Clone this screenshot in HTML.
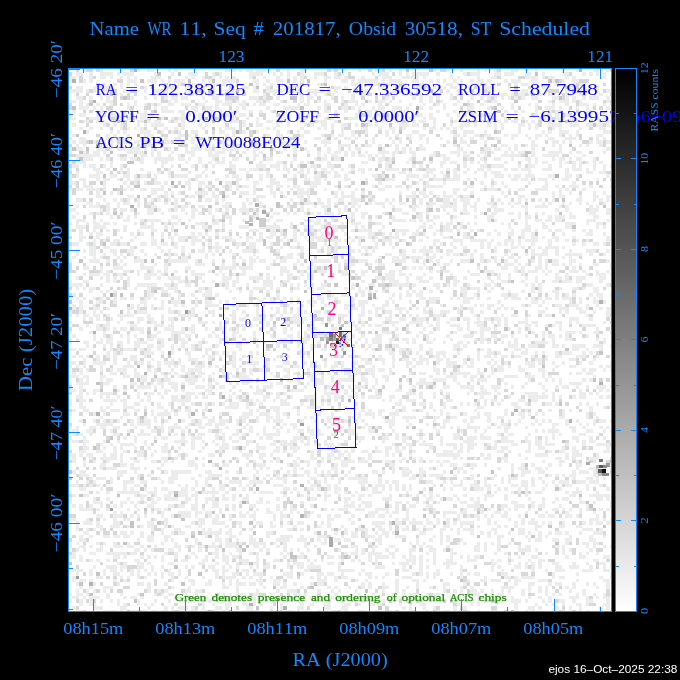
<!DOCTYPE html><html><head><meta charset="utf-8"><title>WR 11 ACIS field</title><style>html,body{margin:0;padding:0;background:#000;overflow:hidden}svg{display:block}text{font-kerning:none;font-variant-ligatures:none}</style></head><body>
<svg width="680" height="680" viewBox="0 0 680 680">
<rect width="680" height="680" fill="#000"/>
<rect x="69" y="69" width="542" height="542" fill="#fff"/>
<g shape-rendering="crispEdges"><path fill="#ececec" d="M83 69h3v3h-3zM100 69h3v3h-3zM120 69h3v3h-3zM137 69h3v3h-3zM147 69h7v3h-7zM168 69h3v3h-3zM174 69h4v3h-4zM225 69h11v3h-11zM239 69h3v3h-3zM246 69h7v3h-7zM256 69h10v3h-10zM287 69h3v3h-3zM300 69h7v3h-7zM331 69h3v3h-3zM358 69h3v3h-3zM375 69h7v3h-7zM389 69h3v3h-3zM399 69h3v3h-3zM433 69h3v3h-3zM446 69h4v3h-4zM460 69h3v3h-3zM477 69h3v3h-3zM484 69h3v3h-3zM494 69h3v3h-3zM511 69h7v3h-7zM525 69h3v3h-3zM535 69h3v3h-3zM562 69h3v3h-3zM576 69h3v3h-3zM593 69h6v3h-6zM606 69h4v3h-4zM76 72h7v4h-7zM89 72h4v4h-4zM100 72h13v4h-13zM117 72h3v4h-3zM123 72h11v4h-11zM154 72h3v4h-3zM171 72h3v4h-3zM188 72h10v4h-10zM212 72h3v4h-3zM219 72h3v4h-3zM249 72h14v4h-14zM273 72h3v4h-3zM280 72h3v4h-3zM287 72h3v4h-3zM300 72h4v4h-4zM314 72h10v4h-10zM334 72h4v4h-4zM341 72h3v4h-3zM372 72h3v4h-3zM378 72h11v4h-11zM399 72h3v4h-3zM406 72h3v4h-3zM412 72h17v4h-17zM436 72h4v4h-4zM450 72h3v4h-3zM463 72h4v4h-4zM470 72h10v4h-10zM494 72h7v4h-7zM504 72h10v4h-10zM525 72h6v4h-6zM542 72h3v4h-3zM562 72h7v4h-7zM582 72h4v4h-4zM589 72h4v4h-4zM596 72h3v4h-3zM603 72h3v4h-3zM69 76h7v3h-7zM89 76h4v3h-4zM100 76h6v3h-6zM110 76h3v3h-3zM120 76h3v3h-3zM127 76h3v3h-3zM134 76h3v3h-3zM151 76h10v3h-10zM185 76h3v3h-3zM191 76h4v3h-4zM202 76h3v3h-3zM212 76h3v3h-3zM219 76h3v3h-3zM225 76h4v3h-4zM232 76h4v3h-4zM249 76h4v3h-4zM263 76h3v3h-3zM276 76h4v3h-4zM287 76h3v3h-3zM293 76h4v3h-4zM300 76h4v3h-4zM314 76h3v3h-3zM324 76h7v3h-7zM334 76h7v3h-7zM344 76h4v3h-4zM361 76h4v3h-4zM382 76h10v3h-10zM402 76h17v3h-17zM423 76h3v3h-3zM450 76h3v3h-3zM457 76h3v3h-3zM477 76h3v3h-3zM491 76h6v3h-6zM525 76h13v3h-13zM542 76h3v3h-3zM548 76h7v3h-7zM565 76h4v3h-4zM572 76h4v3h-4zM603 76h3v3h-3zM69 79h3v4h-3zM83 79h3v4h-3zM89 79h4v4h-4zM127 79h10v4h-10zM147 79h10v4h-10zM161 79h3v4h-3zM168 79h3v4h-3zM174 79h11v4h-11zM202 79h3v4h-3zM208 79h4v4h-4zM222 79h14v4h-14zM253 79h6v4h-6zM266 79h4v4h-4zM276 79h7v4h-7zM293 79h4v4h-4zM300 79h4v4h-4zM324 79h3v4h-3zM341 79h7v4h-7zM351 79h4v4h-4zM358 79h20v4h-20zM382 79h3v4h-3zM389 79h13v4h-13zM412 79h7v4h-7zM429 79h4v4h-4zM436 79h4v4h-4zM443 79h3v4h-3zM453 79h4v4h-4zM460 79h3v4h-3zM470 79h4v4h-4zM477 79h7v4h-7zM487 79h4v4h-4zM504 79h4v4h-4zM511 79h10v4h-10zM531 79h7v4h-7zM552 79h3v4h-3zM562 79h3v4h-3zM572 79h7v4h-7zM610 79h1v4h-1zM103 83h3v3h-3zM113 83h4v3h-4zM120 83h3v3h-3zM127 83h3v3h-3zM134 83h3v3h-3zM161 83h3v3h-3zM178 83h3v3h-3zM191 83h4v3h-4zM205 83h14v3h-14zM222 83h3v3h-3zM229 83h3v3h-3zM236 83h3v3h-3zM256 83h3v3h-3zM263 83h3v3h-3zM270 83h3v3h-3zM307 83h3v3h-3zM317 83h4v3h-4zM351 83h10v3h-10zM368 83h4v3h-4zM375 83h3v3h-3zM385 83h7v3h-7zM402 83h4v3h-4zM419 83h7v3h-7zM446 83h7v3h-7zM457 83h6v3h-6zM474 83h3v3h-3zM484 83h3v3h-3zM491 83h3v3h-3zM514 83h4v3h-4zM521 83h7v3h-7zM555 83h4v3h-4zM572 83h4v3h-4zM579 83h7v3h-7zM610 83h1v3h-1zM76 86h7v3h-7zM93 86h17v3h-17zM120 86h3v3h-3zM144 86h3v3h-3zM164 86h10v3h-10zM185 86h6v3h-6zM202 86h3v3h-3zM212 86h3v3h-3zM242 86h7v3h-7zM253 86h3v3h-3zM266 86h4v3h-4zM287 86h3v3h-3zM293 86h7v3h-7zM327 86h4v3h-4zM334 86h7v3h-7zM344 86h4v3h-4zM355 86h3v3h-3zM378 86h7v3h-7zM402 86h4v3h-4zM416 86h7v3h-7zM426 86h3v3h-3zM433 86h3v3h-3zM443 86h3v3h-3zM450 86h7v3h-7zM477 86h3v3h-3zM484 86h10v3h-10zM508 86h3v3h-3zM535 86h3v3h-3zM542 86h6v3h-6zM569 86h7v3h-7zM596 86h3v3h-3zM69 89h14v4h-14zM86 89h3v4h-3zM93 89h3v4h-3zM103 89h7v4h-7zM123 89h4v4h-4zM144 89h3v4h-3zM154 89h7v4h-7zM164 89h4v4h-4zM171 89h3v4h-3zM185 89h6v4h-6zM202 89h3v4h-3zM212 89h3v4h-3zM219 89h3v4h-3zM225 89h11v4h-11zM253 89h6v4h-6zM266 89h17v4h-17zM287 89h3v4h-3zM293 89h7v4h-7zM307 89h17v4h-17zM327 89h4v4h-4zM334 89h4v4h-4zM361 89h7v4h-7zM392 89h10v4h-10zM406 89h6v4h-6zM416 89h3v4h-3zM446 89h4v4h-4zM457 89h6v4h-6zM487 89h4v4h-4zM521 89h7v4h-7zM545 89h3v4h-3zM565 89h4v4h-4zM576 89h6v4h-6zM586 89h3v4h-3zM596 89h3v4h-3zM606 89h5v4h-5zM103 93h3v3h-3zM113 93h4v3h-4zM120 93h3v3h-3zM157 93h4v3h-4zM171 93h7v3h-7zM191 93h7v3h-7zM212 93h3v3h-3zM219 93h6v3h-6zM236 93h3v3h-3zM263 93h3v3h-3zM273 93h3v3h-3zM300 93h4v3h-4zM307 93h3v3h-3zM314 93h3v3h-3zM324 93h3v3h-3zM331 93h3v3h-3zM351 93h4v3h-4zM361 93h7v3h-7zM375 93h3v3h-3zM389 93h3v3h-3zM402 93h4v3h-4zM409 93h7v3h-7zM419 93h4v3h-4zM426 93h3v3h-3zM436 93h4v3h-4zM450 93h3v3h-3zM457 93h6v3h-6zM470 93h4v3h-4zM477 93h3v3h-3zM501 93h7v3h-7zM511 93h3v3h-3zM518 93h7v3h-7zM528 93h3v3h-3zM538 93h7v3h-7zM548 93h4v3h-4zM565 93h7v3h-7zM579 93h3v3h-3zM599 93h4v3h-4zM76 96h7v4h-7zM89 96h4v4h-4zM100 96h3v4h-3zM106 96h4v4h-4zM130 96h4v4h-4zM144 96h3v4h-3zM154 96h3v4h-3zM164 96h4v4h-4zM171 96h7v4h-7zM181 96h7v4h-7zM202 96h3v4h-3zM212 96h7v4h-7zM249 96h10v4h-10zM263 96h3v4h-3zM276 96h4v4h-4zM300 96h4v4h-4zM307 96h7v4h-7zM331 96h3v4h-3zM341 96h3v4h-3zM351 96h4v4h-4zM385 96h4v4h-4zM412 96h4v4h-4zM419 96h4v4h-4zM429 96h4v4h-4zM436 96h4v4h-4zM450 96h3v4h-3zM470 96h4v4h-4zM480 96h4v4h-4zM487 96h4v4h-4zM494 96h3v4h-3zM501 96h3v4h-3zM508 96h3v4h-3zM514 96h4v4h-4zM521 96h4v4h-4zM531 96h7v4h-7zM552 96h7v4h-7zM565 96h4v4h-4zM572 96h4v4h-4zM582 96h4v4h-4zM589 96h10v4h-10zM606 96h4v4h-4zM69 100h7v3h-7zM79 100h4v3h-4zM106 100h7v3h-7zM134 100h3v3h-3zM168 100h3v3h-3zM174 100h4v3h-4zM205 100h3v3h-3zM215 100h7v3h-7zM225 100h7v3h-7zM236 100h3v3h-3zM242 100h4v3h-4zM256 100h7v3h-7zM266 100h4v3h-4zM280 100h3v3h-3zM300 100h4v3h-4zM307 100h3v3h-3zM317 100h4v3h-4zM324 100h3v3h-3zM341 100h3v3h-3zM348 100h10v3h-10zM368 100h4v3h-4zM378 100h7v3h-7zM389 100h3v3h-3zM399 100h3v3h-3zM419 100h4v3h-4zM429 100h4v3h-4zM440 100h3v3h-3zM457 100h3v3h-3zM467 100h3v3h-3zM484 100h3v3h-3zM491 100h6v3h-6zM548 100h4v3h-4zM559 100h10v3h-10zM572 100h4v3h-4zM579 100h3v3h-3zM606 100h4v3h-4zM79 103h4v3h-4zM86 103h3v3h-3zM96 103h4v3h-4zM110 103h3v3h-3zM127 103h3v3h-3zM134 103h3v3h-3zM144 103h3v3h-3zM151 103h3v3h-3zM157 103h4v3h-4zM168 103h6v3h-6zM181 103h10v3h-10zM198 103h7v3h-7zM215 103h4v3h-4zM222 103h10v3h-10zM239 103h7v3h-7zM253 103h3v3h-3zM259 103h7v3h-7zM273 103h7v3h-7zM297 103h3v3h-3zM304 103h6v3h-6zM324 103h7v3h-7zM344 103h4v3h-4zM355 103h3v3h-3zM361 103h4v3h-4zM378 103h4v3h-4zM409 103h3v3h-3zM423 103h3v3h-3zM436 103h4v3h-4zM443 103h3v3h-3zM453 103h4v3h-4zM470 103h4v3h-4zM480 103h4v3h-4zM511 103h3v3h-3zM528 103h3v3h-3zM535 103h3v3h-3zM552 103h3v3h-3zM565 103h4v3h-4zM579 103h10v3h-10zM593 103h3v3h-3zM603 103h3v3h-3zM610 103h1v3h-1zM79 106h10v4h-10zM93 106h3v4h-3zM100 106h3v4h-3zM127 106h3v4h-3zM154 106h3v4h-3zM161 106h7v4h-7zM191 106h7v4h-7zM205 106h7v4h-7zM215 106h4v4h-4zM236 106h3v4h-3zM242 106h4v4h-4zM266 106h4v4h-4zM283 106h17v4h-17zM317 106h4v4h-4zM324 106h3v4h-3zM341 106h7v4h-7zM351 106h4v4h-4zM358 106h3v4h-3zM372 106h3v4h-3zM378 106h7v4h-7zM392 106h10v4h-10zM406 106h3v4h-3zM419 106h4v4h-4zM429 106h4v4h-4zM443 106h3v4h-3zM467 106h7v4h-7zM487 106h4v4h-4zM501 106h3v4h-3zM511 106h3v4h-3zM535 106h3v4h-3zM545 106h10v4h-10zM559 106h3v4h-3zM576 106h3v4h-3zM586 106h3v4h-3zM606 106h4v4h-4zM72 110h4v3h-4zM96 110h7v3h-7zM106 110h7v3h-7zM120 110h7v3h-7zM130 110h4v3h-4zM137 110h3v3h-3zM144 110h3v3h-3zM161 110h13v3h-13zM178 110h7v3h-7zM188 110h3v3h-3zM195 110h3v3h-3zM202 110h3v3h-3zM208 110h7v3h-7zM219 110h3v3h-3zM229 110h10v3h-10zM249 110h4v3h-4zM259 110h4v3h-4zM270 110h3v3h-3zM283 110h4v3h-4zM290 110h7v3h-7zM300 110h4v3h-4zM310 110h7v3h-7zM324 110h7v3h-7zM334 110h4v3h-4zM344 110h4v3h-4zM365 110h7v3h-7zM382 110h3v3h-3zM392 110h3v3h-3zM402 110h7v3h-7zM436 110h4v3h-4zM453 110h4v3h-4zM470 110h4v3h-4zM494 110h3v3h-3zM504 110h4v3h-4zM514 110h4v3h-4zM521 110h4v3h-4zM535 110h3v3h-3zM542 110h3v3h-3zM548 110h4v3h-4zM555 110h7v3h-7zM586 110h7v3h-7zM69 113h3v4h-3zM79 113h7v4h-7zM96 113h4v4h-4zM103 113h3v4h-3zM110 113h10v4h-10zM123 113h4v4h-4zM140 113h14v4h-14zM181 113h4v4h-4zM188 113h3v4h-3zM198 113h4v4h-4zM219 113h3v4h-3zM225 113h11v4h-11zM239 113h7v4h-7zM297 113h3v4h-3zM307 113h3v4h-3zM317 113h4v4h-4zM355 113h6v4h-6zM365 113h7v4h-7zM375 113h7v4h-7zM392 113h7v4h-7zM412 113h11v4h-11zM429 113h4v4h-4zM446 113h4v4h-4zM457 113h3v4h-3zM463 113h4v4h-4zM470 113h4v4h-4zM477 113h17v4h-17zM535 113h3v4h-3zM545 113h7v4h-7zM555 113h4v4h-4zM565 113h4v4h-4zM586 113h3v4h-3zM603 113h3v4h-3zM610 113h1v4h-1zM69 117h7v3h-7zM89 117h14v3h-14zM120 117h3v3h-3zM127 117h3v3h-3zM134 117h3v3h-3zM140 117h7v3h-7zM161 117h3v3h-3zM171 117h3v3h-3zM178 117h7v3h-7zM198 117h4v3h-4zM219 117h3v3h-3zM232 117h4v3h-4zM246 117h3v3h-3zM256 117h3v3h-3zM283 117h7v3h-7zM297 117h3v3h-3zM304 117h3v3h-3zM324 117h3v3h-3zM331 117h3v3h-3zM348 117h10v3h-10zM382 117h7v3h-7zM392 117h3v3h-3zM409 117h3v3h-3zM423 117h3v3h-3zM429 117h7v3h-7zM450 117h3v3h-3zM504 117h4v3h-4zM521 117h4v3h-4zM538 117h14v3h-14zM555 117h10v3h-10zM569 117h7v3h-7zM582 117h4v3h-4zM589 117h4v3h-4zM596 117h3v3h-3zM603 117h3v3h-3zM83 120h6v3h-6zM96 120h10v3h-10zM113 120h4v3h-4zM120 120h3v3h-3zM137 120h7v3h-7zM147 120h4v3h-4zM154 120h7v3h-7zM168 120h3v3h-3zM174 120h4v3h-4zM181 120h4v3h-4zM188 120h7v3h-7zM202 120h3v3h-3zM229 120h10v3h-10zM242 120h4v3h-4zM256 120h3v3h-3zM266 120h7v3h-7zM276 120h4v3h-4zM287 120h3v3h-3zM300 120h4v3h-4zM317 120h10v3h-10zM334 120h4v3h-4zM361 120h4v3h-4zM368 120h4v3h-4zM382 120h3v3h-3zM395 120h4v3h-4zM406 120h3v3h-3zM412 120h4v3h-4zM419 120h7v3h-7zM433 120h3v3h-3zM453 120h4v3h-4zM463 120h4v3h-4zM470 120h4v3h-4zM480 120h7v3h-7zM494 120h7v3h-7zM504 120h4v3h-4zM511 120h7v3h-7zM525 120h3v3h-3zM531 120h4v3h-4zM548 120h7v3h-7zM569 120h10v3h-10zM599 120h4v3h-4zM606 120h4v3h-4zM72 123h4v4h-4zM103 123h3v4h-3zM113 123h4v4h-4zM120 123h3v4h-3zM137 123h3v4h-3zM144 123h3v4h-3zM151 123h13v4h-13zM181 123h4v4h-4zM198 123h4v4h-4zM205 123h3v4h-3zM242 123h4v4h-4zM256 123h7v4h-7zM276 123h4v4h-4zM287 123h3v4h-3zM304 123h3v4h-3zM310 123h4v4h-4zM321 123h6v4h-6zM331 123h3v4h-3zM341 123h7v4h-7zM355 123h3v4h-3zM368 123h4v4h-4zM375 123h3v4h-3zM399 123h10v4h-10zM412 123h7v4h-7zM433 123h3v4h-3zM450 123h3v4h-3zM460 123h10v4h-10zM474 123h3v4h-3zM487 123h4v4h-4zM494 123h3v4h-3zM501 123h3v4h-3zM518 123h7v4h-7zM528 123h3v4h-3zM535 123h3v4h-3zM548 123h14v4h-14zM569 123h10v4h-10zM586 123h7v4h-7zM596 123h7v4h-7zM606 123h4v4h-4zM79 127h4v3h-4zM89 127h4v3h-4zM100 127h3v3h-3zM120 127h3v3h-3zM127 127h3v3h-3zM134 127h3v3h-3zM140 127h4v3h-4zM164 127h4v3h-4zM174 127h4v3h-4zM181 127h4v3h-4zM202 127h3v3h-3zM219 127h3v3h-3zM225 127h11v3h-11zM266 127h4v3h-4zM273 127h3v3h-3zM300 127h4v3h-4zM317 127h4v3h-4zM324 127h3v3h-3zM331 127h3v3h-3zM341 127h3v3h-3zM361 127h7v3h-7zM378 127h4v3h-4zM389 127h6v3h-6zM402 127h4v3h-4zM423 127h3v3h-3zM429 127h7v3h-7zM440 127h3v3h-3zM446 127h4v3h-4zM453 127h4v3h-4zM460 127h3v3h-3zM494 127h3v3h-3zM501 127h3v3h-3zM518 127h3v3h-3zM528 127h3v3h-3zM535 127h3v3h-3zM552 127h3v3h-3zM559 127h3v3h-3zM579 127h3v3h-3zM599 127h7v3h-7zM69 130h3v4h-3zM86 130h3v4h-3zM110 130h3v4h-3zM117 130h3v4h-3zM123 130h4v4h-4zM140 130h11v4h-11zM161 130h3v4h-3zM171 130h3v4h-3zM178 130h3v4h-3zM191 130h7v4h-7zM219 130h6v4h-6zM232 130h4v4h-4zM242 130h4v4h-4zM256 130h3v4h-3zM276 130h4v4h-4zM287 130h3v4h-3zM297 130h3v4h-3zM304 130h6v4h-6zM341 130h3v4h-3zM351 130h4v4h-4zM365 130h3v4h-3zM385 130h4v4h-4zM392 130h3v4h-3zM412 130h7v4h-7zM450 130h3v4h-3zM463 130h11v4h-11zM484 130h3v4h-3zM518 130h3v4h-3zM542 130h3v4h-3zM548 130h4v4h-4zM559 130h10v4h-10zM576 130h3v4h-3zM603 130h8v4h-8zM72 134h4v3h-4zM106 134h4v3h-4zM113 134h4v3h-4zM127 134h3v3h-3zM144 134h10v3h-10zM178 134h7v3h-7zM188 134h3v3h-3zM212 134h3v3h-3zM225 134h4v3h-4zM232 134h4v3h-4zM266 134h4v3h-4zM276 134h7v3h-7zM300 134h4v3h-4zM321 134h3v3h-3zM331 134h3v3h-3zM338 134h6v3h-6zM351 134h4v3h-4zM385 134h4v3h-4zM395 134h4v3h-4zM406 134h6v3h-6zM419 134h7v3h-7zM453 134h7v3h-7zM463 134h4v3h-4zM474 134h6v3h-6zM484 134h7v3h-7zM504 134h4v3h-4zM511 134h7v3h-7zM525 134h3v3h-3zM535 134h7v3h-7zM545 134h3v3h-3zM559 134h3v3h-3zM569 134h3v3h-3zM576 134h3v3h-3zM596 134h7v3h-7zM69 137h3v3h-3zM79 137h7v3h-7zM100 137h3v3h-3zM106 137h7v3h-7zM123 137h4v3h-4zM140 137h7v3h-7zM151 137h3v3h-3zM164 137h4v3h-4zM174 137h7v3h-7zM191 137h4v3h-4zM212 137h7v3h-7zM236 137h3v3h-3zM253 137h3v3h-3zM270 137h3v3h-3zM276 137h4v3h-4zM314 137h7v3h-7zM324 137h3v3h-3zM334 137h4v3h-4zM344 137h7v3h-7zM355 137h3v3h-3zM372 137h3v3h-3zM389 137h3v3h-3zM399 137h3v3h-3zM409 137h3v3h-3zM419 137h4v3h-4zM426 137h3v3h-3zM440 137h3v3h-3zM460 137h3v3h-3zM470 137h4v3h-4zM480 137h4v3h-4zM494 137h7v3h-7zM511 137h3v3h-3zM528 137h3v3h-3zM535 137h3v3h-3zM548 137h7v3h-7zM565 137h11v3h-11zM596 137h3v3h-3zM603 137h3v3h-3zM72 140h4v4h-4zM79 140h7v4h-7zM93 140h3v4h-3zM100 140h6v4h-6zM110 140h3v4h-3zM123 140h7v4h-7zM134 140h6v4h-6zM144 140h7v4h-7zM157 140h4v4h-4zM164 140h7v4h-7zM174 140h7v4h-7zM191 140h4v4h-4zM222 140h3v4h-3zM253 140h6v4h-6zM263 140h3v4h-3zM270 140h3v4h-3zM280 140h7v4h-7zM293 140h4v4h-4zM304 140h3v4h-3zM321 140h10v4h-10zM372 140h3v4h-3zM392 140h3v4h-3zM399 140h3v4h-3zM426 140h3v4h-3zM446 140h4v4h-4zM460 140h7v4h-7zM484 140h3v4h-3zM531 140h4v4h-4zM552 140h7v4h-7zM562 140h3v4h-3zM569 140h3v4h-3zM589 140h4v4h-4zM596 140h7v4h-7zM606 140h5v4h-5zM76 144h3v3h-3zM83 144h3v3h-3zM100 144h6v3h-6zM110 144h3v3h-3zM117 144h6v3h-6zM147 144h4v3h-4zM161 144h3v3h-3zM195 144h3v3h-3zM202 144h3v3h-3zM212 144h3v3h-3zM222 144h7v3h-7zM236 144h3v3h-3zM249 144h10v3h-10zM263 144h3v3h-3zM283 144h4v3h-4zM290 144h3v3h-3zM324 144h3v3h-3zM338 144h13v3h-13zM365 144h7v3h-7zM378 144h4v3h-4zM389 144h3v3h-3zM395 144h4v3h-4zM419 144h4v3h-4zM440 144h3v3h-3zM453 144h4v3h-4zM467 144h3v3h-3zM501 144h7v3h-7zM514 144h4v3h-4zM525 144h3v3h-3zM531 144h7v3h-7zM552 144h3v3h-3zM559 144h3v3h-3zM579 144h3v3h-3zM586 144h3v3h-3zM599 144h4v3h-4zM69 147h3v4h-3zM76 147h7v4h-7zM96 147h10v4h-10zM110 147h3v4h-3zM117 147h10v4h-10zM130 147h10v4h-10zM144 147h3v4h-3zM151 147h3v4h-3zM168 147h3v4h-3zM185 147h3v4h-3zM191 147h11v4h-11zM205 147h7v4h-7zM222 147h17v4h-17zM246 147h3v4h-3zM253 147h6v4h-6zM273 147h3v4h-3zM283 147h4v4h-4zM293 147h4v4h-4zM304 147h3v4h-3zM327 147h4v4h-4zM338 147h3v4h-3zM348 147h3v4h-3zM355 147h6v4h-6zM382 147h3v4h-3zM395 147h4v4h-4zM402 147h4v4h-4zM409 147h3v4h-3zM419 147h7v4h-7zM457 147h6v4h-6zM484 147h7v4h-7zM494 147h7v4h-7zM508 147h3v4h-3zM514 147h4v4h-4zM531 147h4v4h-4zM559 147h3v4h-3zM606 147h5v4h-5zM69 151h3v3h-3zM83 151h3v3h-3zM93 151h7v3h-7zM103 151h3v3h-3zM127 151h17v3h-17zM151 151h3v3h-3zM157 151h4v3h-4zM171 151h3v3h-3zM185 151h10v3h-10zM208 151h4v3h-4zM215 151h10v3h-10zM229 151h3v3h-3zM242 151h4v3h-4zM253 151h3v3h-3zM259 151h4v3h-4zM280 151h3v3h-3zM293 151h4v3h-4zM307 151h3v3h-3zM317 151h4v3h-4zM327 151h4v3h-4zM334 151h7v3h-7zM344 151h4v3h-4zM351 151h4v3h-4zM365 151h3v3h-3zM378 151h11v3h-11zM392 151h7v3h-7zM402 151h4v3h-4zM409 151h7v3h-7zM433 151h3v3h-3zM450 151h10v3h-10zM463 151h4v3h-4zM480 151h7v3h-7zM491 151h3v3h-3zM504 151h4v3h-4zM511 151h3v3h-3zM518 151h7v3h-7zM531 151h4v3h-4zM548 151h14v3h-14zM569 151h3v3h-3zM576 151h6v3h-6zM603 151h3v3h-3zM76 154h24v3h-24zM117 154h3v3h-3zM140 154h7v3h-7zM151 154h3v3h-3zM157 154h4v3h-4zM168 154h3v3h-3zM178 154h3v3h-3zM191 154h4v3h-4zM208 154h11v3h-11zM253 154h6v3h-6zM317 154h4v3h-4zM324 154h3v3h-3zM331 154h7v3h-7zM344 154h4v3h-4zM351 154h4v3h-4zM358 154h7v3h-7zM368 154h4v3h-4zM375 154h3v3h-3zM382 154h3v3h-3zM392 154h3v3h-3zM412 154h4v3h-4zM429 154h7v3h-7zM440 154h6v3h-6zM457 154h3v3h-3zM463 154h7v3h-7zM477 154h3v3h-3zM484 154h3v3h-3zM501 154h20v3h-20zM531 154h4v3h-4zM542 154h17v3h-17zM582 154h4v3h-4zM76 157h3v4h-3zM83 157h10v4h-10zM100 157h3v4h-3zM106 157h4v4h-4zM120 157h7v4h-7zM130 157h7v4h-7zM140 157h4v4h-4zM154 157h20v4h-20zM178 157h7v4h-7zM188 157h3v4h-3zM198 157h4v4h-4zM212 157h3v4h-3zM222 157h3v4h-3zM232 157h7v4h-7zM253 157h3v4h-3zM266 157h7v4h-7zM293 157h4v4h-4zM314 157h3v4h-3zM321 157h6v4h-6zM334 157h7v4h-7zM368 157h4v4h-4zM378 157h7v4h-7zM389 157h3v4h-3zM409 157h3v4h-3zM443 157h7v4h-7zM467 157h3v4h-3zM480 157h4v4h-4zM494 157h7v4h-7zM511 157h3v4h-3zM525 157h6v4h-6zM535 157h3v4h-3zM552 157h3v4h-3zM559 157h6v4h-6zM569 157h3v4h-3zM576 157h6v4h-6zM593 157h3v4h-3zM69 161h3v3h-3zM79 161h7v3h-7zM110 161h3v3h-3zM140 161h4v3h-4zM154 161h3v3h-3zM161 161h7v3h-7zM185 161h3v3h-3zM198 161h4v3h-4zM208 161h4v3h-4zM215 161h10v3h-10zM229 161h3v3h-3zM259 161h4v3h-4zM276 161h7v3h-7zM290 161h3v3h-3zM300 161h4v3h-4zM307 161h3v3h-3zM327 161h4v3h-4zM361 161h7v3h-7zM378 161h4v3h-4zM385 161h7v3h-7zM406 161h3v3h-3zM429 161h4v3h-4zM440 161h6v3h-6zM450 161h7v3h-7zM463 161h4v3h-4zM470 161h4v3h-4zM477 161h3v3h-3zM484 161h3v3h-3zM504 161h4v3h-4zM528 161h3v3h-3zM535 161h3v3h-3zM542 161h6v3h-6zM559 161h3v3h-3zM565 161h4v3h-4zM572 161h4v3h-4zM579 161h3v3h-3zM586 161h3v3h-3zM593 161h3v3h-3zM599 161h4v3h-4zM72 164h7v4h-7zM83 164h3v4h-3zM89 164h7v4h-7zM103 164h3v4h-3zM110 164h3v4h-3zM120 164h3v4h-3zM161 164h3v4h-3zM171 164h3v4h-3zM191 164h4v4h-4zM202 164h3v4h-3zM212 164h3v4h-3zM229 164h7v4h-7zM256 164h10v4h-10zM270 164h10v4h-10zM283 164h4v4h-4zM297 164h3v4h-3zM310 164h7v4h-7zM327 164h7v4h-7zM348 164h3v4h-3zM385 164h4v4h-4zM412 164h4v4h-4zM419 164h4v4h-4zM440 164h3v4h-3zM463 164h4v4h-4zM480 164h7v4h-7zM491 164h13v4h-13zM518 164h3v4h-3zM528 164h7v4h-7zM548 164h4v4h-4zM559 164h3v4h-3zM572 164h4v4h-4zM579 164h3v4h-3zM593 164h3v4h-3zM603 164h3v4h-3zM610 164h1v4h-1zM69 168h3v3h-3zM93 168h7v3h-7zM106 168h4v3h-4zM120 168h3v3h-3zM127 168h3v3h-3zM140 168h4v3h-4zM168 168h3v3h-3zM205 168h3v3h-3zM232 168h4v3h-4zM239 168h7v3h-7zM249 168h10v3h-10zM263 168h3v3h-3zM276 168h4v3h-4zM283 168h7v3h-7zM300 168h4v3h-4zM307 168h3v3h-3zM314 168h3v3h-3zM321 168h6v3h-6zM331 168h3v3h-3zM341 168h3v3h-3zM351 168h4v3h-4zM358 168h7v3h-7zM368 168h4v3h-4zM385 168h14v3h-14zM406 168h3v3h-3zM416 168h3v3h-3zM426 168h10v3h-10zM446 168h4v3h-4zM453 168h4v3h-4zM467 168h3v3h-3zM477 168h7v3h-7zM487 168h4v3h-4zM504 168h4v3h-4zM511 168h7v3h-7zM521 168h10v3h-10zM542 168h10v3h-10zM565 168h4v3h-4zM572 168h10v3h-10zM586 168h3v3h-3zM593 168h3v3h-3zM603 168h3v3h-3zM76 171h3v3h-3zM96 171h7v3h-7zM120 171h3v3h-3zM127 171h3v3h-3zM147 171h4v3h-4zM157 171h4v3h-4zM168 171h3v3h-3zM188 171h3v3h-3zM202 171h3v3h-3zM246 171h3v3h-3zM266 171h4v3h-4zM287 171h3v3h-3zM297 171h7v3h-7zM307 171h3v3h-3zM317 171h4v3h-4zM324 171h7v3h-7zM334 171h4v3h-4zM348 171h3v3h-3zM361 171h4v3h-4zM399 171h7v3h-7zM409 171h3v3h-3zM426 171h7v3h-7zM440 171h3v3h-3zM453 171h4v3h-4zM463 171h4v3h-4zM474 171h3v3h-3zM484 171h3v3h-3zM491 171h10v3h-10zM528 171h3v3h-3zM565 171h4v3h-4zM586 171h7v3h-7zM599 171h7v3h-7zM69 174h3v4h-3zM76 174h3v4h-3zM89 174h11v4h-11zM110 174h7v4h-7zM123 174h7v4h-7zM134 174h3v4h-3zM140 174h7v4h-7zM154 174h3v4h-3zM168 174h3v4h-3zM174 174h14v4h-14zM195 174h7v4h-7zM205 174h3v4h-3zM225 174h4v4h-4zM232 174h7v4h-7zM259 174h4v4h-4zM266 174h4v4h-4zM293 174h4v4h-4zM304 174h3v4h-3zM314 174h7v4h-7zM334 174h7v4h-7zM344 174h4v4h-4zM372 174h6v4h-6zM382 174h3v4h-3zM406 174h13v4h-13zM423 174h6v4h-6zM433 174h3v4h-3zM443 174h3v4h-3zM453 174h7v4h-7zM484 174h3v4h-3zM494 174h10v4h-10zM508 174h3v4h-3zM514 174h7v4h-7zM525 174h10v4h-10zM548 174h7v4h-7zM565 174h7v4h-7zM576 174h3v4h-3zM606 174h4v4h-4zM69 178h3v3h-3zM79 178h7v3h-7zM96 178h4v3h-4zM103 178h7v3h-7zM117 178h3v3h-3zM127 178h3v3h-3zM134 178h6v3h-6zM154 178h3v3h-3zM188 178h3v3h-3zM195 178h3v3h-3zM215 178h4v3h-4zM236 178h6v3h-6zM246 178h3v3h-3zM259 178h4v3h-4zM270 178h6v3h-6zM287 178h6v3h-6zM304 178h6v3h-6zM314 178h7v3h-7zM324 178h3v3h-3zM344 178h7v3h-7zM365 178h3v3h-3zM385 178h10v3h-10zM406 178h3v3h-3zM419 178h4v3h-4zM433 178h10v3h-10zM446 178h14v3h-14zM467 178h3v3h-3zM474 178h3v3h-3zM491 178h3v3h-3zM511 178h7v3h-7zM521 178h7v3h-7zM538 178h10v3h-10zM552 178h3v3h-3zM562 178h7v3h-7zM596 178h3v3h-3zM69 181h7v4h-7zM83 181h3v4h-3zM103 181h3v4h-3zM123 181h4v4h-4zM134 181h3v4h-3zM144 181h3v4h-3zM154 181h7v4h-7zM164 181h4v4h-4zM185 181h6v4h-6zM198 181h7v4h-7zM225 181h7v4h-7zM236 181h3v4h-3zM253 181h6v4h-6zM270 181h10v4h-10zM310 181h11v4h-11zM378 181h4v4h-4zM416 181h3v4h-3zM426 181h3v4h-3zM443 181h3v4h-3zM480 181h4v4h-4zM494 181h3v4h-3zM501 181h3v4h-3zM528 181h3v4h-3zM545 181h3v4h-3zM572 181h4v4h-4zM83 185h10v3h-10zM103 185h3v3h-3zM127 185h3v3h-3zM161 185h3v3h-3zM171 185h3v3h-3zM188 185h3v3h-3zM198 185h4v3h-4zM205 185h7v3h-7zM222 185h3v3h-3zM229 185h3v3h-3zM236 185h3v3h-3zM242 185h7v3h-7zM253 185h3v3h-3zM266 185h7v3h-7zM276 185h7v3h-7zM287 185h3v3h-3zM293 185h7v3h-7zM310 185h7v3h-7zM334 185h4v3h-4zM344 185h4v3h-4zM372 185h3v3h-3zM385 185h7v3h-7zM395 185h7v3h-7zM409 185h3v3h-3zM423 185h20v3h-20zM467 185h7v3h-7zM484 185h3v3h-3zM491 185h3v3h-3zM504 185h4v3h-4zM542 185h6v3h-6zM555 185h4v3h-4zM569 185h10v3h-10zM589 185h4v3h-4zM610 185h1v3h-1zM69 188h3v3h-3zM76 188h7v3h-7zM86 188h14v3h-14zM103 188h3v3h-3zM123 188h4v3h-4zM130 188h4v3h-4zM140 188h7v3h-7zM151 188h13v3h-13zM188 188h3v3h-3zM202 188h3v3h-3zM229 188h3v3h-3zM236 188h3v3h-3zM253 188h3v3h-3zM270 188h3v3h-3zM290 188h3v3h-3zM297 188h7v3h-7zM307 188h3v3h-3zM324 188h3v3h-3zM338 188h3v3h-3zM355 188h3v3h-3zM378 188h7v3h-7zM406 188h3v3h-3zM453 188h7v3h-7zM463 188h4v3h-4zM480 188h4v3h-4zM487 188h10v3h-10zM508 188h3v3h-3zM518 188h7v3h-7zM535 188h13v3h-13zM559 188h3v3h-3zM565 188h4v3h-4zM582 188h4v3h-4zM96 191h4v4h-4zM110 191h3v4h-3zM117 191h3v4h-3zM151 191h6v4h-6zM164 191h4v4h-4zM171 191h3v4h-3zM178 191h3v4h-3zM195 191h13v4h-13zM212 191h3v4h-3zM239 191h10v4h-10zM253 191h3v4h-3zM270 191h6v4h-6zM280 191h3v4h-3zM297 191h13v4h-13zM334 191h4v4h-4zM341 191h3v4h-3zM351 191h4v4h-4zM361 191h4v4h-4zM399 191h3v4h-3zM412 191h4v4h-4zM419 191h7v4h-7zM429 191h4v4h-4zM443 191h3v4h-3zM453 191h4v4h-4zM470 191h4v4h-4zM501 191h3v4h-3zM552 191h3v4h-3zM559 191h3v4h-3zM569 191h3v4h-3zM593 191h3v4h-3zM603 191h3v4h-3zM96 195h7v3h-7zM127 195h7v3h-7zM157 195h4v3h-4zM164 195h4v3h-4zM188 195h7v3h-7zM202 195h3v3h-3zM212 195h7v3h-7zM225 195h4v3h-4zM256 195h10v3h-10zM273 195h3v3h-3zM283 195h4v3h-4zM297 195h7v3h-7zM307 195h3v3h-3zM334 195h4v3h-4zM341 195h14v3h-14zM368 195h4v3h-4zM406 195h10v3h-10zM423 195h6v3h-6zM436 195h4v3h-4zM443 195h10v3h-10zM457 195h3v3h-3zM463 195h7v3h-7zM491 195h3v3h-3zM504 195h4v3h-4zM518 195h7v3h-7zM552 195h3v3h-3zM559 195h6v3h-6zM579 195h3v3h-3zM593 195h6v3h-6zM606 195h5v3h-5zM76 198h7v4h-7zM103 198h3v4h-3zM113 198h4v4h-4zM120 198h3v4h-3zM127 198h3v4h-3zM137 198h3v4h-3zM151 198h3v4h-3zM157 198h4v4h-4zM168 198h3v4h-3zM174 198h4v4h-4zM205 198h7v4h-7zM215 198h4v4h-4zM222 198h3v4h-3zM246 198h3v4h-3zM256 198h3v4h-3zM290 198h3v4h-3zM300 198h4v4h-4zM307 198h3v4h-3zM317 198h4v4h-4zM327 198h4v4h-4zM338 198h6v4h-6zM351 198h10v4h-10zM372 198h3v4h-3zM385 198h4v4h-4zM392 198h3v4h-3zM419 198h4v4h-4zM443 198h7v4h-7zM453 198h4v4h-4zM460 198h10v4h-10zM477 198h3v4h-3zM497 198h4v4h-4zM518 198h3v4h-3zM525 198h3v4h-3zM538 198h4v4h-4zM552 198h3v4h-3zM576 198h6v4h-6zM593 198h3v4h-3zM599 198h4v4h-4zM606 198h4v4h-4zM86 202h7v3h-7zM96 202h4v3h-4zM106 202h4v3h-4zM117 202h3v3h-3zM123 202h7v3h-7zM137 202h3v3h-3zM147 202h4v3h-4zM164 202h4v3h-4zM174 202h4v3h-4zM188 202h3v3h-3zM225 202h7v3h-7zM242 202h4v3h-4zM249 202h4v3h-4zM259 202h4v3h-4zM297 202h3v3h-3zM304 202h10v3h-10zM317 202h7v3h-7zM327 202h4v3h-4zM334 202h4v3h-4zM351 202h7v3h-7zM368 202h4v3h-4zM375 202h10v3h-10zM389 202h3v3h-3zM399 202h7v3h-7zM419 202h4v3h-4zM429 202h7v3h-7zM443 202h7v3h-7zM453 202h4v3h-4zM463 202h7v3h-7zM474 202h3v3h-3zM487 202h7v3h-7zM501 202h3v3h-3zM508 202h3v3h-3zM514 202h7v3h-7zM542 202h3v3h-3zM548 202h4v3h-4zM562 202h3v3h-3zM569 202h3v3h-3zM579 202h3v3h-3zM586 202h3v3h-3zM603 202h3v3h-3zM76 205h3v3h-3zM89 205h11v3h-11zM106 205h4v3h-4zM117 205h3v3h-3zM137 205h3v3h-3zM151 205h6v3h-6zM174 205h4v3h-4zM181 205h7v3h-7zM198 205h7v3h-7zM222 205h7v3h-7zM242 205h4v3h-4zM259 205h4v3h-4zM287 205h3v3h-3zM300 205h4v3h-4zM314 205h3v3h-3zM321 205h10v3h-10zM344 205h4v3h-4zM351 205h4v3h-4zM358 205h3v3h-3zM382 205h3v3h-3zM392 205h3v3h-3zM412 205h7v3h-7zM426 205h7v3h-7zM440 205h17v3h-17zM463 205h4v3h-4zM470 205h7v3h-7zM491 205h6v3h-6zM511 205h3v3h-3zM521 205h7v3h-7zM535 205h13v3h-13zM559 205h3v3h-3zM565 205h4v3h-4zM589 205h4v3h-4zM596 205h3v3h-3zM69 208h7v4h-7zM100 208h3v4h-3zM106 208h4v4h-4zM120 208h7v4h-7zM130 208h4v4h-4zM147 208h7v4h-7zM157 208h4v4h-4zM168 208h3v4h-3zM174 208h4v4h-4zM181 208h4v4h-4zM191 208h7v4h-7zM208 208h4v4h-4zM215 208h4v4h-4zM225 208h4v4h-4zM239 208h10v4h-10zM253 208h3v4h-3zM263 208h3v4h-3zM300 208h4v4h-4zM307 208h3v4h-3zM324 208h3v4h-3zM338 208h3v4h-3zM344 208h4v4h-4zM355 208h3v4h-3zM395 208h7v4h-7zM412 208h4v4h-4zM443 208h3v4h-3zM453 208h4v4h-4zM463 208h4v4h-4zM474 208h3v4h-3zM494 208h10v4h-10zM525 208h3v4h-3zM555 208h4v4h-4zM565 208h4v4h-4zM589 208h10v4h-10zM606 208h5v4h-5zM76 212h3v3h-3zM89 212h4v3h-4zM96 212h4v3h-4zM106 212h4v3h-4zM137 212h3v3h-3zM147 212h7v3h-7zM161 212h3v3h-3zM185 212h3v3h-3zM191 212h4v3h-4zM198 212h4v3h-4zM208 212h4v3h-4zM222 212h3v3h-3zM246 212h3v3h-3zM256 212h3v3h-3zM273 212h7v3h-7zM287 212h3v3h-3zM293 212h4v3h-4zM304 212h3v3h-3zM310 212h4v3h-4zM317 212h4v3h-4zM324 212h10v3h-10zM338 212h3v3h-3zM351 212h4v3h-4zM361 212h7v3h-7zM382 212h3v3h-3zM402 212h7v3h-7zM419 212h4v3h-4zM426 212h3v3h-3zM446 212h4v3h-4zM463 212h7v3h-7zM480 212h4v3h-4zM491 212h6v3h-6zM508 212h6v3h-6zM518 212h3v3h-3zM535 212h3v3h-3zM542 212h3v3h-3zM569 212h3v3h-3zM589 212h7v3h-7zM606 212h5v3h-5zM72 215h4v4h-4zM110 215h3v4h-3zM120 215h3v4h-3zM127 215h3v4h-3zM134 215h3v4h-3zM171 215h7v4h-7zM191 215h4v4h-4zM212 215h3v4h-3zM225 215h7v4h-7zM253 215h6v4h-6zM270 215h3v4h-3zM314 215h3v4h-3zM331 215h3v4h-3zM351 215h4v4h-4zM361 215h4v4h-4zM375 215h3v4h-3zM392 215h3v4h-3zM416 215h7v4h-7zM433 215h7v4h-7zM453 215h4v4h-4zM474 215h3v4h-3zM487 215h7v4h-7zM518 215h3v4h-3zM525 215h6v4h-6zM548 215h4v4h-4zM555 215h10v4h-10zM569 215h7v4h-7zM593 215h6v4h-6zM610 215h1v4h-1zM76 219h10v3h-10zM93 219h3v3h-3zM100 219h3v3h-3zM123 219h7v3h-7zM140 219h4v3h-4zM147 219h14v3h-14zM168 219h3v3h-3zM178 219h3v3h-3zM188 219h3v3h-3zM215 219h4v3h-4zM229 219h3v3h-3zM242 219h4v3h-4zM263 219h7v3h-7zM276 219h7v3h-7zM304 219h10v3h-10zM317 219h4v3h-4zM331 219h3v3h-3zM368 219h4v3h-4zM392 219h14v3h-14zM409 219h7v3h-7zM419 219h4v3h-4zM426 219h7v3h-7zM450 219h3v3h-3zM487 219h4v3h-4zM494 219h3v3h-3zM525 219h3v3h-3zM535 219h7v3h-7zM545 219h7v3h-7zM555 219h7v3h-7zM586 219h10v3h-10zM606 219h4v3h-4zM69 222h3v3h-3zM76 222h3v3h-3zM86 222h3v3h-3zM93 222h7v3h-7zM103 222h7v3h-7zM113 222h4v3h-4zM134 222h3v3h-3zM144 222h3v3h-3zM151 222h3v3h-3zM164 222h4v3h-4zM171 222h7v3h-7zM195 222h10v3h-10zM212 222h7v3h-7zM222 222h3v3h-3zM229 222h3v3h-3zM259 222h4v3h-4zM273 222h3v3h-3zM290 222h3v3h-3zM314 222h7v3h-7zM324 222h3v3h-3zM341 222h3v3h-3zM351 222h10v3h-10zM375 222h7v3h-7zM423 222h3v3h-3zM433 222h3v3h-3zM440 222h3v3h-3zM446 222h7v3h-7zM460 222h3v3h-3zM467 222h3v3h-3zM474 222h3v3h-3zM501 222h3v3h-3zM508 222h3v3h-3zM525 222h3v3h-3zM542 222h3v3h-3zM565 222h11v3h-11zM586 222h3v3h-3zM596 222h7v3h-7zM76 225h10v4h-10zM93 225h13v4h-13zM123 225h4v4h-4zM140 225h14v4h-14zM164 225h4v4h-4zM171 225h3v4h-3zM202 225h6v4h-6zM222 225h3v4h-3zM239 225h10v4h-10zM259 225h21v4h-21zM290 225h3v4h-3zM304 225h10v4h-10zM321 225h3v4h-3zM327 225h11v4h-11zM355 225h3v4h-3zM361 225h4v4h-4zM382 225h3v4h-3zM419 225h7v4h-7zM429 225h4v4h-4zM443 225h7v4h-7zM460 225h3v4h-3zM508 225h3v4h-3zM525 225h6v4h-6zM542 225h6v4h-6zM565 225h7v4h-7zM596 225h3v4h-3zM603 225h3v4h-3zM69 229h3v3h-3zM79 229h4v3h-4zM93 229h3v3h-3zM106 229h4v3h-4zM117 229h3v3h-3zM123 229h4v3h-4zM137 229h3v3h-3zM151 229h6v3h-6zM171 229h3v3h-3zM208 229h4v3h-4zM219 229h3v3h-3zM229 229h3v3h-3zM249 229h10v3h-10zM270 229h6v3h-6zM280 229h3v3h-3zM293 229h4v3h-4zM310 229h4v3h-4zM317 229h4v3h-4zM331 229h7v3h-7zM341 229h3v3h-3zM351 229h4v3h-4zM358 229h14v3h-14zM378 229h4v3h-4zM395 229h14v3h-14zM416 229h3v3h-3zM436 229h4v3h-4zM443 229h10v3h-10zM457 229h3v3h-3zM470 229h4v3h-4zM477 229h3v3h-3zM494 229h3v3h-3zM511 229h3v3h-3zM521 229h10v3h-10zM535 229h3v3h-3zM548 229h4v3h-4zM555 229h7v3h-7zM572 229h4v3h-4zM582 229h4v3h-4zM589 229h4v3h-4zM79 232h4v4h-4zM89 232h4v4h-4zM96 232h7v4h-7zM130 232h4v4h-4zM140 232h4v4h-4zM161 232h3v4h-3zM174 232h4v4h-4zM191 232h4v4h-4zM198 232h4v4h-4zM205 232h3v4h-3zM215 232h4v4h-4zM259 232h4v4h-4zM270 232h6v4h-6zM280 232h3v4h-3zM293 232h4v4h-4zM300 232h4v4h-4zM314 232h3v4h-3zM321 232h3v4h-3zM331 232h3v4h-3zM344 232h4v4h-4zM368 232h7v4h-7zM382 232h3v4h-3zM389 232h3v4h-3zM395 232h4v4h-4zM402 232h4v4h-4zM412 232h7v4h-7zM423 232h3v4h-3zM433 232h3v4h-3zM440 232h3v4h-3zM463 232h4v4h-4zM487 232h4v4h-4zM497 232h4v4h-4zM508 232h6v4h-6zM521 232h4v4h-4zM531 232h4v4h-4zM562 232h3v4h-3zM586 232h7v4h-7zM603 232h3v4h-3zM79 236h7v3h-7zM96 236h4v3h-4zM106 236h4v3h-4zM120 236h3v3h-3zM134 236h3v3h-3zM151 236h3v3h-3zM161 236h3v3h-3zM168 236h6v3h-6zM178 236h10v3h-10zM191 236h7v3h-7zM208 236h4v3h-4zM222 236h10v3h-10zM239 236h3v3h-3zM246 236h7v3h-7zM259 236h4v3h-4zM266 236h7v3h-7zM283 236h4v3h-4zM293 236h4v3h-4zM304 236h3v3h-3zM310 236h17v3h-17zM331 236h3v3h-3zM348 236h3v3h-3zM358 236h7v3h-7zM368 236h4v3h-4zM375 236h3v3h-3zM382 236h3v3h-3zM389 236h10v3h-10zM426 236h3v3h-3zM443 236h7v3h-7zM463 236h7v3h-7zM521 236h4v3h-4zM531 236h7v3h-7zM542 236h3v3h-3zM552 236h7v3h-7zM572 236h4v3h-4zM606 236h4v3h-4zM79 239h4v3h-4zM93 239h3v3h-3zM103 239h3v3h-3zM113 239h7v3h-7zM130 239h4v3h-4zM151 239h6v3h-6zM171 239h3v3h-3zM178 239h7v3h-7zM191 239h11v3h-11zM205 239h3v3h-3zM229 239h7v3h-7zM246 239h3v3h-3zM256 239h7v3h-7zM280 239h3v3h-3zM287 239h3v3h-3zM293 239h4v3h-4zM307 239h7v3h-7zM317 239h7v3h-7zM327 239h14v3h-14zM344 239h4v3h-4zM351 239h4v3h-4zM358 239h3v3h-3zM372 239h3v3h-3zM382 239h10v3h-10zM402 239h4v3h-4zM419 239h4v3h-4zM433 239h7v3h-7zM453 239h10v3h-10zM470 239h17v3h-17zM491 239h3v3h-3zM504 239h10v3h-10zM518 239h3v3h-3zM525 239h13v3h-13zM548 239h4v3h-4zM555 239h4v3h-4zM565 239h4v3h-4zM576 239h3v3h-3zM586 239h3v3h-3zM606 239h5v3h-5zM72 242h7v4h-7zM86 242h3v4h-3zM93 242h3v4h-3zM110 242h7v4h-7zM120 242h7v4h-7zM140 242h7v4h-7zM151 242h6v4h-6zM161 242h7v4h-7zM174 242h4v4h-4zM191 242h4v4h-4zM208 242h4v4h-4zM215 242h4v4h-4zM236 242h6v4h-6zM249 242h7v4h-7zM270 242h3v4h-3zM297 242h3v4h-3zM324 242h3v4h-3zM334 242h4v4h-4zM348 242h3v4h-3zM358 242h3v4h-3zM375 242h3v4h-3zM389 242h3v4h-3zM433 242h3v4h-3zM440 242h3v4h-3zM450 242h3v4h-3zM460 242h3v4h-3zM480 242h4v4h-4zM487 242h4v4h-4zM497 242h4v4h-4zM504 242h4v4h-4zM511 242h3v4h-3zM518 242h3v4h-3zM531 242h4v4h-4zM548 242h4v4h-4zM572 242h4v4h-4zM582 242h4v4h-4zM593 242h6v4h-6zM603 242h3v4h-3zM69 246h3v3h-3zM89 246h7v3h-7zM103 246h7v3h-7zM130 246h4v3h-4zM157 246h4v3h-4zM174 246h4v3h-4zM181 246h4v3h-4zM202 246h3v3h-3zM212 246h10v3h-10zM236 246h3v3h-3zM249 246h7v3h-7zM266 246h4v3h-4zM280 246h3v3h-3zM290 246h7v3h-7zM300 246h4v3h-4zM321 246h3v3h-3zM327 246h4v3h-4zM334 246h4v3h-4zM341 246h10v3h-10zM361 246h7v3h-7zM372 246h6v3h-6zM392 246h3v3h-3zM423 246h3v3h-3zM453 246h4v3h-4zM463 246h4v3h-4zM480 246h4v3h-4zM487 246h4v3h-4zM494 246h3v3h-3zM511 246h7v3h-7zM521 246h4v3h-4zM538 246h4v3h-4zM545 246h14v3h-14zM562 246h3v3h-3zM76 249h3v4h-3zM83 249h3v4h-3zM89 249h7v4h-7zM110 249h7v4h-7zM127 249h7v4h-7zM140 249h4v4h-4zM161 249h3v4h-3zM168 249h3v4h-3zM181 249h4v4h-4zM198 249h7v4h-7zM208 249h4v4h-4zM215 249h4v4h-4zM229 249h3v4h-3zM242 249h11v4h-11zM256 249h3v4h-3zM276 249h4v4h-4zM300 249h4v4h-4zM317 249h4v4h-4zM327 249h4v4h-4zM334 249h4v4h-4zM348 249h7v4h-7zM358 249h3v4h-3zM365 249h3v4h-3zM372 249h3v4h-3zM402 249h4v4h-4zM412 249h4v4h-4zM419 249h14v4h-14zM436 249h4v4h-4zM446 249h7v4h-7zM474 249h3v4h-3zM494 249h3v4h-3zM508 249h3v4h-3zM531 249h4v4h-4zM542 249h6v4h-6zM555 249h4v4h-4zM569 249h3v4h-3zM586 249h10v4h-10zM606 249h4v4h-4zM76 253h3v3h-3zM89 253h7v3h-7zM103 253h3v3h-3zM113 253h4v3h-4zM120 253h3v3h-3zM130 253h4v3h-4zM144 253h3v3h-3zM154 253h3v3h-3zM168 253h3v3h-3zM174 253h4v3h-4zM188 253h3v3h-3zM205 253h3v3h-3zM212 253h3v3h-3zM232 253h4v3h-4zM253 253h3v3h-3zM287 253h6v3h-6zM297 253h3v3h-3zM334 253h4v3h-4zM341 253h3v3h-3zM361 253h4v3h-4zM368 253h4v3h-4zM385 253h7v3h-7zM399 253h7v3h-7zM423 253h3v3h-3zM433 253h3v3h-3zM446 253h4v3h-4zM453 253h7v3h-7zM463 253h4v3h-4zM470 253h4v3h-4zM480 253h4v3h-4zM504 253h4v3h-4zM511 253h3v3h-3zM525 253h3v3h-3zM531 253h17v3h-17zM555 253h4v3h-4zM565 253h17v3h-17zM589 253h4v3h-4zM603 253h3v3h-3zM72 256h4v3h-4zM83 256h3v3h-3zM93 256h3v3h-3zM100 256h3v3h-3zM117 256h3v3h-3zM123 256h4v3h-4zM137 256h3v3h-3zM168 256h3v3h-3zM181 256h7v3h-7zM205 256h3v3h-3zM239 256h3v3h-3zM249 256h4v3h-4zM256 256h3v3h-3zM276 256h4v3h-4zM283 256h10v3h-10zM331 256h3v3h-3zM348 256h7v3h-7zM378 256h4v3h-4zM392 256h7v3h-7zM402 256h4v3h-4zM409 256h14v3h-14zM426 256h10v3h-10zM440 256h3v3h-3zM470 256h4v3h-4zM480 256h4v3h-4zM494 256h3v3h-3zM501 256h3v3h-3zM508 256h6v3h-6zM518 256h3v3h-3zM538 256h4v3h-4zM562 256h3v3h-3zM569 256h3v3h-3zM69 259h3v4h-3zM89 259h11v4h-11zM106 259h4v4h-4zM120 259h3v4h-3zM134 259h10v4h-10zM168 259h20v4h-20zM195 259h3v4h-3zM212 259h3v4h-3zM232 259h4v4h-4zM242 259h4v4h-4zM249 259h7v4h-7zM259 259h7v4h-7zM273 259h3v4h-3zM280 259h7v4h-7zM297 259h3v4h-3zM310 259h21v4h-21zM344 259h7v4h-7zM358 259h10v4h-10zM375 259h3v4h-3zM392 259h14v4h-14zM412 259h4v4h-4zM423 259h3v4h-3zM429 259h4v4h-4zM436 259h4v4h-4zM450 259h3v4h-3zM460 259h10v4h-10zM480 259h4v4h-4zM487 259h4v4h-4zM494 259h3v4h-3zM504 259h4v4h-4zM514 259h4v4h-4zM531 259h4v4h-4zM538 259h4v4h-4zM545 259h3v4h-3zM552 259h7v4h-7zM569 259h7v4h-7zM606 259h4v4h-4zM117 263h3v3h-3zM123 263h4v3h-4zM140 263h4v3h-4zM154 263h3v3h-3zM164 263h4v3h-4zM195 263h10v3h-10zM222 263h3v3h-3zM232 263h4v3h-4zM249 263h4v3h-4zM270 263h3v3h-3zM293 263h4v3h-4zM300 263h4v3h-4zM310 263h4v3h-4zM338 263h3v3h-3zM351 263h4v3h-4zM368 263h4v3h-4zM378 263h7v3h-7zM423 263h3v3h-3zM436 263h4v3h-4zM443 263h7v3h-7zM504 263h10v3h-10zM518 263h3v3h-3zM525 263h3v3h-3zM538 263h4v3h-4zM545 263h3v3h-3zM552 263h7v3h-7zM562 263h3v3h-3zM569 263h3v3h-3zM579 263h3v3h-3zM593 263h6v3h-6zM610 263h1v3h-1zM83 266h6v4h-6zM100 266h3v4h-3zM113 266h10v4h-10zM140 266h14v4h-14zM164 266h4v4h-4zM185 266h6v4h-6zM219 266h17v4h-17zM239 266h14v4h-14zM266 266h4v4h-4zM280 266h7v4h-7zM307 266h3v4h-3zM314 266h3v4h-3zM321 266h3v4h-3zM327 266h4v4h-4zM338 266h3v4h-3zM406 266h3v4h-3zM412 266h4v4h-4zM419 266h4v4h-4zM426 266h3v4h-3zM440 266h3v4h-3zM477 266h3v4h-3zM501 266h7v4h-7zM514 266h4v4h-4zM521 266h4v4h-4zM535 266h7v4h-7zM545 266h3v4h-3zM572 266h4v4h-4zM610 266h1v4h-1zM100 270h3v3h-3zM106 270h4v3h-4zM123 270h7v3h-7zM137 270h3v3h-3zM151 270h3v3h-3zM157 270h4v3h-4zM164 270h4v3h-4zM174 270h4v3h-4zM191 270h4v3h-4zM208 270h4v3h-4zM219 270h3v3h-3zM242 270h4v3h-4zM280 270h10v3h-10zM300 270h4v3h-4zM310 270h4v3h-4zM317 270h10v3h-10zM341 270h7v3h-7zM361 270h7v3h-7zM375 270h3v3h-3zM389 270h6v3h-6zM399 270h3v3h-3zM429 270h4v3h-4zM436 270h4v3h-4zM443 270h7v3h-7zM467 270h3v3h-3zM484 270h10v3h-10zM514 270h4v3h-4zM521 270h4v3h-4zM528 270h10v3h-10zM542 270h3v3h-3zM548 270h4v3h-4zM569 270h10v3h-10zM582 270h4v3h-4zM596 270h3v3h-3zM606 270h4v3h-4zM83 273h3v3h-3zM89 273h11v3h-11zM103 273h7v3h-7zM117 273h6v3h-6zM137 273h3v3h-3zM144 273h13v3h-13zM161 273h3v3h-3zM191 273h14v3h-14zM215 273h4v3h-4zM222 273h3v3h-3zM232 273h4v3h-4zM239 273h7v3h-7zM266 273h4v3h-4zM280 273h3v3h-3zM287 273h6v3h-6zM300 273h4v3h-4zM307 273h7v3h-7zM341 273h7v3h-7zM355 273h3v3h-3zM361 273h4v3h-4zM385 273h10v3h-10zM399 273h7v3h-7zM409 273h3v3h-3zM423 273h3v3h-3zM450 273h3v3h-3zM470 273h10v3h-10zM491 273h3v3h-3zM497 273h4v3h-4zM508 273h3v3h-3zM521 273h4v3h-4zM545 273h3v3h-3zM555 273h4v3h-4zM565 273h4v3h-4zM586 273h3v3h-3zM596 273h10v3h-10zM610 273h1v3h-1zM76 276h3v4h-3zM100 276h3v4h-3zM106 276h4v4h-4zM113 276h4v4h-4zM120 276h3v4h-3zM127 276h3v4h-3zM144 276h7v4h-7zM157 276h4v4h-4zM168 276h13v4h-13zM198 276h4v4h-4zM222 276h10v4h-10zM236 276h3v4h-3zM249 276h14v4h-14zM266 276h4v4h-4zM273 276h3v4h-3zM287 276h6v4h-6zM297 276h3v4h-3zM307 276h7v4h-7zM348 276h3v4h-3zM375 276h7v4h-7zM385 276h10v4h-10zM406 276h3v4h-3zM416 276h7v4h-7zM429 276h4v4h-4zM453 276h4v4h-4zM463 276h4v4h-4zM487 276h4v4h-4zM497 276h4v4h-4zM508 276h3v4h-3zM525 276h3v4h-3zM535 276h3v4h-3zM555 276h7v4h-7zM565 276h4v4h-4zM576 276h10v4h-10zM599 276h7v4h-7zM69 280h3v3h-3zM83 280h6v3h-6zM106 280h4v3h-4zM113 280h4v3h-4zM127 280h3v3h-3zM171 280h3v3h-3zM178 280h7v3h-7zM188 280h3v3h-3zM202 280h3v3h-3zM212 280h3v3h-3zM222 280h7v3h-7zM232 280h7v3h-7zM256 280h3v3h-3zM263 280h10v3h-10zM283 280h7v3h-7zM348 280h3v3h-3zM361 280h4v3h-4zM375 280h3v3h-3zM382 280h3v3h-3zM389 280h10v3h-10zM406 280h3v3h-3zM419 280h10v3h-10zM453 280h7v3h-7zM491 280h3v3h-3zM501 280h7v3h-7zM521 280h4v3h-4zM535 280h3v3h-3zM552 280h7v3h-7zM562 280h10v3h-10zM576 280h6v3h-6zM599 280h4v3h-4zM69 283h14v4h-14zM100 283h3v4h-3zM127 283h3v4h-3zM137 283h20v4h-20zM164 283h7v4h-7zM174 283h4v4h-4zM185 283h6v4h-6zM219 283h3v4h-3zM225 283h4v4h-4zM232 283h4v4h-4zM246 283h3v4h-3zM263 283h10v4h-10zM280 283h3v4h-3zM290 283h3v4h-3zM297 283h3v4h-3zM304 283h3v4h-3zM310 283h4v4h-4zM321 283h6v4h-6zM351 283h7v4h-7zM368 283h7v4h-7zM392 283h17v4h-17zM412 283h4v4h-4zM433 283h7v4h-7zM446 283h4v4h-4zM453 283h4v4h-4zM467 283h3v4h-3zM484 283h7v4h-7zM494 283h3v4h-3zM525 283h3v4h-3zM531 283h4v4h-4zM538 283h4v4h-4zM586 283h7v4h-7zM606 283h4v4h-4zM76 287h3v3h-3zM83 287h3v3h-3zM89 287h7v3h-7zM120 287h3v3h-3zM134 287h3v3h-3zM147 287h4v3h-4zM161 287h3v3h-3zM168 287h10v3h-10zM198 287h7v3h-7zM208 287h4v3h-4zM225 287h4v3h-4zM236 287h3v3h-3zM253 287h13v3h-13zM270 287h3v3h-3zM276 287h4v3h-4zM293 287h7v3h-7zM307 287h7v3h-7zM317 287h7v3h-7zM344 287h4v3h-4zM351 287h4v3h-4zM358 287h3v3h-3zM365 287h3v3h-3zM385 287h4v3h-4zM436 287h4v3h-4zM460 287h7v3h-7zM470 287h10v3h-10zM491 287h3v3h-3zM531 287h4v3h-4zM538 287h4v3h-4zM559 287h3v3h-3zM572 287h7v3h-7zM582 287h4v3h-4zM593 287h6v3h-6zM89 290h4v3h-4zM100 290h3v3h-3zM106 290h4v3h-4zM113 290h4v3h-4zM147 290h4v3h-4zM161 290h7v3h-7zM174 290h4v3h-4zM198 290h4v3h-4zM205 290h7v3h-7zM229 290h3v3h-3zM239 290h3v3h-3zM249 290h4v3h-4zM266 290h4v3h-4zM290 290h3v3h-3zM310 290h4v3h-4zM327 290h4v3h-4zM358 290h7v3h-7zM368 290h4v3h-4zM375 290h3v3h-3zM382 290h3v3h-3zM406 290h3v3h-3zM412 290h4v3h-4zM419 290h4v3h-4zM429 290h4v3h-4zM460 290h7v3h-7zM477 290h3v3h-3zM487 290h4v3h-4zM508 290h3v3h-3zM521 290h4v3h-4zM531 290h4v3h-4zM538 290h4v3h-4zM552 290h7v3h-7zM593 290h6v3h-6zM72 293h4v4h-4zM147 293h7v4h-7zM168 293h3v4h-3zM178 293h3v4h-3zM191 293h4v4h-4zM202 293h10v4h-10zM215 293h4v4h-4zM249 293h4v4h-4zM276 293h4v4h-4zM317 293h4v4h-4zM331 293h3v4h-3zM341 293h10v4h-10zM361 293h4v4h-4zM392 293h3v4h-3zM399 293h3v4h-3zM406 293h6v4h-6zM416 293h7v4h-7zM463 293h4v4h-4zM474 293h3v4h-3zM501 293h7v4h-7zM511 293h7v4h-7zM555 293h4v4h-4zM565 293h4v4h-4zM572 293h4v4h-4zM589 293h4v4h-4zM596 293h7v4h-7zM610 293h1v4h-1zM76 297h3v3h-3zM83 297h3v3h-3zM93 297h3v3h-3zM100 297h3v3h-3zM113 297h4v3h-4zM120 297h7v3h-7zM130 297h4v3h-4zM144 297h7v3h-7zM154 297h3v3h-3zM178 297h3v3h-3zM195 297h3v3h-3zM232 297h4v3h-4zM256 297h3v3h-3zM263 297h3v3h-3zM270 297h3v3h-3zM276 297h4v3h-4zM283 297h4v3h-4zM290 297h3v3h-3zM297 297h3v3h-3zM310 297h4v3h-4zM317 297h7v3h-7zM327 297h4v3h-4zM334 297h4v3h-4zM351 297h4v3h-4zM375 297h3v3h-3zM389 297h3v3h-3zM399 297h3v3h-3zM419 297h7v3h-7zM429 297h11v3h-11zM450 297h3v3h-3zM457 297h3v3h-3zM463 297h11v3h-11zM477 297h3v3h-3zM487 297h4v3h-4zM504 297h4v3h-4zM511 297h10v3h-10zM525 297h3v3h-3zM531 297h4v3h-4zM538 297h4v3h-4zM545 297h7v3h-7zM555 297h4v3h-4zM562 297h10v3h-10zM579 297h3v3h-3zM593 297h3v3h-3zM599 297h4v3h-4zM79 300h4v4h-4zM96 300h7v4h-7zM113 300h4v4h-4zM140 300h7v4h-7zM161 300h3v4h-3zM171 300h10v4h-10zM195 300h3v4h-3zM205 300h7v4h-7zM219 300h3v4h-3zM225 300h4v4h-4zM249 300h4v4h-4zM259 300h4v4h-4zM270 300h6v4h-6zM290 300h3v4h-3zM307 300h10v4h-10zM321 300h3v4h-3zM338 300h3v4h-3zM351 300h4v4h-4zM358 300h10v4h-10zM385 300h4v4h-4zM392 300h3v4h-3zM409 300h3v4h-3zM429 300h7v4h-7zM463 300h7v4h-7zM497 300h4v4h-4zM531 300h7v4h-7zM542 300h3v4h-3zM569 300h3v4h-3zM579 300h3v4h-3zM593 300h6v4h-6zM603 300h3v4h-3zM72 304h4v3h-4zM79 304h4v3h-4zM93 304h3v3h-3zM130 304h4v3h-4zM137 304h3v3h-3zM144 304h3v3h-3zM151 304h3v3h-3zM161 304h3v3h-3zM174 304h4v3h-4zM181 304h4v3h-4zM195 304h3v3h-3zM205 304h14v3h-14zM232 304h7v3h-7zM246 304h3v3h-3zM253 304h3v3h-3zM263 304h3v3h-3zM280 304h3v3h-3zM287 304h3v3h-3zM300 304h4v3h-4zM310 304h4v3h-4zM324 304h3v3h-3zM344 304h7v3h-7zM358 304h7v3h-7zM372 304h3v3h-3zM382 304h7v3h-7zM440 304h3v3h-3zM460 304h3v3h-3zM474 304h3v3h-3zM480 304h4v3h-4zM487 304h7v3h-7zM501 304h3v3h-3zM521 304h4v3h-4zM528 304h3v3h-3zM538 304h4v3h-4zM555 304h7v3h-7zM569 304h10v3h-10zM586 304h3v3h-3zM596 304h3v3h-3zM610 304h1v3h-1zM72 307h4v3h-4zM79 307h4v3h-4zM93 307h7v3h-7zM106 307h4v3h-4zM127 307h7v3h-7zM137 307h3v3h-3zM151 307h3v3h-3zM157 307h7v3h-7zM168 307h3v3h-3zM191 307h4v3h-4zM222 307h3v3h-3zM236 307h3v3h-3zM256 307h3v3h-3zM270 307h3v3h-3zM276 307h4v3h-4zM283 307h4v3h-4zM297 307h3v3h-3zM331 307h3v3h-3zM344 307h4v3h-4zM351 307h7v3h-7zM361 307h4v3h-4zM375 307h10v3h-10zM395 307h11v3h-11zM416 307h3v3h-3zM423 307h3v3h-3zM429 307h4v3h-4zM457 307h6v3h-6zM467 307h7v3h-7zM487 307h4v3h-4zM497 307h4v3h-4zM504 307h4v3h-4zM511 307h3v3h-3zM545 307h3v3h-3zM559 307h10v3h-10zM576 307h6v3h-6zM586 307h3v3h-3zM599 307h4v3h-4zM606 307h5v3h-5zM69 310h3v4h-3zM79 310h4v4h-4zM93 310h3v4h-3zM100 310h3v4h-3zM127 310h3v4h-3zM137 310h10v4h-10zM168 310h6v4h-6zM178 310h3v4h-3zM191 310h4v4h-4zM208 310h7v4h-7zM232 310h4v4h-4zM242 310h4v4h-4zM256 310h3v4h-3zM276 310h4v4h-4zM283 310h4v4h-4zM290 310h3v4h-3zM297 310h3v4h-3zM304 310h3v4h-3zM314 310h7v4h-7zM324 310h3v4h-3zM348 310h3v4h-3zM361 310h4v4h-4zM368 310h4v4h-4zM375 310h3v4h-3zM385 310h7v4h-7zM399 310h3v4h-3zM406 310h3v4h-3zM423 310h6v4h-6zM440 310h10v4h-10zM457 310h3v4h-3zM470 310h4v4h-4zM480 310h4v4h-4zM538 310h7v4h-7zM559 310h3v4h-3zM565 310h4v4h-4zM579 310h7v4h-7zM593 310h3v4h-3zM606 310h5v4h-5zM69 314h3v3h-3zM76 314h3v3h-3zM83 314h6v3h-6zM93 314h7v3h-7zM106 314h4v3h-4zM117 314h17v3h-17zM147 314h4v3h-4zM161 314h3v3h-3zM178 314h17v3h-17zM212 314h3v3h-3zM222 314h3v3h-3zM229 314h7v3h-7zM256 314h3v3h-3zM263 314h3v3h-3zM273 314h3v3h-3zM280 314h3v3h-3zM293 314h7v3h-7zM310 314h4v3h-4zM327 314h4v3h-4zM338 314h10v3h-10zM358 314h7v3h-7zM375 314h3v3h-3zM389 314h3v3h-3zM409 314h3v3h-3zM416 314h3v3h-3zM433 314h10v3h-10zM474 314h3v3h-3zM501 314h3v3h-3zM511 314h7v3h-7zM528 314h3v3h-3zM545 314h7v3h-7zM586 314h3v3h-3zM606 314h4v3h-4zM83 317h3v4h-3zM89 317h4v4h-4zM96 317h4v4h-4zM103 317h3v4h-3zM110 317h3v4h-3zM120 317h3v4h-3zM137 317h7v4h-7zM147 317h7v4h-7zM161 317h3v4h-3zM168 317h6v4h-6zM188 317h3v4h-3zM225 317h4v4h-4zM232 317h4v4h-4zM239 317h7v4h-7zM253 317h13v4h-13zM270 317h3v4h-3zM290 317h17v4h-17zM331 317h3v4h-3zM341 317h3v4h-3zM358 317h3v4h-3zM385 317h7v4h-7zM399 317h7v4h-7zM416 317h10v4h-10zM436 317h4v4h-4zM450 317h7v4h-7zM463 317h7v4h-7zM477 317h3v4h-3zM484 317h7v4h-7zM494 317h7v4h-7zM504 317h4v4h-4zM525 317h3v4h-3zM569 317h10v4h-10zM589 317h4v4h-4zM69 321h3v3h-3zM106 321h4v3h-4zM117 321h3v3h-3zM127 321h3v3h-3zM137 321h3v3h-3zM151 321h6v3h-6zM171 321h3v3h-3zM198 321h10v3h-10zM212 321h3v3h-3zM219 321h3v3h-3zM266 321h4v3h-4zM283 321h7v3h-7zM293 321h11v3h-11zM310 321h4v3h-4zM321 321h3v3h-3zM327 321h4v3h-4zM348 321h7v3h-7zM361 321h4v3h-4zM382 321h3v3h-3zM389 321h10v3h-10zM409 321h14v3h-14zM426 321h3v3h-3zM436 321h4v3h-4zM446 321h4v3h-4zM467 321h3v3h-3zM474 321h10v3h-10zM491 321h3v3h-3zM497 321h4v3h-4zM504 321h4v3h-4zM518 321h10v3h-10zM531 321h7v3h-7zM555 321h7v3h-7zM569 321h3v3h-3zM576 321h3v3h-3zM603 321h3v3h-3zM86 324h3v3h-3zM96 324h4v3h-4zM103 324h7v3h-7zM130 324h7v3h-7zM154 324h10v3h-10zM168 324h6v3h-6zM191 324h4v3h-4zM219 324h3v3h-3zM239 324h7v3h-7zM249 324h4v3h-4zM256 324h3v3h-3zM266 324h4v3h-4zM280 324h3v3h-3zM310 324h4v3h-4zM338 324h3v3h-3zM351 324h7v3h-7zM361 324h4v3h-4zM368 324h4v3h-4zM375 324h7v3h-7zM392 324h3v3h-3zM419 324h4v3h-4zM429 324h4v3h-4zM436 324h4v3h-4zM450 324h10v3h-10zM467 324h3v3h-3zM477 324h7v3h-7zM497 324h4v3h-4zM504 324h4v3h-4zM525 324h6v3h-6zM535 324h3v3h-3zM545 324h3v3h-3zM552 324h3v3h-3zM559 324h3v3h-3zM582 324h14v3h-14zM79 327h4v4h-4zM96 327h7v4h-7zM106 327h4v4h-4zM113 327h4v4h-4zM120 327h7v4h-7zM134 327h10v4h-10zM164 327h10v4h-10zM181 327h4v4h-4zM188 327h7v4h-7zM205 327h3v4h-3zM219 327h6v4h-6zM229 327h3v4h-3zM236 327h3v4h-3zM242 327h4v4h-4zM273 327h3v4h-3zM283 327h4v4h-4zM290 327h3v4h-3zM307 327h10v4h-10zM331 327h7v4h-7zM355 327h6v4h-6zM395 327h4v4h-4zM406 327h3v4h-3zM423 327h3v4h-3zM436 327h4v4h-4zM457 327h6v4h-6zM467 327h3v4h-3zM480 327h11v4h-11zM494 327h3v4h-3zM508 327h3v4h-3zM518 327h3v4h-3zM528 327h3v4h-3zM559 327h3v4h-3zM596 327h3v4h-3zM69 331h3v3h-3zM89 331h4v3h-4zM103 331h3v3h-3zM140 331h4v3h-4zM157 331h4v3h-4zM171 331h14v3h-14zM191 331h4v3h-4zM212 331h3v3h-3zM232 331h7v3h-7zM253 331h3v3h-3zM266 331h4v3h-4zM283 331h4v3h-4zM297 331h3v3h-3zM304 331h3v3h-3zM310 331h4v3h-4zM317 331h7v3h-7zM327 331h4v3h-4zM344 331h7v3h-7zM358 331h3v3h-3zM382 331h10v3h-10zM409 331h3v3h-3zM419 331h4v3h-4zM429 331h4v3h-4zM453 331h4v3h-4zM474 331h3v3h-3zM480 331h4v3h-4zM518 331h3v3h-3zM531 331h4v3h-4zM542 331h3v3h-3zM565 331h11v3h-11zM579 331h3v3h-3zM593 331h6v3h-6zM610 331h1v3h-1zM72 334h4v4h-4zM93 334h3v4h-3zM103 334h3v4h-3zM110 334h3v4h-3zM120 334h3v4h-3zM127 334h3v4h-3zM134 334h3v4h-3zM151 334h6v4h-6zM171 334h3v4h-3zM178 334h3v4h-3zM185 334h6v4h-6zM208 334h4v4h-4zM215 334h4v4h-4zM232 334h4v4h-4zM239 334h3v4h-3zM253 334h3v4h-3zM270 334h3v4h-3zM287 334h6v4h-6zM297 334h3v4h-3zM304 334h3v4h-3zM317 334h7v4h-7zM327 334h4v4h-4zM341 334h7v4h-7zM351 334h4v4h-4zM361 334h4v4h-4zM375 334h7v4h-7zM395 334h4v4h-4zM416 334h3v4h-3zM426 334h3v4h-3zM446 334h4v4h-4zM463 334h11v4h-11zM480 334h4v4h-4zM491 334h6v4h-6zM501 334h7v4h-7zM511 334h3v4h-3zM525 334h3v4h-3zM542 334h3v4h-3zM548 334h7v4h-7zM559 334h3v4h-3zM565 334h4v4h-4zM586 334h3v4h-3zM69 338h3v3h-3zM76 338h3v3h-3zM93 338h3v3h-3zM100 338h3v3h-3zM106 338h7v3h-7zM127 338h3v3h-3zM137 338h3v3h-3zM147 338h7v3h-7zM157 338h7v3h-7zM171 338h3v3h-3zM178 338h7v3h-7zM202 338h3v3h-3zM219 338h3v3h-3zM256 338h3v3h-3zM280 338h7v3h-7zM290 338h3v3h-3zM300 338h10v3h-10zM324 338h7v3h-7zM334 338h4v3h-4zM344 338h7v3h-7zM358 338h3v3h-3zM365 338h3v3h-3zM372 338h10v3h-10zM389 338h6v3h-6zM402 338h7v3h-7zM412 338h4v3h-4zM426 338h3v3h-3zM433 338h3v3h-3zM450 338h3v3h-3zM474 338h3v3h-3zM480 338h7v3h-7zM494 338h3v3h-3zM514 338h4v3h-4zM552 338h3v3h-3zM565 338h7v3h-7zM596 338h3v3h-3zM603 338h3v3h-3zM69 341h3v3h-3zM83 341h6v3h-6zM96 341h7v3h-7zM106 341h7v3h-7zM117 341h6v3h-6zM127 341h3v3h-3zM134 341h13v3h-13zM161 341h3v3h-3zM181 341h7v3h-7zM198 341h4v3h-4zM205 341h3v3h-3zM219 341h3v3h-3zM236 341h3v3h-3zM246 341h3v3h-3zM263 341h3v3h-3zM276 341h14v3h-14zM297 341h3v3h-3zM304 341h3v3h-3zM317 341h4v3h-4zM331 341h7v3h-7zM355 341h3v3h-3zM365 341h3v3h-3zM372 341h10v3h-10zM389 341h3v3h-3zM406 341h3v3h-3zM412 341h4v3h-4zM426 341h7v3h-7zM443 341h3v3h-3zM457 341h6v3h-6zM467 341h3v3h-3zM480 341h4v3h-4zM487 341h4v3h-4zM501 341h3v3h-3zM508 341h3v3h-3zM514 341h4v3h-4zM535 341h13v3h-13zM552 341h3v3h-3zM603 341h3v3h-3zM86 344h3v4h-3zM103 344h3v4h-3zM110 344h3v4h-3zM120 344h3v4h-3zM134 344h6v4h-6zM147 344h7v4h-7zM157 344h7v4h-7zM171 344h3v4h-3zM181 344h4v4h-4zM191 344h4v4h-4zM198 344h4v4h-4zM215 344h4v4h-4zM236 344h6v4h-6zM256 344h3v4h-3zM276 344h4v4h-4zM297 344h3v4h-3zM310 344h7v4h-7zM338 344h10v4h-10zM368 344h4v4h-4zM392 344h7v4h-7zM419 344h4v4h-4zM453 344h7v4h-7zM463 344h4v4h-4zM508 344h10v4h-10zM528 344h10v4h-10zM552 344h7v4h-7zM562 344h3v4h-3zM572 344h14v4h-14zM593 344h10v4h-10zM610 344h1v4h-1zM69 348h7v3h-7zM79 348h7v3h-7zM110 348h3v3h-3zM117 348h3v3h-3zM123 348h11v3h-11zM140 348h4v3h-4zM147 348h4v3h-4zM157 348h4v3h-4zM171 348h3v3h-3zM191 348h4v3h-4zM205 348h7v3h-7zM239 348h3v3h-3zM287 348h3v3h-3zM300 348h4v3h-4zM310 348h4v3h-4zM321 348h6v3h-6zM331 348h7v3h-7zM365 348h3v3h-3zM372 348h3v3h-3zM385 348h7v3h-7zM399 348h7v3h-7zM409 348h3v3h-3zM419 348h4v3h-4zM429 348h4v3h-4zM453 348h4v3h-4zM460 348h3v3h-3zM480 348h4v3h-4zM487 348h4v3h-4zM514 348h7v3h-7zM525 348h3v3h-3zM572 348h7v3h-7zM586 348h3v3h-3zM599 348h4v3h-4zM106 351h4v4h-4zM113 351h4v4h-4zM120 351h3v4h-3zM144 351h10v4h-10zM161 351h3v4h-3zM171 351h3v4h-3zM185 351h6v4h-6zM205 351h3v4h-3zM215 351h4v4h-4zM222 351h7v4h-7zM232 351h4v4h-4zM249 351h4v4h-4zM256 351h3v4h-3zM300 351h7v4h-7zM389 351h6v4h-6zM399 351h3v4h-3zM406 351h3v4h-3zM416 351h3v4h-3zM429 351h4v4h-4zM436 351h10v4h-10zM457 351h3v4h-3zM477 351h3v4h-3zM487 351h7v4h-7zM497 351h4v4h-4zM511 351h3v4h-3zM521 351h7v4h-7zM535 351h3v4h-3zM542 351h3v4h-3zM555 351h4v4h-4zM562 351h10v4h-10zM582 351h4v4h-4zM589 351h4v4h-4zM72 355h4v3h-4zM79 355h4v3h-4zM86 355h3v3h-3zM96 355h4v3h-4zM106 355h4v3h-4zM113 355h4v3h-4zM130 355h7v3h-7zM144 355h3v3h-3zM188 355h3v3h-3zM202 355h3v3h-3zM208 355h7v3h-7zM219 355h3v3h-3zM225 355h4v3h-4zM232 355h4v3h-4zM242 355h4v3h-4zM263 355h3v3h-3zM276 355h4v3h-4zM287 355h3v3h-3zM300 355h4v3h-4zM307 355h3v3h-3zM331 355h3v3h-3zM338 355h3v3h-3zM348 355h7v3h-7zM358 355h3v3h-3zM378 355h4v3h-4zM392 355h3v3h-3zM419 355h4v3h-4zM433 355h7v3h-7zM443 355h3v3h-3zM467 355h3v3h-3zM477 355h3v3h-3zM484 355h7v3h-7zM494 355h3v3h-3zM501 355h7v3h-7zM514 355h7v3h-7zM531 355h4v3h-4zM545 355h3v3h-3zM555 355h7v3h-7zM576 355h10v3h-10zM596 355h3v3h-3zM83 358h3v3h-3zM96 358h4v3h-4zM113 358h4v3h-4zM130 358h7v3h-7zM151 358h3v3h-3zM171 358h3v3h-3zM178 358h3v3h-3zM188 358h10v3h-10zM208 358h4v3h-4zM232 358h4v3h-4zM239 358h3v3h-3zM249 358h4v3h-4zM273 358h3v3h-3zM321 358h3v3h-3zM361 358h7v3h-7zM378 358h7v3h-7zM392 358h3v3h-3zM402 358h7v3h-7zM412 358h4v3h-4zM419 358h10v3h-10zM436 358h7v3h-7zM446 358h4v3h-4zM463 358h4v3h-4zM470 358h4v3h-4zM477 358h3v3h-3zM491 358h3v3h-3zM535 358h7v3h-7zM545 358h3v3h-3zM569 358h7v3h-7zM593 358h3v3h-3zM69 361h7v4h-7zM83 361h3v4h-3zM93 361h13v4h-13zM113 361h4v4h-4zM127 361h3v4h-3zM137 361h7v4h-7zM147 361h4v4h-4zM157 361h4v4h-4zM164 361h10v4h-10zM178 361h3v4h-3zM195 361h3v4h-3zM202 361h3v4h-3zM229 361h7v4h-7zM246 361h13v4h-13zM266 361h4v4h-4zM283 361h7v4h-7zM304 361h3v4h-3zM310 361h7v4h-7zM324 361h3v4h-3zM334 361h4v4h-4zM341 361h3v4h-3zM351 361h7v4h-7zM365 361h7v4h-7zM382 361h3v4h-3zM392 361h3v4h-3zM406 361h6v4h-6zM416 361h7v4h-7zM426 361h3v4h-3zM436 361h4v4h-4zM446 361h11v4h-11zM463 361h4v4h-4zM470 361h4v4h-4zM487 361h4v4h-4zM494 361h3v4h-3zM504 361h4v4h-4zM525 361h10v4h-10zM538 361h4v4h-4zM552 361h3v4h-3zM562 361h3v4h-3zM579 361h3v4h-3zM589 361h4v4h-4zM610 361h1v4h-1zM69 365h3v3h-3zM76 365h3v3h-3zM83 365h3v3h-3zM100 365h3v3h-3zM123 365h11v3h-11zM151 365h3v3h-3zM157 365h4v3h-4zM168 365h3v3h-3zM174 365h4v3h-4zM181 365h4v3h-4zM195 365h10v3h-10zM208 365h4v3h-4zM215 365h4v3h-4zM222 365h3v3h-3zM232 365h4v3h-4zM239 365h3v3h-3zM253 365h3v3h-3zM266 365h4v3h-4zM276 365h7v3h-7zM293 365h7v3h-7zM310 365h4v3h-4zM317 365h4v3h-4zM324 365h3v3h-3zM331 365h7v3h-7zM341 365h3v3h-3zM351 365h4v3h-4zM372 365h3v3h-3zM392 365h3v3h-3zM406 365h3v3h-3zM412 365h4v3h-4zM433 365h3v3h-3zM446 365h7v3h-7zM460 365h3v3h-3zM467 365h7v3h-7zM491 365h3v3h-3zM497 365h7v3h-7zM508 365h3v3h-3zM518 365h3v3h-3zM528 365h7v3h-7zM555 365h4v3h-4zM569 365h7v3h-7zM599 365h4v3h-4zM606 365h5v3h-5zM79 368h4v4h-4zM86 368h3v4h-3zM100 368h3v4h-3zM110 368h3v4h-3zM117 368h10v4h-10zM134 368h3v4h-3zM147 368h4v4h-4zM154 368h3v4h-3zM171 368h3v4h-3zM181 368h4v4h-4zM188 368h14v4h-14zM222 368h3v4h-3zM236 368h3v4h-3zM249 368h4v4h-4zM259 368h4v4h-4zM283 368h7v4h-7zM307 368h3v4h-3zM317 368h4v4h-4zM331 368h3v4h-3zM341 368h3v4h-3zM355 368h6v4h-6zM365 368h10v4h-10zM378 368h7v4h-7zM389 368h3v4h-3zM433 368h7v4h-7zM457 368h3v4h-3zM477 368h3v4h-3zM491 368h3v4h-3zM497 368h7v4h-7zM518 368h7v4h-7zM538 368h7v4h-7zM552 368h3v4h-3zM582 368h4v4h-4zM589 368h7v4h-7zM603 368h3v4h-3zM610 368h1v4h-1zM72 372h4v3h-4zM79 372h4v3h-4zM110 372h7v3h-7zM123 372h4v3h-4zM134 372h6v3h-6zM154 372h3v3h-3zM161 372h3v3h-3zM168 372h3v3h-3zM174 372h4v3h-4zM185 372h6v3h-6zM198 372h7v3h-7zM212 372h3v3h-3zM222 372h10v3h-10zM239 372h7v3h-7zM249 372h4v3h-4zM270 372h3v3h-3zM287 372h3v3h-3zM293 372h4v3h-4zM310 372h4v3h-4zM317 372h4v3h-4zM327 372h4v3h-4zM344 372h7v3h-7zM355 372h6v3h-6zM368 372h7v3h-7zM389 372h3v3h-3zM409 372h3v3h-3zM419 372h7v3h-7zM436 372h4v3h-4zM443 372h3v3h-3zM453 372h17v3h-17zM477 372h7v3h-7zM491 372h3v3h-3zM528 372h3v3h-3zM542 372h3v3h-3zM569 372h3v3h-3zM576 372h6v3h-6zM586 372h7v3h-7zM69 375h10v3h-10zM83 375h6v3h-6zM100 375h6v3h-6zM123 375h7v3h-7zM134 375h13v3h-13zM164 375h4v3h-4zM178 375h3v3h-3zM188 375h7v3h-7zM198 375h4v3h-4zM208 375h4v3h-4zM232 375h4v3h-4zM239 375h10v3h-10zM273 375h3v3h-3zM283 375h7v3h-7zM297 375h7v3h-7zM307 375h7v3h-7zM321 375h3v3h-3zM331 375h3v3h-3zM348 375h7v3h-7zM361 375h4v3h-4zM372 375h3v3h-3zM382 375h7v3h-7zM429 375h4v3h-4zM446 375h11v3h-11zM463 375h4v3h-4zM470 375h7v3h-7zM487 375h4v3h-4zM504 375h14v3h-14zM525 375h10v3h-10zM542 375h3v3h-3zM548 375h4v3h-4zM593 375h3v3h-3zM79 378h4v4h-4zM86 378h3v4h-3zM100 378h3v4h-3zM106 378h7v4h-7zM140 378h7v4h-7zM154 378h7v4h-7zM164 378h7v4h-7zM185 378h13v4h-13zM202 378h3v4h-3zM212 378h3v4h-3zM239 378h14v4h-14zM287 378h6v4h-6zM297 378h3v4h-3zM310 378h14v4h-14zM331 378h3v4h-3zM338 378h17v4h-17zM361 378h7v4h-7zM375 378h3v4h-3zM385 378h4v4h-4zM406 378h3v4h-3zM419 378h7v4h-7zM433 378h13v4h-13zM453 378h4v4h-4zM470 378h4v4h-4zM477 378h10v4h-10zM501 378h3v4h-3zM528 378h3v4h-3zM545 378h3v4h-3zM552 378h3v4h-3zM559 378h3v4h-3zM582 378h4v4h-4zM589 378h4v4h-4zM69 382h3v3h-3zM76 382h13v3h-13zM103 382h7v3h-7zM130 382h7v3h-7zM151 382h3v3h-3zM157 382h7v3h-7zM168 382h10v3h-10zM181 382h4v3h-4zM188 382h7v3h-7zM208 382h4v3h-4zM215 382h4v3h-4zM229 382h3v3h-3zM236 382h3v3h-3zM242 382h7v3h-7zM270 382h3v3h-3zM276 382h7v3h-7zM297 382h3v3h-3zM307 382h3v3h-3zM314 382h10v3h-10zM338 382h3v3h-3zM365 382h3v3h-3zM375 382h3v3h-3zM399 382h3v3h-3zM416 382h17v3h-17zM457 382h3v3h-3zM504 382h4v3h-4zM525 382h3v3h-3zM538 382h4v3h-4zM559 382h3v3h-3zM569 382h13v3h-13zM79 385h4v4h-4zM113 385h4v4h-4zM137 385h14v4h-14zM154 385h3v4h-3zM161 385h3v4h-3zM171 385h7v4h-7zM195 385h10v4h-10zM208 385h4v4h-4zM219 385h6v4h-6zM232 385h4v4h-4zM249 385h4v4h-4zM256 385h3v4h-3zM263 385h10v4h-10zM283 385h4v4h-4zM304 385h3v4h-3zM314 385h3v4h-3zM327 385h4v4h-4zM334 385h4v4h-4zM348 385h3v4h-3zM355 385h10v4h-10zM372 385h3v4h-3zM412 385h4v4h-4zM433 385h3v4h-3zM443 385h7v4h-7zM460 385h14v4h-14zM480 385h4v4h-4zM491 385h10v4h-10zM511 385h3v4h-3zM521 385h4v4h-4zM542 385h3v4h-3zM555 385h4v4h-4zM562 385h7v4h-7zM576 385h3v4h-3zM586 385h3v4h-3zM596 385h10v4h-10zM610 385h1v4h-1zM69 389h7v3h-7zM79 389h4v3h-4zM93 389h7v3h-7zM117 389h3v3h-3zM123 389h4v3h-4zM164 389h7v3h-7zM174 389h4v3h-4zM181 389h4v3h-4zM205 389h7v3h-7zM229 389h3v3h-3zM239 389h3v3h-3zM256 389h7v3h-7zM290 389h14v3h-14zM324 389h3v3h-3zM344 389h4v3h-4zM351 389h4v3h-4zM375 389h3v3h-3zM395 389h7v3h-7zM409 389h3v3h-3zM440 389h3v3h-3zM470 389h4v3h-4zM480 389h7v3h-7zM494 389h3v3h-3zM545 389h3v3h-3zM579 389h3v3h-3zM599 389h4v3h-4zM606 389h4v3h-4zM79 392h4v3h-4zM86 392h3v3h-3zM93 392h3v3h-3zM100 392h13v3h-13zM137 392h3v3h-3zM147 392h7v3h-7zM157 392h4v3h-4zM164 392h4v3h-4zM185 392h10v3h-10zM198 392h4v3h-4zM208 392h4v3h-4zM232 392h4v3h-4zM246 392h3v3h-3zM253 392h10v3h-10zM270 392h3v3h-3zM276 392h4v3h-4zM283 392h4v3h-4zM314 392h3v3h-3zM324 392h14v3h-14zM344 392h4v3h-4zM355 392h3v3h-3zM375 392h3v3h-3zM406 392h10v3h-10zM419 392h4v3h-4zM433 392h3v3h-3zM446 392h4v3h-4zM467 392h3v3h-3zM477 392h14v3h-14zM497 392h4v3h-4zM525 392h13v3h-13zM542 392h3v3h-3zM552 392h3v3h-3zM579 392h7v3h-7zM589 392h4v3h-4zM596 392h3v3h-3zM76 395h7v4h-7zM100 395h3v4h-3zM106 395h4v4h-4zM117 395h3v4h-3zM137 395h3v4h-3zM147 395h4v4h-4zM161 395h3v4h-3zM171 395h7v4h-7zM185 395h6v4h-6zM195 395h3v4h-3zM202 395h6v4h-6zM229 395h3v4h-3zM236 395h3v4h-3zM242 395h4v4h-4zM263 395h7v4h-7zM276 395h4v4h-4zM290 395h3v4h-3zM304 395h13v4h-13zM321 395h3v4h-3zM327 395h4v4h-4zM334 395h7v4h-7zM348 395h10v4h-10zM361 395h4v4h-4zM368 395h14v4h-14zM389 395h6v4h-6zM419 395h4v4h-4zM433 395h3v4h-3zM443 395h3v4h-3zM480 395h4v4h-4zM508 395h3v4h-3zM528 395h20v4h-20zM552 395h3v4h-3zM559 395h3v4h-3zM572 395h4v4h-4zM579 395h7v4h-7zM599 395h4v4h-4zM606 395h5v4h-5zM69 399h3v3h-3zM79 399h7v3h-7zM103 399h14v3h-14zM120 399h7v3h-7zM140 399h4v3h-4zM147 399h4v3h-4zM171 399h20v3h-20zM225 399h4v3h-4zM239 399h3v3h-3zM249 399h4v3h-4zM256 399h3v3h-3zM263 399h3v3h-3zM273 399h3v3h-3zM280 399h7v3h-7zM307 399h3v3h-3zM314 399h3v3h-3zM324 399h3v3h-3zM334 399h4v3h-4zM382 399h3v3h-3zM389 399h3v3h-3zM399 399h3v3h-3zM406 399h10v3h-10zM446 399h7v3h-7zM477 399h3v3h-3zM484 399h3v3h-3zM491 399h6v3h-6zM501 399h3v3h-3zM518 399h7v3h-7zM531 399h7v3h-7zM552 399h3v3h-3zM69 402h3v4h-3zM79 402h4v4h-4zM110 402h3v4h-3zM123 402h4v4h-4zM134 402h6v4h-6zM157 402h4v4h-4zM168 402h3v4h-3zM181 402h4v4h-4zM191 402h4v4h-4zM205 402h3v4h-3zM212 402h3v4h-3zM222 402h3v4h-3zM229 402h10v4h-10zM246 402h3v4h-3zM253 402h3v4h-3zM259 402h4v4h-4zM280 402h10v4h-10zM300 402h4v4h-4zM314 402h3v4h-3zM321 402h3v4h-3zM327 402h4v4h-4zM355 402h3v4h-3zM395 402h7v4h-7zM419 402h7v4h-7zM429 402h4v4h-4zM443 402h3v4h-3zM460 402h3v4h-3zM467 402h3v4h-3zM474 402h3v4h-3zM484 402h3v4h-3zM497 402h4v4h-4zM511 402h7v4h-7zM525 402h3v4h-3zM545 402h7v4h-7zM555 402h4v4h-4zM579 402h3v4h-3zM586 402h3v4h-3zM596 402h3v4h-3zM610 402h1v4h-1zM79 406h7v3h-7zM100 406h3v3h-3zM106 406h4v3h-4zM123 406h11v3h-11zM144 406h3v3h-3zM157 406h7v3h-7zM188 406h3v3h-3zM205 406h3v3h-3zM225 406h14v3h-14zM246 406h3v3h-3zM270 406h10v3h-10zM293 406h4v3h-4zM307 406h14v3h-14zM338 406h3v3h-3zM344 406h4v3h-4zM402 406h4v3h-4zM429 406h4v3h-4zM443 406h3v3h-3zM450 406h3v3h-3zM477 406h7v3h-7zM514 406h7v3h-7zM589 406h4v3h-4zM603 406h3v3h-3zM72 409h4v3h-4zM83 409h6v3h-6zM100 409h6v3h-6zM110 409h10v3h-10zM134 409h6v3h-6zM151 409h3v3h-3zM164 409h4v3h-4zM171 409h3v3h-3zM178 409h3v3h-3zM185 409h6v3h-6zM202 409h6v3h-6zM249 409h4v3h-4zM256 409h3v3h-3zM273 409h7v3h-7zM297 409h3v3h-3zM321 409h3v3h-3zM338 409h3v3h-3zM361 409h4v3h-4zM368 409h4v3h-4zM378 409h7v3h-7zM395 409h4v3h-4zM402 409h4v3h-4zM412 409h4v3h-4zM419 409h4v3h-4zM433 409h3v3h-3zM440 409h3v3h-3zM474 409h3v3h-3zM504 409h4v3h-4zM525 409h3v3h-3zM548 409h4v3h-4zM562 409h3v3h-3zM569 409h3v3h-3zM589 409h4v3h-4zM69 412h3v4h-3zM93 412h3v4h-3zM103 412h3v4h-3zM123 412h7v4h-7zM151 412h3v4h-3zM157 412h14v4h-14zM174 412h4v4h-4zM188 412h3v4h-3zM219 412h3v4h-3zM242 412h11v4h-11zM259 412h11v4h-11zM276 412h4v4h-4zM283 412h4v4h-4zM297 412h3v4h-3zM314 412h7v4h-7zM331 412h3v4h-3zM358 412h3v4h-3zM365 412h10v4h-10zM378 412h4v4h-4zM389 412h10v4h-10zM426 412h3v4h-3zM440 412h3v4h-3zM446 412h4v4h-4zM463 412h4v4h-4zM477 412h3v4h-3zM484 412h7v4h-7zM504 412h4v4h-4zM518 412h7v4h-7zM528 412h3v4h-3zM535 412h3v4h-3zM542 412h3v4h-3zM562 412h3v4h-3zM586 412h3v4h-3zM593 412h3v4h-3zM100 416h3v3h-3zM120 416h3v3h-3zM137 416h3v3h-3zM144 416h3v3h-3zM154 416h3v3h-3zM161 416h3v3h-3zM188 416h3v3h-3zM202 416h6v3h-6zM212 416h3v3h-3zM239 416h10v3h-10zM256 416h3v3h-3zM266 416h7v3h-7zM276 416h4v3h-4zM287 416h3v3h-3zM304 416h3v3h-3zM310 416h4v3h-4zM327 416h14v3h-14zM351 416h4v3h-4zM358 416h3v3h-3zM372 416h3v3h-3zM382 416h3v3h-3zM392 416h3v3h-3zM402 416h14v3h-14zM423 416h3v3h-3zM433 416h7v3h-7zM450 416h7v3h-7zM470 416h10v3h-10zM487 416h4v3h-4zM497 416h7v3h-7zM521 416h4v3h-4zM559 416h6v3h-6zM586 416h3v3h-3zM596 416h3v3h-3zM79 419h4v4h-4zM93 419h3v4h-3zM103 419h3v4h-3zM110 419h3v4h-3zM117 419h3v4h-3zM130 419h4v4h-4zM137 419h3v4h-3zM144 419h7v4h-7zM154 419h3v4h-3zM164 419h4v4h-4zM181 419h4v4h-4zM191 419h4v4h-4zM198 419h4v4h-4zM208 419h7v4h-7zM219 419h10v4h-10zM236 419h3v4h-3zM242 419h4v4h-4zM256 419h3v4h-3zM266 419h4v4h-4zM273 419h10v4h-10zM300 419h4v4h-4zM314 419h3v4h-3zM327 419h4v4h-4zM338 419h3v4h-3zM344 419h4v4h-4zM355 419h3v4h-3zM361 419h4v4h-4zM385 419h10v4h-10zM406 419h3v4h-3zM433 419h3v4h-3zM443 419h7v4h-7zM463 419h4v4h-4zM470 419h4v4h-4zM487 419h4v4h-4zM508 419h3v4h-3zM518 419h3v4h-3zM535 419h3v4h-3zM542 419h3v4h-3zM548 419h4v4h-4zM565 419h4v4h-4zM576 419h3v4h-3zM593 419h3v4h-3zM599 419h7v4h-7zM610 419h1v4h-1zM83 423h3v3h-3zM96 423h17v3h-17zM130 423h4v3h-4zM137 423h14v3h-14zM161 423h3v3h-3zM174 423h4v3h-4zM188 423h3v3h-3zM195 423h7v3h-7zM205 423h7v3h-7zM215 423h10v3h-10zM236 423h3v3h-3zM246 423h3v3h-3zM283 423h4v3h-4zM290 423h7v3h-7zM331 423h7v3h-7zM355 423h3v3h-3zM365 423h3v3h-3zM389 423h6v3h-6zM409 423h3v3h-3zM426 423h3v3h-3zM443 423h3v3h-3zM467 423h3v3h-3zM494 423h3v3h-3zM501 423h7v3h-7zM514 423h4v3h-4zM531 423h4v3h-4zM538 423h4v3h-4zM552 423h7v3h-7zM565 423h4v3h-4zM579 423h3v3h-3zM586 423h3v3h-3zM593 423h3v3h-3zM69 426h3v3h-3zM76 426h3v3h-3zM89 426h7v3h-7zM100 426h6v3h-6zM113 426h7v3h-7zM134 426h3v3h-3zM147 426h4v3h-4zM157 426h7v3h-7zM168 426h13v3h-13zM185 426h3v3h-3zM198 426h7v3h-7zM215 426h4v3h-4zM225 426h4v3h-4zM242 426h4v3h-4zM249 426h4v3h-4zM263 426h3v3h-3zM273 426h3v3h-3zM280 426h3v3h-3zM293 426h4v3h-4zM307 426h3v3h-3zM327 426h4v3h-4zM338 426h6v3h-6zM348 426h3v3h-3zM355 426h3v3h-3zM361 426h4v3h-4zM368 426h4v3h-4zM375 426h3v3h-3zM389 426h3v3h-3zM433 426h3v3h-3zM440 426h6v3h-6zM450 426h3v3h-3zM457 426h3v3h-3zM467 426h13v3h-13zM487 426h4v3h-4zM497 426h4v3h-4zM504 426h7v3h-7zM525 426h3v3h-3zM552 426h3v3h-3zM569 426h7v3h-7zM582 426h4v3h-4zM599 426h4v3h-4zM606 426h4v3h-4zM72 429h7v4h-7zM86 429h7v4h-7zM110 429h3v4h-3zM127 429h3v4h-3zM140 429h4v4h-4zM151 429h6v4h-6zM161 429h3v4h-3zM168 429h3v4h-3zM181 429h4v4h-4zM208 429h4v4h-4zM219 429h3v4h-3zM236 429h3v4h-3zM249 429h4v4h-4zM263 429h3v4h-3zM276 429h4v4h-4zM287 429h3v4h-3zM297 429h7v4h-7zM307 429h7v4h-7zM317 429h4v4h-4zM338 429h3v4h-3zM348 429h7v4h-7zM368 429h7v4h-7zM392 429h3v4h-3zM419 429h4v4h-4zM436 429h4v4h-4zM460 429h3v4h-3zM474 429h3v4h-3zM484 429h3v4h-3zM504 429h4v4h-4zM535 429h3v4h-3zM542 429h3v4h-3zM548 429h11v4h-11zM572 429h4v4h-4zM586 429h7v4h-7zM603 429h3v4h-3zM610 429h1v4h-1zM72 433h4v3h-4zM79 433h4v3h-4zM89 433h4v3h-4zM113 433h7v3h-7zM137 433h14v3h-14zM174 433h4v3h-4zM188 433h3v3h-3zM198 433h7v3h-7zM215 433h4v3h-4zM222 433h3v3h-3zM232 433h7v3h-7zM242 433h4v3h-4zM256 433h3v3h-3zM263 433h17v3h-17zM310 433h4v3h-4zM317 433h7v3h-7zM331 433h7v3h-7zM348 433h10v3h-10zM385 433h4v3h-4zM395 433h4v3h-4zM416 433h3v3h-3zM423 433h3v3h-3zM453 433h7v3h-7zM480 433h4v3h-4zM497 433h4v3h-4zM508 433h6v3h-6zM528 433h3v3h-3zM552 433h3v3h-3zM559 433h3v3h-3zM579 433h7v3h-7zM69 436h3v4h-3zM83 436h3v4h-3zM123 436h4v4h-4zM134 436h3v4h-3zM154 436h3v4h-3zM161 436h7v4h-7zM181 436h4v4h-4zM191 436h11v4h-11zM215 436h4v4h-4zM222 436h3v4h-3zM229 436h3v4h-3zM239 436h3v4h-3zM259 436h4v4h-4zM266 436h7v4h-7zM293 436h11v4h-11zM307 436h3v4h-3zM358 436h7v4h-7zM382 436h7v4h-7zM395 436h4v4h-4zM402 436h7v4h-7zM419 436h4v4h-4zM440 436h3v4h-3zM453 436h7v4h-7zM467 436h10v4h-10zM480 436h11v4h-11zM501 436h7v4h-7zM525 436h3v4h-3zM535 436h3v4h-3zM545 436h3v4h-3zM552 436h3v4h-3zM572 436h7v4h-7zM589 436h4v4h-4zM603 436h3v4h-3zM72 440h7v3h-7zM83 440h6v3h-6zM103 440h3v3h-3zM117 440h3v3h-3zM134 440h3v3h-3zM144 440h3v3h-3zM174 440h14v3h-14zM191 440h4v3h-4zM202 440h3v3h-3zM212 440h3v3h-3zM222 440h3v3h-3zM232 440h7v3h-7zM246 440h7v3h-7zM273 440h3v3h-3zM280 440h7v3h-7zM290 440h7v3h-7zM300 440h4v3h-4zM307 440h3v3h-3zM324 440h3v3h-3zM344 440h4v3h-4zM358 440h3v3h-3zM382 440h3v3h-3zM402 440h4v3h-4zM416 440h3v3h-3zM423 440h3v3h-3zM440 440h3v3h-3zM463 440h11v3h-11zM494 440h3v3h-3zM501 440h13v3h-13zM525 440h6v3h-6zM535 440h7v3h-7zM545 440h3v3h-3zM576 440h3v3h-3zM582 440h4v3h-4zM589 440h7v3h-7zM83 443h3v3h-3zM100 443h3v3h-3zM110 443h3v3h-3zM120 443h14v3h-14zM144 443h3v3h-3zM164 443h4v3h-4zM191 443h4v3h-4zM215 443h4v3h-4zM222 443h7v3h-7zM246 443h3v3h-3zM256 443h3v3h-3zM270 443h6v3h-6zM280 443h13v3h-13zM304 443h6v3h-6zM314 443h3v3h-3zM324 443h10v3h-10zM338 443h3v3h-3zM355 443h3v3h-3zM392 443h3v3h-3zM406 443h6v3h-6zM419 443h14v3h-14zM440 443h3v3h-3zM446 443h11v3h-11zM460 443h3v3h-3zM467 443h10v3h-10zM487 443h4v3h-4zM494 443h3v3h-3zM511 443h7v3h-7zM528 443h3v3h-3zM535 443h7v3h-7zM545 443h10v3h-10zM565 443h4v3h-4zM582 443h4v3h-4zM596 443h14v3h-14zM83 446h6v4h-6zM103 446h3v4h-3zM113 446h4v4h-4zM120 446h3v4h-3zM134 446h3v4h-3zM147 446h4v4h-4zM161 446h7v4h-7zM178 446h3v4h-3zM191 446h4v4h-4zM202 446h3v4h-3zM219 446h10v4h-10zM232 446h4v4h-4zM242 446h4v4h-4zM256 446h10v4h-10zM276 446h4v4h-4zM290 446h10v4h-10zM317 446h4v4h-4zM327 446h11v4h-11zM351 446h4v4h-4zM375 446h3v4h-3zM385 446h7v4h-7zM395 446h4v4h-4zM402 446h4v4h-4zM409 446h3v4h-3zM429 446h4v4h-4zM453 446h4v4h-4zM460 446h3v4h-3zM467 446h7v4h-7zM484 446h3v4h-3zM491 446h6v4h-6zM501 446h7v4h-7zM528 446h3v4h-3zM538 446h7v4h-7zM562 446h3v4h-3zM572 446h4v4h-4zM586 446h3v4h-3zM606 446h4v4h-4zM79 450h7v3h-7zM96 450h7v3h-7zM113 450h4v3h-4zM123 450h4v3h-4zM137 450h7v3h-7zM154 450h3v3h-3zM161 450h7v3h-7zM198 450h4v3h-4zM219 450h3v3h-3zM239 450h3v3h-3zM273 450h7v3h-7zM283 450h4v3h-4zM293 450h4v3h-4zM310 450h4v3h-4zM331 450h3v3h-3zM338 450h3v3h-3zM344 450h4v3h-4zM351 450h4v3h-4zM361 450h7v3h-7zM375 450h7v3h-7zM385 450h4v3h-4zM395 450h7v3h-7zM412 450h4v3h-4zM443 450h10v3h-10zM457 450h6v3h-6zM467 450h3v3h-3zM497 450h7v3h-7zM508 450h3v3h-3zM525 450h6v3h-6zM548 450h4v3h-4zM559 450h6v3h-6zM572 450h7v3h-7zM603 450h7v3h-7zM69 453h7v4h-7zM79 453h4v4h-4zM86 453h7v4h-7zM103 453h3v4h-3zM110 453h7v4h-7zM120 453h3v4h-3zM137 453h7v4h-7zM151 453h3v4h-3zM168 453h3v4h-3zM178 453h3v4h-3zM185 453h3v4h-3zM208 453h7v4h-7zM242 453h11v4h-11zM259 453h7v4h-7zM270 453h3v4h-3zM290 453h3v4h-3zM310 453h4v4h-4zM327 453h7v4h-7zM338 453h6v4h-6zM348 453h3v4h-3zM368 453h4v4h-4zM385 453h4v4h-4zM392 453h3v4h-3zM409 453h3v4h-3zM436 453h24v4h-24zM480 453h4v4h-4zM487 453h4v4h-4zM518 453h3v4h-3zM535 453h13v4h-13zM565 453h4v4h-4zM572 453h10v4h-10zM596 453h3v4h-3zM72 457h4v3h-4zM89 457h4v3h-4zM100 457h17v3h-17zM120 457h3v3h-3zM130 457h4v3h-4zM144 457h3v3h-3zM161 457h7v3h-7zM174 457h4v3h-4zM202 457h3v3h-3zM236 457h3v3h-3zM246 457h3v3h-3zM259 457h4v3h-4zM276 457h4v3h-4zM297 457h3v3h-3zM310 457h7v3h-7zM321 457h3v3h-3zM327 457h4v3h-4zM334 457h7v3h-7zM348 457h3v3h-3zM361 457h4v3h-4zM368 457h4v3h-4zM402 457h4v3h-4zM412 457h4v3h-4zM419 457h4v3h-4zM453 457h4v3h-4zM460 457h3v3h-3zM474 457h3v3h-3zM484 457h7v3h-7zM501 457h7v3h-7zM525 457h3v3h-3zM555 457h7v3h-7zM565 457h4v3h-4zM572 457h4v3h-4zM589 457h10v3h-10zM72 460h4v3h-4zM83 460h3v3h-3zM93 460h3v3h-3zM106 460h4v3h-4zM120 460h3v3h-3zM134 460h6v3h-6zM151 460h6v3h-6zM164 460h4v3h-4zM171 460h3v3h-3zM188 460h7v3h-7zM253 460h3v3h-3zM270 460h3v3h-3zM276 460h4v3h-4zM293 460h4v3h-4zM304 460h6v3h-6zM321 460h3v3h-3zM341 460h14v3h-14zM358 460h10v3h-10zM385 460h7v3h-7zM399 460h3v3h-3zM419 460h4v3h-4zM429 460h4v3h-4zM436 460h4v3h-4zM443 460h7v3h-7zM504 460h4v3h-4zM542 460h3v3h-3zM559 460h6v3h-6zM576 460h3v3h-3zM586 460h3v3h-3zM593 460h3v3h-3zM83 463h3v4h-3zM100 463h6v4h-6zM120 463h7v4h-7zM130 463h4v4h-4zM161 463h3v4h-3zM188 463h10v4h-10zM202 463h3v4h-3zM212 463h3v4h-3zM222 463h7v4h-7zM246 463h3v4h-3zM256 463h10v4h-10zM287 463h3v4h-3zM293 463h7v4h-7zM307 463h3v4h-3zM317 463h4v4h-4zM334 463h4v4h-4zM341 463h7v4h-7zM389 463h6v4h-6zM440 463h3v4h-3zM450 463h7v4h-7zM463 463h4v4h-4zM470 463h7v4h-7zM484 463h3v4h-3zM511 463h3v4h-3zM521 463h4v4h-4zM531 463h4v4h-4zM548 463h4v4h-4zM559 463h3v4h-3zM576 463h6v4h-6zM603 463h3v4h-3zM610 463h1v4h-1zM100 467h3v3h-3zM106 467h11v3h-11zM130 467h10v3h-10zM144 467h3v3h-3zM157 467h4v3h-4zM195 467h3v3h-3zM253 467h3v3h-3zM259 467h4v3h-4zM266 467h4v3h-4zM280 467h3v3h-3zM293 467h4v3h-4zM300 467h4v3h-4zM314 467h3v3h-3zM331 467h7v3h-7zM392 467h3v3h-3zM402 467h7v3h-7zM419 467h4v3h-4zM429 467h4v3h-4zM457 467h6v3h-6zM470 467h4v3h-4zM497 467h4v3h-4zM511 467h3v3h-3zM518 467h7v3h-7zM535 467h7v3h-7zM545 467h3v3h-3zM576 467h3v3h-3zM589 467h7v3h-7zM610 467h1v3h-1zM72 470h4v4h-4zM79 470h7v4h-7zM117 470h10v4h-10zM134 470h3v4h-3zM164 470h4v4h-4zM171 470h20v4h-20zM205 470h7v4h-7zM225 470h4v4h-4zM236 470h3v4h-3zM256 470h3v4h-3zM273 470h3v4h-3zM287 470h3v4h-3zM293 470h4v4h-4zM304 470h6v4h-6zM314 470h3v4h-3zM321 470h3v4h-3zM327 470h4v4h-4zM334 470h4v4h-4zM348 470h3v4h-3zM372 470h6v4h-6zM382 470h3v4h-3zM392 470h3v4h-3zM402 470h10v4h-10zM419 470h7v4h-7zM443 470h3v4h-3zM457 470h3v4h-3zM463 470h4v4h-4zM511 470h3v4h-3zM521 470h10v4h-10zM538 470h7v4h-7zM572 470h4v4h-4zM579 470h10v4h-10zM593 470h3v4h-3zM599 470h4v4h-4zM79 474h10v3h-10zM117 474h6v3h-6zM137 474h3v3h-3zM147 474h4v3h-4zM171 474h7v3h-7zM198 474h4v3h-4zM208 474h14v3h-14zM253 474h3v3h-3zM266 474h4v3h-4zM276 474h4v3h-4zM287 474h6v3h-6zM297 474h7v3h-7zM307 474h3v3h-3zM317 474h4v3h-4zM324 474h7v3h-7zM344 474h4v3h-4zM355 474h3v3h-3zM361 474h4v3h-4zM402 474h7v3h-7zM412 474h4v3h-4zM419 474h4v3h-4zM429 474h14v3h-14zM453 474h4v3h-4zM470 474h4v3h-4zM494 474h3v3h-3zM508 474h3v3h-3zM521 474h4v3h-4zM548 474h4v3h-4zM555 474h4v3h-4zM562 474h3v3h-3zM569 474h7v3h-7zM593 474h6v3h-6zM610 474h1v3h-1zM89 477h4v3h-4zM96 477h10v3h-10zM110 477h3v3h-3zM137 477h3v3h-3zM157 477h4v3h-4zM168 477h10v3h-10zM191 477h4v3h-4zM205 477h7v3h-7zM225 477h4v3h-4zM246 477h3v3h-3zM253 477h3v3h-3zM263 477h3v3h-3zM270 477h3v3h-3zM276 477h11v3h-11zM310 477h7v3h-7zM324 477h3v3h-3zM331 477h3v3h-3zM338 477h3v3h-3zM348 477h20v3h-20zM378 477h4v3h-4zM409 477h7v3h-7zM419 477h4v3h-4zM436 477h4v3h-4zM446 477h4v3h-4zM463 477h4v3h-4zM470 477h4v3h-4zM484 477h3v3h-3zM491 477h3v3h-3zM501 477h3v3h-3zM508 477h10v3h-10zM531 477h4v3h-4zM538 477h4v3h-4zM572 477h4v3h-4zM586 477h7v3h-7zM596 477h3v3h-3zM603 477h3v3h-3zM76 480h3v4h-3zM86 480h3v4h-3zM93 480h3v4h-3zM110 480h3v4h-3zM123 480h11v4h-11zM140 480h7v4h-7zM161 480h3v4h-3zM168 480h6v4h-6zM195 480h3v4h-3zM205 480h3v4h-3zM229 480h13v4h-13zM249 480h14v4h-14zM283 480h4v4h-4zM307 480h3v4h-3zM317 480h4v4h-4zM324 480h3v4h-3zM338 480h3v4h-3zM358 480h10v4h-10zM378 480h4v4h-4zM385 480h4v4h-4zM392 480h7v4h-7zM426 480h7v4h-7zM443 480h3v4h-3zM450 480h3v4h-3zM460 480h3v4h-3zM474 480h3v4h-3zM484 480h3v4h-3zM501 480h3v4h-3zM508 480h3v4h-3zM521 480h7v4h-7zM531 480h4v4h-4zM542 480h3v4h-3zM552 480h3v4h-3zM559 480h10v4h-10zM576 480h10v4h-10zM589 480h10v4h-10zM69 484h10v3h-10zM83 484h3v3h-3zM89 484h4v3h-4zM96 484h4v3h-4zM123 484h4v3h-4zM134 484h6v3h-6zM178 484h3v3h-3zM185 484h3v3h-3zM195 484h3v3h-3zM205 484h3v3h-3zM219 484h6v3h-6zM239 484h3v3h-3zM246 484h3v3h-3zM273 484h10v3h-10zM310 484h7v3h-7zM327 484h4v3h-4zM334 484h4v3h-4zM361 484h4v3h-4zM375 484h10v3h-10zM389 484h3v3h-3zM395 484h4v3h-4zM402 484h4v3h-4zM409 484h3v3h-3zM433 484h3v3h-3zM453 484h10v3h-10zM470 484h10v3h-10zM484 484h7v3h-7zM494 484h3v3h-3zM511 484h7v3h-7zM521 484h7v3h-7zM531 484h4v3h-4zM545 484h3v3h-3zM555 484h4v3h-4zM565 484h7v3h-7zM586 484h3v3h-3zM599 484h4v3h-4zM79 487h7v4h-7zM100 487h3v4h-3zM123 487h4v4h-4zM130 487h4v4h-4zM144 487h3v4h-3zM154 487h3v4h-3zM161 487h7v4h-7zM181 487h7v4h-7zM191 487h4v4h-4zM212 487h3v4h-3zM219 487h6v4h-6zM229 487h3v4h-3zM242 487h4v4h-4zM283 487h7v4h-7zM293 487h4v4h-4zM307 487h7v4h-7zM317 487h4v4h-4zM327 487h4v4h-4zM334 487h7v4h-7zM365 487h3v4h-3zM372 487h6v4h-6zM382 487h3v4h-3zM389 487h3v4h-3zM395 487h4v4h-4zM402 487h4v4h-4zM409 487h3v4h-3zM423 487h3v4h-3zM443 487h3v4h-3zM450 487h3v4h-3zM463 487h4v4h-4zM474 487h10v4h-10zM487 487h4v4h-4zM497 487h4v4h-4zM504 487h4v4h-4zM518 487h3v4h-3zM525 487h3v4h-3zM542 487h3v4h-3zM559 487h3v4h-3zM576 487h3v4h-3zM586 487h3v4h-3zM606 487h4v4h-4zM69 491h3v3h-3zM96 491h4v3h-4zM106 491h4v3h-4zM117 491h23v3h-23zM147 491h10v3h-10zM168 491h6v3h-6zM178 491h10v3h-10zM195 491h3v3h-3zM202 491h17v3h-17zM225 491h4v3h-4zM253 491h3v3h-3zM259 491h14v3h-14zM280 491h3v3h-3zM290 491h3v3h-3zM297 491h3v3h-3zM324 491h3v3h-3zM334 491h4v3h-4zM344 491h4v3h-4zM355 491h3v3h-3zM372 491h10v3h-10zM406 491h3v3h-3zM429 491h4v3h-4zM494 491h3v3h-3zM511 491h3v3h-3zM518 491h3v3h-3zM525 491h3v3h-3zM535 491h7v3h-7zM565 491h4v3h-4zM572 491h10v3h-10zM596 491h3v3h-3zM72 494h4v3h-4zM83 494h6v3h-6zM134 494h3v3h-3zM140 494h7v3h-7zM154 494h3v3h-3zM164 494h7v3h-7zM178 494h10v3h-10zM191 494h7v3h-7zM212 494h3v3h-3zM222 494h3v3h-3zM232 494h4v3h-4zM246 494h3v3h-3zM283 494h4v3h-4zM300 494h4v3h-4zM307 494h3v3h-3zM324 494h7v3h-7zM338 494h3v3h-3zM351 494h4v3h-4zM358 494h7v3h-7zM368 494h4v3h-4zM389 494h3v3h-3zM402 494h4v3h-4zM409 494h3v3h-3zM416 494h3v3h-3zM423 494h3v3h-3zM429 494h4v3h-4zM436 494h4v3h-4zM453 494h4v3h-4zM463 494h4v3h-4zM484 494h10v3h-10zM504 494h4v3h-4zM525 494h3v3h-3zM569 494h7v3h-7zM589 494h21v3h-21zM69 497h3v4h-3zM93 497h3v4h-3zM106 497h4v4h-4zM127 497h3v4h-3zM140 497h4v4h-4zM151 497h3v4h-3zM157 497h4v4h-4zM164 497h14v4h-14zM185 497h6v4h-6zM195 497h3v4h-3zM205 497h10v4h-10zM222 497h7v4h-7zM232 497h4v4h-4zM242 497h7v4h-7zM259 497h4v4h-4zM276 497h4v4h-4zM310 497h7v4h-7zM324 497h3v4h-3zM344 497h7v4h-7zM358 497h3v4h-3zM382 497h10v4h-10zM426 497h7v4h-7zM440 497h3v4h-3zM446 497h7v4h-7zM457 497h3v4h-3zM470 497h4v4h-4zM477 497h3v4h-3zM484 497h3v4h-3zM504 497h4v4h-4zM528 497h3v4h-3zM542 497h3v4h-3zM555 497h4v4h-4zM562 497h7v4h-7zM579 497h3v4h-3zM596 497h7v4h-7zM606 497h4v4h-4zM69 501h3v3h-3zM93 501h10v3h-10zM120 501h7v3h-7zM130 501h4v3h-4zM137 501h3v3h-3zM144 501h3v3h-3zM151 501h6v3h-6zM185 501h3v3h-3zM195 501h3v3h-3zM205 501h3v3h-3zM212 501h7v3h-7zM239 501h3v3h-3zM256 501h7v3h-7zM266 501h4v3h-4zM300 501h4v3h-4zM344 501h4v3h-4zM351 501h4v3h-4zM361 501h11v3h-11zM395 501h7v3h-7zM406 501h3v3h-3zM416 501h3v3h-3zM423 501h3v3h-3zM436 501h4v3h-4zM460 501h7v3h-7zM474 501h6v3h-6zM511 501h7v3h-7zM531 501h4v3h-4zM542 501h3v3h-3zM552 501h3v3h-3zM579 501h7v3h-7zM593 501h3v3h-3zM610 501h1v3h-1zM72 504h4v4h-4zM79 504h4v4h-4zM89 504h4v4h-4zM100 504h3v4h-3zM113 504h4v4h-4zM120 504h3v4h-3zM134 504h3v4h-3zM147 504h7v4h-7zM168 504h6v4h-6zM178 504h7v4h-7zM191 504h7v4h-7zM212 504h7v4h-7zM225 504h4v4h-4zM232 504h4v4h-4zM249 504h7v4h-7zM276 504h4v4h-4zM290 504h3v4h-3zM310 504h4v4h-4zM344 504h11v4h-11zM358 504h3v4h-3zM365 504h7v4h-7zM389 504h3v4h-3zM395 504h4v4h-4zM409 504h7v4h-7zM426 504h7v4h-7zM467 504h13v4h-13zM501 504h7v4h-7zM514 504h11v4h-11zM531 504h4v4h-4zM538 504h7v4h-7zM559 504h3v4h-3zM586 504h3v4h-3zM610 504h1v4h-1zM79 508h14v3h-14zM96 508h4v3h-4zM106 508h4v3h-4zM127 508h3v3h-3zM137 508h3v3h-3zM154 508h7v3h-7zM164 508h4v3h-4zM191 508h7v3h-7zM202 508h3v3h-3zM219 508h3v3h-3zM232 508h4v3h-4zM256 508h3v3h-3zM266 508h4v3h-4zM276 508h4v3h-4zM283 508h4v3h-4zM290 508h7v3h-7zM304 508h3v3h-3zM324 508h3v3h-3zM331 508h3v3h-3zM338 508h10v3h-10zM355 508h10v3h-10zM375 508h14v3h-14zM395 508h4v3h-4zM406 508h3v3h-3zM426 508h3v3h-3zM433 508h3v3h-3zM463 508h4v3h-4zM474 508h3v3h-3zM480 508h4v3h-4zM487 508h4v3h-4zM501 508h3v3h-3zM508 508h3v3h-3zM514 508h4v3h-4zM528 508h3v3h-3zM552 508h7v3h-7zM562 508h3v3h-3zM569 508h3v3h-3zM579 508h3v3h-3zM586 508h3v3h-3zM599 508h4v3h-4zM606 508h4v3h-4zM113 511h4v3h-4zM120 511h3v3h-3zM151 511h3v3h-3zM161 511h3v3h-3zM178 511h13v3h-13zM195 511h7v3h-7zM205 511h7v3h-7zM219 511h3v3h-3zM239 511h3v3h-3zM246 511h3v3h-3zM253 511h3v3h-3zM266 511h7v3h-7zM280 511h3v3h-3zM290 511h3v3h-3zM297 511h3v3h-3zM310 511h4v3h-4zM348 511h3v3h-3zM368 511h10v3h-10zM385 511h4v3h-4zM392 511h7v3h-7zM406 511h3v3h-3zM433 511h3v3h-3zM443 511h14v3h-14zM460 511h7v3h-7zM480 511h4v3h-4zM494 511h7v3h-7zM504 511h4v3h-4zM525 511h3v3h-3zM545 511h3v3h-3zM565 511h4v3h-4zM579 511h3v3h-3zM593 511h3v3h-3zM96 514h7v4h-7zM113 514h10v4h-10zM130 514h4v4h-4zM137 514h3v4h-3zM144 514h3v4h-3zM161 514h3v4h-3zM171 514h3v4h-3zM181 514h10v4h-10zM195 514h3v4h-3zM208 514h4v4h-4zM215 514h4v4h-4zM229 514h3v4h-3zM239 514h7v4h-7zM249 514h7v4h-7zM273 514h3v4h-3zM280 514h7v4h-7zM307 514h3v4h-3zM317 514h4v4h-4zM327 514h4v4h-4zM334 514h7v4h-7zM351 514h4v4h-4zM368 514h7v4h-7zM378 514h7v4h-7zM389 514h3v4h-3zM406 514h3v4h-3zM443 514h3v4h-3zM457 514h3v4h-3zM467 514h3v4h-3zM474 514h6v4h-6zM484 514h3v4h-3zM491 514h3v4h-3zM501 514h7v4h-7zM518 514h3v4h-3zM538 514h7v4h-7zM548 514h7v4h-7zM565 514h7v4h-7zM576 514h3v4h-3zM596 514h3v4h-3zM69 518h7v3h-7zM86 518h3v3h-3zM103 518h3v3h-3zM113 518h4v3h-4zM123 518h7v3h-7zM154 518h3v3h-3zM164 518h4v3h-4zM198 518h7v3h-7zM212 518h7v3h-7zM229 518h3v3h-3zM253 518h3v3h-3zM273 518h3v3h-3zM280 518h3v3h-3zM290 518h3v3h-3zM327 518h7v3h-7zM348 518h3v3h-3zM395 518h4v3h-4zM402 518h7v3h-7zM412 518h4v3h-4zM426 518h3v3h-3zM436 518h4v3h-4zM446 518h4v3h-4zM457 518h3v3h-3zM477 518h3v3h-3zM487 518h4v3h-4zM508 518h3v3h-3zM521 518h4v3h-4zM531 518h4v3h-4zM589 518h10v3h-10zM603 518h3v3h-3zM610 518h1v3h-1zM76 521h3v4h-3zM83 521h10v4h-10zM96 521h4v4h-4zM113 521h7v4h-7zM147 521h7v4h-7zM164 521h4v4h-4zM191 521h4v4h-4zM198 521h7v4h-7zM212 521h13v4h-13zM236 521h6v4h-6zM256 521h7v4h-7zM270 521h3v4h-3zM287 521h3v4h-3zM297 521h7v4h-7zM321 521h3v4h-3zM327 521h4v4h-4zM351 521h4v4h-4zM372 521h13v4h-13zM395 521h7v4h-7zM409 521h14v4h-14zM426 521h7v4h-7zM436 521h4v4h-4zM446 521h4v4h-4zM453 521h4v4h-4zM460 521h14v4h-14zM487 521h4v4h-4zM494 521h3v4h-3zM514 521h4v4h-4zM521 521h4v4h-4zM528 521h10v4h-10zM542 521h3v4h-3zM548 521h4v4h-4zM562 521h3v4h-3zM582 521h4v4h-4zM589 521h4v4h-4zM596 521h7v4h-7zM606 521h5v4h-5zM76 525h3v3h-3zM96 525h7v3h-7zM110 525h10v3h-10zM127 525h3v3h-3zM140 525h4v3h-4zM147 525h7v3h-7zM164 525h4v3h-4zM171 525h3v3h-3zM185 525h6v3h-6zM198 525h4v3h-4zM225 525h4v3h-4zM239 525h3v3h-3zM270 525h6v3h-6zM280 525h3v3h-3zM293 525h4v3h-4zM317 525h4v3h-4zM327 525h4v3h-4zM341 525h3v3h-3zM358 525h3v3h-3zM375 525h7v3h-7zM389 525h3v3h-3zM406 525h3v3h-3zM423 525h3v3h-3zM443 525h7v3h-7zM460 525h3v3h-3zM477 525h3v3h-3zM497 525h4v3h-4zM504 525h4v3h-4zM514 525h4v3h-4zM535 525h7v3h-7zM559 525h6v3h-6zM576 525h6v3h-6zM76 528h3v3h-3zM86 528h3v3h-3zM93 528h3v3h-3zM100 528h3v3h-3zM151 528h3v3h-3zM161 528h3v3h-3zM174 528h7v3h-7zM202 528h3v3h-3zM208 528h4v3h-4zM219 528h3v3h-3zM229 528h3v3h-3zM249 528h4v3h-4zM287 528h6v3h-6zM300 528h4v3h-4zM331 528h3v3h-3zM338 528h3v3h-3zM344 528h4v3h-4zM358 528h10v3h-10zM378 528h7v3h-7zM389 528h3v3h-3zM402 528h7v3h-7zM416 528h3v3h-3zM426 528h7v3h-7zM440 528h6v3h-6zM450 528h3v3h-3zM457 528h3v3h-3zM463 528h11v3h-11zM491 528h6v3h-6zM518 528h7v3h-7zM535 528h3v3h-3zM582 528h11v3h-11zM599 528h4v3h-4zM83 531h6v4h-6zM120 531h7v4h-7zM130 531h4v4h-4zM140 531h4v4h-4zM161 531h3v4h-3zM171 531h3v4h-3zM178 531h7v4h-7zM202 531h20v4h-20zM225 531h7v4h-7zM239 531h3v4h-3zM266 531h7v4h-7zM314 531h3v4h-3zM334 531h4v4h-4zM344 531h4v4h-4zM351 531h7v4h-7zM365 531h3v4h-3zM375 531h3v4h-3zM382 531h7v4h-7zM392 531h3v4h-3zM419 531h7v4h-7zM440 531h3v4h-3zM457 531h3v4h-3zM470 531h4v4h-4zM480 531h4v4h-4zM487 531h4v4h-4zM494 531h3v4h-3zM508 531h3v4h-3zM518 531h7v4h-7zM528 531h3v4h-3zM538 531h4v4h-4zM548 531h4v4h-4zM555 531h7v4h-7zM565 531h4v4h-4zM579 531h3v4h-3zM593 531h10v4h-10zM79 535h4v3h-4zM89 535h4v3h-4zM103 535h7v3h-7zM113 535h7v3h-7zM123 535h7v3h-7zM140 535h4v3h-4zM147 535h7v3h-7zM164 535h7v3h-7zM205 535h3v3h-3zM215 535h4v3h-4zM229 535h7v3h-7zM249 535h4v3h-4zM266 535h4v3h-4zM280 535h13v3h-13zM300 535h4v3h-4zM317 535h10v3h-10zM341 535h3v3h-3zM351 535h7v3h-7zM365 535h10v3h-10zM378 535h4v3h-4zM385 535h4v3h-4zM395 535h11v3h-11zM433 535h3v3h-3zM440 535h3v3h-3zM446 535h4v3h-4zM487 535h4v3h-4zM497 535h7v3h-7zM525 535h3v3h-3zM538 535h4v3h-4zM545 535h3v3h-3zM569 535h3v3h-3zM589 535h4v3h-4zM603 535h3v3h-3zM79 538h7v4h-7zM137 538h3v4h-3zM147 538h7v4h-7zM164 538h4v4h-4zM171 538h3v4h-3zM195 538h3v4h-3zM215 538h7v4h-7zM225 538h4v4h-4zM236 538h3v4h-3zM249 538h7v4h-7zM276 538h14v4h-14zM297 538h10v4h-10zM317 538h4v4h-4zM324 538h3v4h-3zM334 538h7v4h-7zM344 538h7v4h-7zM375 538h7v4h-7zM416 538h3v4h-3zM429 538h4v4h-4zM440 538h3v4h-3zM446 538h4v4h-4zM460 538h3v4h-3zM497 538h4v4h-4zM528 538h3v4h-3zM535 538h7v4h-7zM552 538h7v4h-7zM565 538h7v4h-7zM589 538h7v4h-7zM69 542h3v3h-3zM76 542h3v3h-3zM96 542h4v3h-4zM103 542h3v3h-3zM113 542h4v3h-4zM127 542h3v3h-3zM161 542h3v3h-3zM174 542h4v3h-4zM195 542h3v3h-3zM212 542h3v3h-3zM219 542h3v3h-3zM225 542h11v3h-11zM239 542h3v3h-3zM249 542h17v3h-17zM273 542h3v3h-3zM283 542h4v3h-4zM304 542h3v3h-3zM321 542h6v3h-6zM331 542h3v3h-3zM368 542h4v3h-4zM378 542h4v3h-4zM409 542h3v3h-3zM416 542h3v3h-3zM423 542h3v3h-3zM440 542h3v3h-3zM457 542h3v3h-3zM463 542h4v3h-4zM477 542h3v3h-3zM484 542h3v3h-3zM491 542h3v3h-3zM497 542h4v3h-4zM508 542h3v3h-3zM565 542h4v3h-4zM582 542h7v3h-7zM593 542h6v3h-6zM69 545h3v3h-3zM79 545h7v3h-7zM89 545h4v3h-4zM100 545h3v3h-3zM113 545h10v3h-10zM127 545h7v3h-7zM140 545h4v3h-4zM154 545h3v3h-3zM174 545h7v3h-7zM185 545h3v3h-3zM191 545h4v3h-4zM198 545h7v3h-7zM208 545h11v3h-11zM225 545h14v3h-14zM253 545h6v3h-6zM263 545h3v3h-3zM276 545h4v3h-4zM283 545h4v3h-4zM304 545h3v3h-3zM314 545h3v3h-3zM351 545h7v3h-7zM372 545h6v3h-6zM389 545h6v3h-6zM419 545h4v3h-4zM426 545h7v3h-7zM446 545h4v3h-4zM474 545h6v3h-6zM484 545h3v3h-3zM497 545h4v3h-4zM518 545h3v3h-3zM525 545h6v3h-6zM555 545h4v3h-4zM562 545h3v3h-3zM586 545h3v3h-3zM593 545h3v3h-3zM603 545h3v3h-3zM610 545h1v3h-1zM76 548h3v4h-3zM83 548h3v4h-3zM96 548h7v4h-7zM134 548h6v4h-6zM144 548h3v4h-3zM151 548h3v4h-3zM168 548h6v4h-6zM178 548h3v4h-3zM198 548h4v4h-4zM215 548h4v4h-4zM236 548h6v4h-6zM259 548h4v4h-4zM266 548h4v4h-4zM283 548h4v4h-4zM290 548h3v4h-3zM297 548h3v4h-3zM307 548h3v4h-3zM338 548h3v4h-3zM355 548h3v4h-3zM361 548h4v4h-4zM372 548h3v4h-3zM385 548h4v4h-4zM395 548h4v4h-4zM409 548h7v4h-7zM429 548h7v4h-7zM443 548h3v4h-3zM450 548h3v4h-3zM474 548h6v4h-6zM484 548h3v4h-3zM497 548h4v4h-4zM518 548h13v4h-13zM535 548h3v4h-3zM562 548h3v4h-3zM569 548h3v4h-3zM589 548h4v4h-4zM72 552h4v3h-4zM89 552h7v3h-7zM106 552h21v3h-21zM130 552h7v3h-7zM164 552h4v3h-4zM174 552h4v3h-4zM191 552h4v3h-4zM212 552h7v3h-7zM222 552h3v3h-3zM229 552h3v3h-3zM239 552h3v3h-3zM249 552h4v3h-4zM256 552h3v3h-3zM280 552h3v3h-3zM287 552h3v3h-3zM300 552h4v3h-4zM344 552h4v3h-4zM351 552h7v3h-7zM361 552h4v3h-4zM368 552h14v3h-14zM389 552h6v3h-6zM409 552h3v3h-3zM426 552h3v3h-3zM433 552h3v3h-3zM450 552h7v3h-7zM494 552h3v3h-3zM504 552h4v3h-4zM545 552h3v3h-3zM562 552h3v3h-3zM579 552h3v3h-3zM586 552h3v3h-3zM596 552h3v3h-3zM69 555h7v4h-7zM79 555h4v4h-4zM113 555h7v4h-7zM123 555h4v4h-4zM140 555h4v4h-4zM147 555h4v4h-4zM154 555h3v4h-3zM161 555h3v4h-3zM174 555h4v4h-4zM188 555h3v4h-3zM195 555h3v4h-3zM205 555h3v4h-3zM215 555h4v4h-4zM222 555h7v4h-7zM232 555h7v4h-7zM256 555h3v4h-3zM283 555h4v4h-4zM297 555h7v4h-7zM327 555h7v4h-7zM338 555h3v4h-3zM368 555h4v4h-4zM375 555h14v4h-14zM392 555h3v4h-3zM402 555h4v4h-4zM409 555h7v4h-7zM419 555h4v4h-4zM433 555h3v4h-3zM450 555h3v4h-3zM460 555h3v4h-3zM467 555h3v4h-3zM474 555h6v4h-6zM508 555h3v4h-3zM518 555h3v4h-3zM531 555h7v4h-7zM565 555h4v4h-4zM579 555h7v4h-7zM603 555h7v4h-7zM79 559h4v3h-4zM89 559h4v3h-4zM96 559h4v3h-4zM106 559h4v3h-4zM134 559h6v3h-6zM161 559h3v3h-3zM181 559h7v3h-7zM202 559h6v3h-6zM222 559h7v3h-7zM239 559h10v3h-10zM256 559h3v3h-3zM273 559h7v3h-7zM290 559h3v3h-3zM307 559h3v3h-3zM314 559h3v3h-3zM321 559h3v3h-3zM341 559h3v3h-3zM351 559h4v3h-4zM358 559h3v3h-3zM368 559h4v3h-4zM375 559h3v3h-3zM406 559h10v3h-10zM419 559h4v3h-4zM426 559h3v3h-3zM433 559h3v3h-3zM446 559h7v3h-7zM467 559h10v3h-10zM491 559h3v3h-3zM497 559h4v3h-4zM511 559h3v3h-3zM528 559h3v3h-3zM538 559h7v3h-7zM593 559h6v3h-6zM117 562h3v3h-3zM123 562h4v3h-4zM137 562h7v3h-7zM147 562h4v3h-4zM168 562h6v3h-6zM198 562h7v3h-7zM215 562h4v3h-4zM225 562h4v3h-4zM236 562h3v3h-3zM242 562h7v3h-7zM253 562h6v3h-6zM266 562h4v3h-4zM287 562h3v3h-3zM293 562h11v3h-11zM310 562h4v3h-4zM327 562h7v3h-7zM338 562h3v3h-3zM375 562h3v3h-3zM392 562h3v3h-3zM399 562h10v3h-10zM412 562h4v3h-4zM419 562h4v3h-4zM433 562h3v3h-3zM443 562h14v3h-14zM491 562h6v3h-6zM508 562h3v3h-3zM518 562h3v3h-3zM525 562h3v3h-3zM531 562h4v3h-4zM538 562h4v3h-4zM552 562h7v3h-7zM572 562h4v3h-4zM586 562h3v3h-3zM599 562h7v3h-7zM610 562h1v3h-1zM93 565h3v4h-3zM106 565h11v4h-11zM120 565h7v4h-7zM137 565h7v4h-7zM151 565h3v4h-3zM161 565h3v4h-3zM185 565h3v4h-3zM191 565h4v4h-4zM208 565h7v4h-7zM222 565h3v4h-3zM229 565h3v4h-3zM236 565h3v4h-3zM249 565h4v4h-4zM256 565h3v4h-3zM263 565h7v4h-7zM287 565h3v4h-3zM297 565h7v4h-7zM307 565h14v4h-14zM338 565h3v4h-3zM375 565h10v4h-10zM402 565h4v4h-4zM419 565h4v4h-4zM426 565h3v4h-3zM446 565h4v4h-4zM460 565h3v4h-3zM491 565h3v4h-3zM497 565h4v4h-4zM514 565h7v4h-7zM525 565h3v4h-3zM531 565h4v4h-4zM538 565h4v4h-4zM555 565h7v4h-7zM569 565h10v4h-10zM589 565h4v4h-4zM603 565h3v4h-3zM610 565h1v4h-1zM72 569h11v3h-11zM89 569h4v3h-4zM103 569h3v3h-3zM110 569h7v3h-7zM120 569h3v3h-3zM130 569h4v3h-4zM137 569h3v3h-3zM144 569h3v3h-3zM151 569h3v3h-3zM168 569h3v3h-3zM178 569h3v3h-3zM212 569h7v3h-7zM222 569h7v3h-7zM242 569h7v3h-7zM290 569h3v3h-3zM304 569h6v3h-6zM338 569h17v3h-17zM361 569h4v3h-4zM402 569h7v3h-7zM419 569h4v3h-4zM436 569h4v3h-4zM460 569h3v3h-3zM491 569h3v3h-3zM501 569h3v3h-3zM531 569h4v3h-4zM545 569h3v3h-3zM555 569h10v3h-10zM582 569h11v3h-11zM603 569h7v3h-7zM76 572h3v4h-3zM89 572h4v4h-4zM103 572h3v4h-3zM113 572h7v4h-7zM130 572h4v4h-4zM137 572h3v4h-3zM147 572h4v4h-4zM154 572h3v4h-3zM161 572h3v4h-3zM168 572h6v4h-6zM178 572h3v4h-3zM215 572h4v4h-4zM222 572h3v4h-3zM232 572h7v4h-7zM246 572h3v4h-3zM253 572h10v4h-10zM283 572h10v4h-10zM300 572h4v4h-4zM317 572h7v4h-7zM327 572h7v4h-7zM341 572h3v4h-3zM358 572h3v4h-3zM365 572h7v4h-7zM385 572h4v4h-4zM412 572h4v4h-4zM419 572h4v4h-4zM426 572h3v4h-3zM433 572h7v4h-7zM450 572h3v4h-3zM460 572h3v4h-3zM467 572h3v4h-3zM474 572h6v4h-6zM501 572h7v4h-7zM552 572h3v4h-3zM576 572h3v4h-3zM610 572h1v4h-1zM72 576h4v3h-4zM96 576h7v3h-7zM120 576h3v3h-3zM127 576h3v3h-3zM137 576h3v3h-3zM144 576h3v3h-3zM161 576h3v3h-3zM171 576h3v3h-3zM185 576h3v3h-3zM202 576h3v3h-3zM215 576h4v3h-4zM222 576h14v3h-14zM242 576h4v3h-4zM249 576h4v3h-4zM259 576h4v3h-4zM270 576h3v3h-3zM287 576h6v3h-6zM310 576h4v3h-4zM317 576h4v3h-4zM324 576h3v3h-3zM334 576h4v3h-4zM341 576h7v3h-7zM368 576h4v3h-4zM375 576h3v3h-3zM382 576h3v3h-3zM402 576h10v3h-10zM426 576h3v3h-3zM433 576h3v3h-3zM460 576h3v3h-3zM484 576h3v3h-3zM504 576h7v3h-7zM514 576h4v3h-4zM521 576h14v3h-14zM552 576h3v3h-3zM559 576h6v3h-6zM599 576h4v3h-4zM610 576h1v3h-1zM72 579h4v3h-4zM79 579h7v3h-7zM89 579h4v3h-4zM113 579h4v3h-4zM123 579h4v3h-4zM171 579h3v3h-3zM188 579h7v3h-7zM208 579h4v3h-4zM229 579h3v3h-3zM236 579h3v3h-3zM256 579h7v3h-7zM273 579h7v3h-7zM317 579h10v3h-10zM334 579h4v3h-4zM355 579h3v3h-3zM365 579h3v3h-3zM395 579h4v3h-4zM412 579h7v3h-7zM423 579h3v3h-3zM467 579h3v3h-3zM480 579h7v3h-7zM491 579h10v3h-10zM508 579h3v3h-3zM514 579h7v3h-7zM538 579h10v3h-10zM576 579h3v3h-3zM603 579h7v3h-7zM76 582h3v4h-3zM93 582h3v4h-3zM117 582h3v4h-3zM137 582h7v4h-7zM147 582h4v4h-4zM164 582h4v4h-4zM191 582h4v4h-4zM205 582h7v4h-7zM222 582h3v4h-3zM229 582h3v4h-3zM236 582h10v4h-10zM249 582h7v4h-7zM259 582h4v4h-4zM273 582h7v4h-7zM283 582h4v4h-4zM293 582h4v4h-4zM310 582h4v4h-4zM317 582h7v4h-7zM361 582h4v4h-4zM368 582h4v4h-4zM382 582h3v4h-3zM395 582h4v4h-4zM416 582h3v4h-3zM443 582h7v4h-7zM463 582h4v4h-4zM514 582h4v4h-4zM528 582h7v4h-7zM548 582h4v4h-4zM555 582h7v4h-7zM572 582h4v4h-4zM586 582h3v4h-3zM593 582h3v4h-3zM606 582h4v4h-4zM79 586h4v3h-4zM89 586h4v3h-4zM103 586h10v3h-10zM147 586h4v3h-4zM171 586h3v3h-3zM188 586h3v3h-3zM222 586h7v3h-7zM236 586h3v3h-3zM263 586h3v3h-3zM280 586h7v3h-7zM300 586h4v3h-4zM327 586h4v3h-4zM334 586h4v3h-4zM348 586h3v3h-3zM361 586h4v3h-4zM368 586h4v3h-4zM382 586h7v3h-7zM395 586h4v3h-4zM406 586h3v3h-3zM416 586h3v3h-3zM429 586h4v3h-4zM443 586h3v3h-3zM460 586h3v3h-3zM470 586h4v3h-4zM501 586h13v3h-13zM528 586h3v3h-3zM538 586h4v3h-4zM545 586h3v3h-3zM565 586h4v3h-4zM572 586h4v3h-4zM596 586h3v3h-3zM606 586h4v3h-4zM76 589h3v4h-3zM86 589h3v4h-3zM93 589h3v4h-3zM103 589h3v4h-3zM147 589h4v4h-4zM157 589h4v4h-4zM164 589h4v4h-4zM185 589h6v4h-6zM195 589h7v4h-7zM236 589h3v4h-3zM256 589h3v4h-3zM276 589h4v4h-4zM287 589h10v4h-10zM317 589h4v4h-4zM331 589h3v4h-3zM338 589h3v4h-3zM355 589h3v4h-3zM382 589h3v4h-3zM395 589h4v4h-4zM402 589h4v4h-4zM443 589h3v4h-3zM453 589h4v4h-4zM460 589h3v4h-3zM470 589h7v4h-7zM480 589h4v4h-4zM491 589h3v4h-3zM501 589h3v4h-3zM508 589h3v4h-3zM521 589h4v4h-4zM528 589h3v4h-3zM538 589h4v4h-4zM545 589h3v4h-3zM569 589h3v4h-3zM582 589h4v4h-4zM69 593h3v3h-3zM76 593h7v3h-7zM86 593h3v3h-3zM106 593h4v3h-4zM120 593h3v3h-3zM137 593h3v3h-3zM154 593h3v3h-3zM161 593h3v3h-3zM168 593h6v3h-6zM185 593h3v3h-3zM195 593h3v3h-3zM222 593h3v3h-3zM229 593h3v3h-3zM236 593h10v3h-10zM253 593h6v3h-6zM270 593h3v3h-3zM293 593h7v3h-7zM304 593h3v3h-3zM334 593h4v3h-4zM358 593h3v3h-3zM372 593h3v3h-3zM392 593h3v3h-3zM402 593h4v3h-4zM409 593h10v3h-10zM426 593h3v3h-3zM433 593h7v3h-7zM470 593h10v3h-10zM484 593h3v3h-3zM491 593h3v3h-3zM497 593h7v3h-7zM521 593h4v3h-4zM545 593h3v3h-3zM552 593h3v3h-3zM559 593h3v3h-3zM576 593h3v3h-3zM582 593h4v3h-4zM593 593h3v3h-3zM603 593h3v3h-3zM610 593h1v3h-1zM72 596h7v3h-7zM83 596h3v3h-3zM89 596h11v3h-11zM106 596h4v3h-4zM123 596h4v3h-4zM130 596h7v3h-7zM140 596h4v3h-4zM164 596h4v3h-4zM174 596h7v3h-7zM188 596h7v3h-7zM205 596h3v3h-3zM212 596h3v3h-3zM229 596h3v3h-3zM239 596h3v3h-3zM249 596h7v3h-7zM273 596h10v3h-10zM290 596h3v3h-3zM310 596h4v3h-4zM317 596h4v3h-4zM331 596h3v3h-3zM341 596h7v3h-7zM358 596h3v3h-3zM392 596h3v3h-3zM399 596h3v3h-3zM433 596h3v3h-3zM450 596h3v3h-3zM457 596h3v3h-3zM463 596h4v3h-4zM477 596h3v3h-3zM487 596h4v3h-4zM497 596h4v3h-4zM511 596h3v3h-3zM528 596h3v3h-3zM538 596h4v3h-4zM548 596h4v3h-4zM569 596h10v3h-10zM586 596h3v3h-3zM596 596h3v3h-3zM603 596h7v3h-7zM69 599h3v4h-3zM79 599h4v4h-4zM89 599h4v4h-4zM100 599h3v4h-3zM110 599h3v4h-3zM117 599h3v4h-3zM137 599h3v4h-3zM154 599h3v4h-3zM168 599h3v4h-3zM188 599h3v4h-3zM202 599h3v4h-3zM208 599h4v4h-4zM215 599h4v4h-4zM222 599h3v4h-3zM229 599h3v4h-3zM242 599h4v4h-4zM253 599h3v4h-3zM270 599h3v4h-3zM283 599h4v4h-4zM297 599h7v4h-7zM324 599h7v4h-7zM341 599h3v4h-3zM355 599h3v4h-3zM361 599h4v4h-4zM382 599h3v4h-3zM419 599h4v4h-4zM453 599h4v4h-4zM467 599h7v4h-7zM477 599h3v4h-3zM484 599h3v4h-3zM494 599h3v4h-3zM511 599h10v4h-10zM525 599h3v4h-3zM542 599h3v4h-3zM548 599h4v4h-4zM559 599h6v4h-6zM572 599h4v4h-4zM586 599h7v4h-7zM606 599h4v4h-4zM79 603h4v3h-4zM89 603h7v3h-7zM117 603h3v3h-3zM123 603h4v3h-4zM137 603h3v3h-3zM144 603h3v3h-3zM151 603h3v3h-3zM202 603h3v3h-3zM212 603h3v3h-3zM225 603h7v3h-7zM242 603h7v3h-7zM253 603h3v3h-3zM259 603h4v3h-4zM280 603h3v3h-3zM300 603h4v3h-4zM310 603h4v3h-4zM324 603h7v3h-7zM344 603h7v3h-7zM358 603h3v3h-3zM368 603h7v3h-7zM378 603h4v3h-4zM399 603h3v3h-3zM409 603h3v3h-3zM419 603h7v3h-7zM457 603h6v3h-6zM470 603h4v3h-4zM477 603h3v3h-3zM514 603h4v3h-4zM535 603h3v3h-3zM545 603h3v3h-3zM552 603h3v3h-3zM562 603h3v3h-3zM576 603h6v3h-6zM586 603h3v3h-3zM603 603h7v3h-7zM72 606h4v4h-4zM93 606h10v4h-10zM120 606h7v4h-7zM147 606h4v4h-4zM164 606h4v4h-4zM171 606h3v4h-3zM178 606h10v4h-10zM191 606h4v4h-4zM202 606h3v4h-3zM215 606h7v4h-7zM225 606h4v4h-4zM246 606h7v4h-7zM270 606h3v4h-3zM280 606h3v4h-3zM297 606h7v4h-7zM324 606h7v4h-7zM341 606h7v4h-7zM402 606h4v4h-4zM409 606h3v4h-3zM423 606h3v4h-3zM433 606h3v4h-3zM453 606h4v4h-4zM463 606h4v4h-4zM514 606h4v4h-4zM528 606h7v4h-7zM538 606h4v4h-4zM555 606h4v4h-4zM569 606h3v4h-3zM579 606h3v4h-3zM599 606h4v4h-4zM606 606h4v4h-4zM76 610h7v1h-7zM103 610h14v1h-14zM120 610h3v1h-3zM130 610h17v1h-17zM151 610h6v1h-6zM161 610h7v1h-7zM171 610h3v1h-3zM178 610h3v1h-3zM191 610h7v1h-7zM205 610h3v1h-3zM222 610h3v1h-3zM242 610h17v1h-17zM276 610h4v1h-4zM287 610h6v1h-6zM297 610h3v1h-3zM317 610h4v1h-4zM331 610h7v1h-7zM344 610h4v1h-4zM358 610h7v1h-7zM375 610h3v1h-3zM389 610h3v1h-3zM409 610h7v1h-7zM426 610h3v1h-3zM436 610h4v1h-4zM443 610h7v1h-7zM453 610h4v1h-4zM467 610h3v1h-3zM477 610h3v1h-3zM491 610h6v1h-6zM525 610h3v1h-3zM531 610h4v1h-4zM562 610h3v1h-3zM579 610h3v1h-3zM586 610h3v1h-3z"/><path fill="#d8d8d8" d="M76 69h3v3h-3zM86 69h7v3h-7zM96 69h4v3h-4zM130 69h4v3h-4zM276 69h4v3h-4zM327 69h4v3h-4zM334 69h4v3h-4zM368 69h4v3h-4zM382 69h3v3h-3zM440 69h6v3h-6zM497 69h4v3h-4zM610 69h1v3h-1zM69 72h3v4h-3zM205 72h3v4h-3zM215 72h4v4h-4zM297 72h3v4h-3zM324 72h3v4h-3zM338 72h3v4h-3zM348 72h3v4h-3zM392 72h3v4h-3zM467 72h3v4h-3zM569 72h3v4h-3zM79 76h4v3h-4zM93 76h3v3h-3zM168 76h3v3h-3zM205 76h7v3h-7zM253 76h3v3h-3zM304 76h3v3h-3zM348 76h7v3h-7zM375 76h3v3h-3zM497 76h4v3h-4zM518 76h7v3h-7zM545 76h3v3h-3zM79 79h4v4h-4zM117 79h6v4h-6zM236 79h3v4h-3zM559 79h3v4h-3zM579 79h10v4h-10zM96 83h4v3h-4zM164 83h4v3h-4zM181 83h4v3h-4zM188 83h3v3h-3zM198 83h4v3h-4zM300 83h4v3h-4zM321 83h3v3h-3zM378 83h7v3h-7zM399 83h3v3h-3zM480 83h4v3h-4zM497 83h4v3h-4zM508 83h3v3h-3zM576 83h3v3h-3zM603 83h3v3h-3zM69 86h3v3h-3zM110 86h3v3h-3zM140 86h4v3h-4zM229 86h3v3h-3zM270 86h3v3h-3zM331 86h3v3h-3zM395 86h4v3h-4zM423 86h3v3h-3zM474 86h3v3h-3zM528 86h3v3h-3zM565 86h4v3h-4zM576 86h3v3h-3zM89 89h4v4h-4zM110 89h7v4h-7zM130 89h7v4h-7zM161 89h3v4h-3zM195 89h7v4h-7zM263 89h3v4h-3zM348 89h3v4h-3zM440 89h3v4h-3zM470 89h4v4h-4zM484 89h3v4h-3zM514 89h4v4h-4zM548 89h11v4h-11zM603 89h3v4h-3zM76 93h3v3h-3zM86 93h3v3h-3zM127 93h3v3h-3zM134 93h3v3h-3zM188 93h3v3h-3zM208 93h4v3h-4zM242 93h4v3h-4zM266 93h4v3h-4zM327 93h4v3h-4zM368 93h4v3h-4zM385 93h4v3h-4zM514 93h4v3h-4zM525 93h3v3h-3zM562 93h3v3h-3zM582 93h4v3h-4zM610 93h1v3h-1zM83 96h3v4h-3zM113 96h4v4h-4zM120 96h3v4h-3zM127 96h3v4h-3zM161 96h3v4h-3zM225 96h14v4h-14zM259 96h4v4h-4zM266 96h7v4h-7zM317 96h4v4h-4zM334 96h4v4h-4zM361 96h4v4h-4zM375 96h3v4h-3zM382 96h3v4h-3zM392 96h3v4h-3zM453 96h4v4h-4zM460 96h3v4h-3zM491 96h3v4h-3zM511 96h3v4h-3zM518 96h3v4h-3zM562 96h3v4h-3zM89 100h4v3h-4zM113 100h4v3h-4zM161 100h7v3h-7zM191 100h4v3h-4zM232 100h4v3h-4zM263 100h3v3h-3zM283 100h4v3h-4zM293 100h4v3h-4zM314 100h3v3h-3zM334 100h4v3h-4zM344 100h4v3h-4zM375 100h3v3h-3zM436 100h4v3h-4zM487 100h4v3h-4zM538 100h4v3h-4zM552 100h3v3h-3zM576 100h3v3h-3zM603 100h3v3h-3zM610 100h1v3h-1zM69 103h3v3h-3zM103 103h3v3h-3zM113 103h4v3h-4zM120 103h3v3h-3zM147 103h4v3h-4zM154 103h3v3h-3zM195 103h3v3h-3zM246 103h3v3h-3zM341 103h3v3h-3zM385 103h4v3h-4zM433 103h3v3h-3zM467 103h3v3h-3zM497 103h4v3h-4zM576 103h3v3h-3zM69 106h3v4h-3zM106 106h7v4h-7zM130 106h4v4h-4zM144 106h7v4h-7zM185 106h3v4h-3zM202 106h3v4h-3zM229 106h3v4h-3zM327 106h4v4h-4zM338 106h3v4h-3zM348 106h3v4h-3zM460 106h3v4h-3zM491 106h3v4h-3zM518 106h3v4h-3zM538 106h4v4h-4zM569 106h3v4h-3zM593 106h3v4h-3zM599 106h4v4h-4zM83 110h3v3h-3zM89 110h4v3h-4zM151 110h3v3h-3zM205 110h3v3h-3zM273 110h3v3h-3zM280 110h3v3h-3zM358 110h3v3h-3zM375 110h3v3h-3zM399 110h3v3h-3zM416 110h3v3h-3zM460 110h3v3h-3zM467 110h3v3h-3zM552 110h3v3h-3zM576 110h3v3h-3zM130 113h4v4h-4zM208 113h4v4h-4zM222 113h3v4h-3zM249 113h4v4h-4zM259 113h7v4h-7zM276 113h4v4h-4zM334 113h4v4h-4zM361 113h4v4h-4zM382 113h7v4h-7zM501 113h3v4h-3zM531 113h4v4h-4zM562 113h3v4h-3zM569 113h3v4h-3zM86 117h3v3h-3zM110 117h7v3h-7zM130 117h4v3h-4zM147 117h4v3h-4zM174 117h4v3h-4zM185 117h3v3h-3zM202 117h3v3h-3zM215 117h4v3h-4zM236 117h3v3h-3zM263 117h3v3h-3zM327 117h4v3h-4zM344 117h4v3h-4zM372 117h3v3h-3zM491 117h3v3h-3zM514 117h4v3h-4zM552 117h3v3h-3zM79 120h4v3h-4zM89 120h4v3h-4zM123 120h4v3h-4zM171 120h3v3h-3zM239 120h3v3h-3zM280 120h3v3h-3zM310 120h7v3h-7zM375 120h3v3h-3zM402 120h4v3h-4zM450 120h3v3h-3zM467 120h3v3h-3zM474 120h3v3h-3zM487 120h4v3h-4zM521 120h4v3h-4zM538 120h4v3h-4zM559 120h3v3h-3zM565 120h4v3h-4zM589 120h4v3h-4zM610 120h1v3h-1zM86 123h3v4h-3zM106 123h4v4h-4zM123 123h4v4h-4zM178 123h3v4h-3zM225 123h4v4h-4zM239 123h3v4h-3zM249 123h4v4h-4zM307 123h3v4h-3zM348 123h3v4h-3zM365 123h3v4h-3zM423 123h6v4h-6zM443 123h3v4h-3zM538 123h4v4h-4zM603 123h3v4h-3zM110 127h3v3h-3zM123 127h4v3h-4zM144 127h3v3h-3zM154 127h3v3h-3zM239 127h3v3h-3zM344 127h7v3h-7zM399 127h3v3h-3zM548 127h4v3h-4zM589 127h4v3h-4zM157 130h4v4h-4zM168 130h3v4h-3zM174 130h4v4h-4zM205 130h3v4h-3zM212 130h3v4h-3zM239 130h3v4h-3zM249 130h4v4h-4zM331 130h3v4h-3zM355 130h10v4h-10zM378 130h4v4h-4zM429 130h4v4h-4zM453 130h4v4h-4zM497 130h4v4h-4zM96 134h4v3h-4zM161 134h7v3h-7zM195 134h3v3h-3zM249 134h4v3h-4zM263 134h3v3h-3zM293 134h7v3h-7zM324 134h7v3h-7zM358 134h3v3h-3zM365 134h3v3h-3zM375 134h3v3h-3zM436 134h4v3h-4zM480 134h4v3h-4zM562 134h3v3h-3zM579 134h3v3h-3zM117 137h3v3h-3zM198 137h7v3h-7zM208 137h4v3h-4zM225 137h4v3h-4zM280 137h3v3h-3zM290 137h7v3h-7zM395 137h4v3h-4zM406 137h3v3h-3zM453 137h4v3h-4zM487 137h7v3h-7zM579 137h3v3h-3zM589 137h4v3h-4zM86 140h3v4h-3zM96 140h4v4h-4zM117 140h3v4h-3zM171 140h3v4h-3zM181 140h4v4h-4zM219 140h3v4h-3zM232 140h4v4h-4zM338 140h3v4h-3zM351 140h4v4h-4zM365 140h3v4h-3zM409 140h3v4h-3zM470 140h7v4h-7zM497 140h4v4h-4zM545 140h3v4h-3zM582 140h7v4h-7zM603 140h3v4h-3zM69 144h3v3h-3zM137 144h3v3h-3zM144 144h3v3h-3zM151 144h3v3h-3zM178 144h10v3h-10zM232 144h4v3h-4zM239 144h3v3h-3zM287 144h3v3h-3zM314 144h3v3h-3zM355 144h3v3h-3zM361 144h4v3h-4zM406 144h3v3h-3zM443 144h3v3h-3zM457 144h3v3h-3zM484 144h3v3h-3zM491 144h3v3h-3zM521 144h4v3h-4zM603 144h3v3h-3zM106 147h4v4h-4zM154 147h3v4h-3zM164 147h4v4h-4zM174 147h4v4h-4zM212 147h3v4h-3zM317 147h4v4h-4zM341 147h3v4h-3zM416 147h3v4h-3zM480 147h4v4h-4zM542 147h3v4h-3zM572 147h4v4h-4zM86 151h3v3h-3zM236 151h3v3h-3zM270 151h3v3h-3zM276 151h4v3h-4zM358 151h3v3h-3zM399 151h3v3h-3zM436 151h4v3h-4zM470 151h4v3h-4zM487 151h4v3h-4zM589 151h4v3h-4zM69 154h7v3h-7zM106 154h4v3h-4zM120 154h7v3h-7zM181 154h4v3h-4zM229 154h7v3h-7zM239 154h3v3h-3zM270 154h3v3h-3zM287 154h3v3h-3zM293 154h4v3h-4zM307 154h3v3h-3zM436 154h4v3h-4zM487 154h4v3h-4zM521 154h4v3h-4zM562 154h7v3h-7zM110 157h3v4h-3zM137 157h3v4h-3zM215 157h4v4h-4zM246 157h3v4h-3zM263 157h3v4h-3zM317 157h4v4h-4zM331 157h3v4h-3zM372 157h3v4h-3zM385 157h4v4h-4zM392 157h3v4h-3zM412 157h4v4h-4zM423 157h3v4h-3zM463 157h4v4h-4zM470 157h4v4h-4zM484 157h3v4h-3zM596 157h3v4h-3zM72 161h4v3h-4zM283 161h4v3h-4zM416 161h7v3h-7zM518 161h3v3h-3zM569 161h3v3h-3zM582 161h4v3h-4zM69 164h3v4h-3zM100 164h3v4h-3zM123 164h4v4h-4zM178 164h3v4h-3zM195 164h3v4h-3zM205 164h3v4h-3zM290 164h3v4h-3zM317 164h4v4h-4zM334 164h7v4h-7zM351 164h4v4h-4zM378 164h4v4h-4zM389 164h3v4h-3zM426 164h3v4h-3zM457 164h3v4h-3zM487 164h4v4h-4zM525 164h3v4h-3zM76 168h3v3h-3zM157 168h4v3h-4zM164 168h4v3h-4zM181 168h7v3h-7zM195 168h3v3h-3zM225 168h7v3h-7zM259 168h4v3h-4zM266 168h4v3h-4zM293 168h4v3h-4zM402 168h4v3h-4zM419 168h7v3h-7zM457 168h3v3h-3zM69 171h3v3h-3zM110 171h3v3h-3zM117 171h3v3h-3zM123 171h4v3h-4zM161 171h3v3h-3zM171 171h3v3h-3zM212 171h3v3h-3zM229 171h7v3h-7zM321 171h3v3h-3zM351 171h4v3h-4zM382 171h3v3h-3zM606 171h5v3h-5zM72 174h4v4h-4zM147 174h4v4h-4zM171 174h3v4h-3zM246 174h7v4h-7zM270 174h3v4h-3zM283 174h4v4h-4zM300 174h4v4h-4zM321 174h6v4h-6zM378 174h4v4h-4zM392 174h3v4h-3zM446 174h4v4h-4zM579 174h3v4h-3zM120 178h3v3h-3zM151 178h3v3h-3zM191 178h4v3h-4zM293 178h4v3h-4zM375 178h7v3h-7zM429 178h4v3h-4zM443 178h3v3h-3zM531 178h4v3h-4zM576 178h3v3h-3zM603 178h3v3h-3zM610 178h1v3h-1zM76 181h3v4h-3zM89 181h7v4h-7zM130 181h4v4h-4zM137 181h3v4h-3zM147 181h7v4h-7zM178 181h3v4h-3zM208 181h4v4h-4zM293 181h4v4h-4zM304 181h6v4h-6zM327 181h4v4h-4zM338 181h3v4h-3zM351 181h4v4h-4zM365 181h3v4h-3zM402 181h4v4h-4zM412 181h4v4h-4zM423 181h3v4h-3zM463 181h4v4h-4zM491 181h3v4h-3zM582 181h4v4h-4zM589 181h4v4h-4zM596 181h3v4h-3zM69 185h3v3h-3zM76 185h3v3h-3zM120 185h3v3h-3zM212 185h3v3h-3zM225 185h4v3h-4zM239 185h3v3h-3zM348 185h3v3h-3zM375 185h3v3h-3zM406 185h3v3h-3zM525 185h3v3h-3zM562 185h3v3h-3zM599 185h4v3h-4zM72 188h4v3h-4zM100 188h3v3h-3zM117 188h6v3h-6zM168 188h3v3h-3zM208 188h4v3h-4zM215 188h4v3h-4zM225 188h4v3h-4zM256 188h7v3h-7zM276 188h4v3h-4zM310 188h4v3h-4zM361 188h4v3h-4zM423 188h3v3h-3zM484 188h3v3h-3zM497 188h4v3h-4zM572 188h4v3h-4zM72 191h4v4h-4zM89 191h4v4h-4zM181 191h4v4h-4zM219 191h3v4h-3zM232 191h4v4h-4zM287 191h3v4h-3zM293 191h4v4h-4zM310 191h7v4h-7zM331 191h3v4h-3zM368 191h4v4h-4zM508 191h3v4h-3zM514 191h4v4h-4zM531 191h7v4h-7zM579 191h3v4h-3zM147 195h4v3h-4zM161 195h3v3h-3zM171 195h3v3h-3zM185 195h3v3h-3zM239 195h3v3h-3zM365 195h3v3h-3zM372 195h3v3h-3zM399 195h3v3h-3zM416 195h3v3h-3zM433 195h3v3h-3zM460 195h3v3h-3zM83 198h3v4h-3zM89 198h4v4h-4zM123 198h4v4h-4zM134 198h3v4h-3zM144 198h3v4h-3zM154 198h3v4h-3zM164 198h4v4h-4zM181 198h4v4h-4zM198 198h4v4h-4zM253 198h3v4h-3zM361 198h4v4h-4zM368 198h4v4h-4zM399 198h3v4h-3zM412 198h4v4h-4zM429 198h4v4h-4zM436 198h7v4h-7zM491 198h3v4h-3zM511 198h3v4h-3zM531 198h4v4h-4zM545 198h3v4h-3zM144 202h3v3h-3zM151 202h3v3h-3zM171 202h3v3h-3zM185 202h3v3h-3zM215 202h4v3h-4zM287 202h3v3h-3zM293 202h4v3h-4zM338 202h6v3h-6zM348 202h3v3h-3zM412 202h4v3h-4zM426 202h3v3h-3zM450 202h3v3h-3zM494 202h3v3h-3zM599 202h4v3h-4zM83 205h3v3h-3zM100 205h6v3h-6zM144 205h7v3h-7zM178 205h3v3h-3zM191 205h4v3h-4zM229 205h3v3h-3zM263 205h3v3h-3zM280 205h3v3h-3zM290 205h7v3h-7zM334 205h4v3h-4zM409 205h3v3h-3zM562 205h3v3h-3zM103 208h3v4h-3zM113 208h4v4h-4zM171 208h3v4h-3zM202 208h6v4h-6zM219 208h3v4h-3zM232 208h4v4h-4zM249 208h4v4h-4zM256 208h3v4h-3zM270 208h3v4h-3zM283 208h4v4h-4zM290 208h3v4h-3zM297 208h3v4h-3zM392 208h3v4h-3zM426 208h3v4h-3zM436 208h4v4h-4zM487 208h4v4h-4zM586 208h3v4h-3zM93 212h3v3h-3zM100 212h3v3h-3zM120 212h3v3h-3zM134 212h3v3h-3zM202 212h3v3h-3zM225 212h4v3h-4zM232 212h4v3h-4zM242 212h4v3h-4zM266 212h4v3h-4zM385 212h4v3h-4zM416 212h3v3h-3zM460 212h3v3h-3zM525 212h3v3h-3zM83 215h3v4h-3zM93 215h3v4h-3zM117 215h3v4h-3zM222 215h3v4h-3zM249 215h4v4h-4zM368 215h4v4h-4zM378 215h4v4h-4zM389 215h3v4h-3zM426 215h3v4h-3zM450 215h3v4h-3zM535 215h3v4h-3zM144 219h3v3h-3zM212 219h3v3h-3zM219 219h3v3h-3zM324 219h3v3h-3zM334 219h4v3h-4zM351 219h4v3h-4zM511 219h3v3h-3zM562 219h3v3h-3zM140 222h4v3h-4zM161 222h3v3h-3zM168 222h3v3h-3zM205 222h3v3h-3zM300 222h4v3h-4zM327 222h4v3h-4zM368 222h7v3h-7zM389 222h3v3h-3zM514 222h4v3h-4zM552 222h3v3h-3zM603 222h3v3h-3zM86 225h3v4h-3zM185 225h3v4h-3zM191 225h4v4h-4zM208 225h4v4h-4zM324 225h3v4h-3zM338 225h10v4h-10zM368 225h4v4h-4zM440 225h3v4h-3zM453 225h4v4h-4zM463 225h4v4h-4zM72 229h4v3h-4zM86 229h3v3h-3zM100 229h3v3h-3zM113 229h4v3h-4zM164 229h4v3h-4zM215 229h4v3h-4zM222 229h3v3h-3zM297 229h3v3h-3zM304 229h6v3h-6zM314 229h3v3h-3zM440 229h3v3h-3zM480 229h4v3h-4zM113 232h4v4h-4zM137 232h3v4h-3zM151 232h3v4h-3zM168 232h3v4h-3zM229 232h3v4h-3zM236 232h3v4h-3zM246 232h3v4h-3zM253 232h3v4h-3zM283 232h4v4h-4zM307 232h7v4h-7zM327 232h4v4h-4zM375 232h7v4h-7zM419 232h4v4h-4zM467 232h3v4h-3zM552 232h3v4h-3zM69 236h3v3h-3zM188 236h3v3h-3zM202 236h3v3h-3zM215 236h4v3h-4zM276 236h4v3h-4zM355 236h3v3h-3zM372 236h3v3h-3zM385 236h4v3h-4zM409 236h7v3h-7zM450 236h3v3h-3zM470 236h4v3h-4zM508 236h3v3h-3zM518 236h3v3h-3zM100 239h3v3h-3zM106 239h4v3h-4zM185 239h3v3h-3zM208 239h4v3h-4zM225 239h4v3h-4zM276 239h4v3h-4zM324 239h3v3h-3zM378 239h4v3h-4zM399 239h3v3h-3zM412 239h4v3h-4zM572 239h4v3h-4zM582 239h4v3h-4zM589 239h4v3h-4zM69 242h3v4h-3zM89 242h4v4h-4zM100 242h3v4h-3zM117 242h3v4h-3zM127 242h3v4h-3zM171 242h3v4h-3zM202 242h3v4h-3zM232 242h4v4h-4zM242 242h4v4h-4zM273 242h7v4h-7zM283 242h4v4h-4zM310 242h7v4h-7zM382 242h3v4h-3zM395 242h4v4h-4zM409 242h3v4h-3zM443 242h3v4h-3zM606 242h4v4h-4zM96 246h4v3h-4zM134 246h3v3h-3zM208 246h4v3h-4zM225 246h4v3h-4zM246 246h3v3h-3zM270 246h3v3h-3zM297 246h3v3h-3zM310 246h7v3h-7zM331 246h3v3h-3zM338 246h3v3h-3zM368 246h4v3h-4zM429 246h4v3h-4zM436 246h4v3h-4zM528 246h3v3h-3zM100 249h3v4h-3zM120 249h7v4h-7zM191 249h4v4h-4zM222 249h3v4h-3zM253 249h3v4h-3zM270 249h6v4h-6zM321 249h3v4h-3zM331 249h3v4h-3zM399 249h3v4h-3zM440 249h3v4h-3zM463 249h7v4h-7zM491 249h3v4h-3zM504 249h4v4h-4zM596 249h3v4h-3zM127 253h3v3h-3zM164 253h4v3h-4zM171 253h3v3h-3zM181 253h4v3h-4zM219 253h3v3h-3zM236 253h3v3h-3zM273 253h7v3h-7zM300 253h4v3h-4zM327 253h4v3h-4zM348 253h3v3h-3zM365 253h3v3h-3zM426 253h3v3h-3zM460 253h3v3h-3zM514 253h4v3h-4zM599 253h4v3h-4zM103 256h7v3h-7zM134 256h3v3h-3zM157 256h4v3h-4zM178 256h3v3h-3zM188 256h3v3h-3zM232 256h4v3h-4zM280 256h3v3h-3zM300 256h4v3h-4zM314 256h3v3h-3zM334 256h4v3h-4zM341 256h3v3h-3zM406 256h3v3h-3zM491 256h3v3h-3zM531 256h4v3h-4zM579 256h3v3h-3zM113 259h4v4h-4zM164 259h4v4h-4zM198 259h4v4h-4zM222 259h3v4h-3zM334 259h4v4h-4zM351 259h7v4h-7zM378 259h4v4h-4zM416 259h3v4h-3zM484 259h3v4h-3zM528 259h3v4h-3zM593 259h3v4h-3zM599 259h7v4h-7zM69 263h3v3h-3zM83 263h3v3h-3zM100 263h3v3h-3zM106 263h4v3h-4zM113 263h4v3h-4zM168 263h3v3h-3zM212 263h3v3h-3zM236 263h3v3h-3zM273 263h7v3h-7zM344 263h4v3h-4zM365 263h3v3h-3zM399 263h3v3h-3zM457 263h3v3h-3zM477 263h3v3h-3zM497 263h4v3h-4zM528 263h3v3h-3zM69 266h3v4h-3zM76 266h3v4h-3zM93 266h3v4h-3zM293 266h4v4h-4zM317 266h4v4h-4zM368 266h4v4h-4zM375 266h10v4h-10zM402 266h4v4h-4zM429 266h4v4h-4zM443 266h3v4h-3zM484 266h3v4h-3zM565 266h4v4h-4zM579 266h3v4h-3zM589 266h4v4h-4zM69 270h7v3h-7zM89 270h11v3h-11zM110 270h3v3h-3zM130 270h4v3h-4zM147 270h4v3h-4zM185 270h3v3h-3zM229 270h3v3h-3zM297 270h3v3h-3zM304 270h3v3h-3zM338 270h3v3h-3zM351 270h4v3h-4zM372 270h3v3h-3zM378 270h4v3h-4zM440 270h3v3h-3zM518 270h3v3h-3zM559 270h6v3h-6zM113 273h4v3h-4zM123 273h4v3h-4zM164 273h4v3h-4zM229 273h3v3h-3zM259 273h4v3h-4zM321 273h3v3h-3zM331 273h3v3h-3zM348 273h3v3h-3zM494 273h3v3h-3zM525 273h3v3h-3zM589 273h4v3h-4zM79 276h4v4h-4zM89 276h4v4h-4zM185 276h3v4h-3zM195 276h3v4h-3zM293 276h4v4h-4zM355 276h6v4h-6zM382 276h3v4h-3zM440 276h3v4h-3zM446 276h7v4h-7zM569 276h3v4h-3zM117 280h3v3h-3zM123 280h4v3h-4zM185 280h3v3h-3zM191 280h7v3h-7zM253 280h3v3h-3zM280 280h3v3h-3zM304 280h3v3h-3zM324 280h3v3h-3zM446 280h4v3h-4zM477 280h3v3h-3zM508 280h3v3h-3zM542 280h3v3h-3zM559 280h3v3h-3zM86 283h3v4h-3zM123 283h4v4h-4zM171 283h3v4h-3zM195 283h3v4h-3zM222 283h3v4h-3zM283 283h4v4h-4zM327 283h4v4h-4zM378 283h7v4h-7zM389 283h3v4h-3zM409 283h3v4h-3zM443 283h3v4h-3zM463 283h4v4h-4zM497 283h4v4h-4zM582 283h4v4h-4zM610 283h1v4h-1zM69 287h3v3h-3zM96 287h4v3h-4zM110 287h3v3h-3zM117 287h3v3h-3zM123 287h4v3h-4zM151 287h10v3h-10zM205 287h3v3h-3zM239 287h3v3h-3zM246 287h3v3h-3zM290 287h3v3h-3zM382 287h3v3h-3zM399 287h3v3h-3zM409 287h3v3h-3zM467 287h3v3h-3zM484 287h3v3h-3zM501 287h3v3h-3zM555 287h4v3h-4zM579 287h3v3h-3zM603 287h3v3h-3zM144 290h3v3h-3zM151 290h3v3h-3zM178 290h3v3h-3zM195 290h3v3h-3zM259 290h4v3h-4zM276 290h4v3h-4zM385 290h4v3h-4zM440 290h3v3h-3zM453 290h4v3h-4zM572 290h4v3h-4zM69 293h3v4h-3zM79 293h4v4h-4zM103 293h3v4h-3zM113 293h4v4h-4zM130 293h4v4h-4zM144 293h3v4h-3zM161 293h7v4h-7zM181 293h4v4h-4zM266 293h4v4h-4zM327 293h4v4h-4zM355 293h3v4h-3zM453 293h4v4h-4zM460 293h3v4h-3zM477 293h3v4h-3zM508 293h3v4h-3zM538 293h4v4h-4zM545 293h3v4h-3zM562 293h3v4h-3zM96 297h4v3h-4zM106 297h4v3h-4zM140 297h4v3h-4zM171 297h3v3h-3zM205 297h3v3h-3zM249 297h7v3h-7zM273 297h3v3h-3zM535 297h3v3h-3zM572 297h4v3h-4zM586 297h3v3h-3zM89 300h4v4h-4zM103 300h3v4h-3zM110 300h3v4h-3zM168 300h3v4h-3zM191 300h4v4h-4zM198 300h4v4h-4zM280 300h3v4h-3zM297 300h3v4h-3zM334 300h4v4h-4zM426 300h3v4h-3zM436 300h4v4h-4zM572 300h4v4h-4zM96 304h4v3h-4zM110 304h7v3h-7zM239 304h7v3h-7zM256 304h3v3h-3zM283 304h4v3h-4zM351 304h4v3h-4zM395 304h4v3h-4zM412 304h4v3h-4zM426 304h3v3h-3zM443 304h3v3h-3zM525 304h3v3h-3zM552 304h3v3h-3zM565 304h4v3h-4zM76 307h3v3h-3zM89 307h4v3h-4zM103 307h3v3h-3zM140 307h7v3h-7zM154 307h3v3h-3zM205 307h3v3h-3zM219 307h3v3h-3zM225 307h4v3h-4zM290 307h3v3h-3zM409 307h3v3h-3zM453 307h4v3h-4zM463 307h4v3h-4zM72 310h7v4h-7zM83 310h3v4h-3zM134 310h3v4h-3zM174 310h4v4h-4zM188 310h3v4h-3zM327 310h4v4h-4zM382 310h3v4h-3zM429 310h4v4h-4zM460 310h3v4h-3zM494 310h3v4h-3zM525 310h3v4h-3zM103 314h3v3h-3zM195 314h3v3h-3zM205 314h3v3h-3zM246 314h3v3h-3zM259 314h4v3h-4zM270 314h3v3h-3zM378 314h4v3h-4zM395 314h4v3h-4zM402 314h4v3h-4zM429 314h4v3h-4zM443 314h3v3h-3zM460 314h3v3h-3zM477 314h3v3h-3zM525 314h3v3h-3zM538 314h4v3h-4zM562 314h3v3h-3zM589 314h4v3h-4zM610 314h1v3h-1zM106 317h4v4h-4zM174 317h4v4h-4zM181 317h4v4h-4zM198 317h4v4h-4zM276 317h4v4h-4zM283 317h4v4h-4zM314 317h10v4h-10zM327 317h4v4h-4zM338 317h3v4h-3zM368 317h4v4h-4zM412 317h4v4h-4zM426 317h3v4h-3zM433 317h3v4h-3zM491 317h3v4h-3zM606 317h4v4h-4zM83 321h10v3h-10zM130 321h4v3h-4zM147 321h4v3h-4zM161 321h3v3h-3zM225 321h4v3h-4zM232 321h4v3h-4zM259 321h4v3h-4zM290 321h3v3h-3zM338 321h3v3h-3zM358 321h3v3h-3zM365 321h3v3h-3zM385 321h4v3h-4zM484 321h3v3h-3zM610 321h1v3h-1zM72 324h7v3h-7zM100 324h3v3h-3zM202 324h3v3h-3zM236 324h3v3h-3zM273 324h3v3h-3zM287 324h3v3h-3zM297 324h3v3h-3zM331 324h3v3h-3zM406 324h3v3h-3zM416 324h3v3h-3zM484 324h3v3h-3zM494 324h3v3h-3zM514 324h4v3h-4zM569 324h3v3h-3zM579 324h3v3h-3zM69 327h3v4h-3zM103 327h3v4h-3zM130 327h4v4h-4zM147 327h4v4h-4zM154 327h3v4h-3zM215 327h4v4h-4zM232 327h4v4h-4zM259 327h4v4h-4zM270 327h3v4h-3zM382 327h7v4h-7zM433 327h3v4h-3zM525 327h3v4h-3zM582 327h4v4h-4zM606 327h4v4h-4zM113 331h7v3h-7zM127 331h3v3h-3zM222 331h3v3h-3zM273 331h3v3h-3zM341 331h3v3h-3zM361 331h4v3h-4zM368 331h4v3h-4zM392 331h3v3h-3zM406 331h3v3h-3zM450 331h3v3h-3zM470 331h4v3h-4zM491 331h10v3h-10zM548 331h4v3h-4zM599 331h4v3h-4zM106 334h4v4h-4zM147 334h4v4h-4zM174 334h4v4h-4zM195 334h3v4h-3zM273 334h3v4h-3zM307 334h3v4h-3zM314 334h3v4h-3zM324 334h3v4h-3zM392 334h3v4h-3zM423 334h3v4h-3zM535 334h3v4h-3zM569 334h3v4h-3zM582 334h4v4h-4zM596 334h3v4h-3zM140 338h4v3h-4zM168 338h3v3h-3zM174 338h4v3h-4zM188 338h3v3h-3zM222 338h3v3h-3zM232 338h4v3h-4zM242 338h4v3h-4zM253 338h3v3h-3zM395 338h4v3h-4zM477 338h3v3h-3zM487 338h4v3h-4zM497 338h4v3h-4zM542 338h3v3h-3zM572 338h4v3h-4zM157 341h4v3h-4zM174 341h4v3h-4zM202 341h3v3h-3zM225 341h4v3h-4zM239 341h3v3h-3zM290 341h3v3h-3zM300 341h4v3h-4zM344 341h4v3h-4zM474 341h3v3h-3zM494 341h3v3h-3zM531 341h4v3h-4zM599 341h4v3h-4zM93 344h3v4h-3zM117 344h3v4h-3zM195 344h3v4h-3zM212 344h3v4h-3zM283 344h4v4h-4zM317 344h4v4h-4zM324 344h3v4h-3zM331 344h3v4h-3zM351 344h4v4h-4zM361 344h4v4h-4zM378 344h4v4h-4zM385 344h4v4h-4zM521 344h4v4h-4zM538 344h7v4h-7zM103 348h3v3h-3zM113 348h4v3h-4zM120 348h3v3h-3zM134 348h3v3h-3zM144 348h3v3h-3zM178 348h3v3h-3zM185 348h3v3h-3zM195 348h7v3h-7zM266 348h4v3h-4zM273 348h3v3h-3zM341 348h3v3h-3zM378 348h4v3h-4zM406 348h3v3h-3zM457 348h3v3h-3zM477 348h3v3h-3zM504 348h4v3h-4zM76 351h3v4h-3zM93 351h3v4h-3zM117 351h3v4h-3zM140 351h4v4h-4zM212 351h3v4h-3zM297 351h3v4h-3zM307 351h3v4h-3zM402 351h4v4h-4zM409 351h3v4h-3zM426 351h3v4h-3zM494 351h3v4h-3zM559 351h3v4h-3zM596 351h3v4h-3zM103 355h3v3h-3zM147 355h4v3h-4zM161 355h3v3h-3zM229 355h3v3h-3zM249 355h4v3h-4zM280 355h3v3h-3zM334 355h4v3h-4zM341 355h3v3h-3zM355 355h3v3h-3zM372 355h3v3h-3zM402 355h7v3h-7zM429 355h4v3h-4zM453 355h4v3h-4zM511 355h3v3h-3zM535 355h3v3h-3zM586 355h3v3h-3zM593 355h3v3h-3zM606 355h4v3h-4zM93 358h3v3h-3zM103 358h7v3h-7zM123 358h4v3h-4zM140 358h4v3h-4zM164 358h4v3h-4zM212 358h3v3h-3zM219 358h3v3h-3zM229 358h3v3h-3zM266 358h4v3h-4zM324 358h3v3h-3zM368 358h4v3h-4zM375 358h3v3h-3zM399 358h3v3h-3zM501 358h3v3h-3zM525 358h3v3h-3zM531 358h4v3h-4zM542 358h3v3h-3zM576 358h3v3h-3zM582 358h4v3h-4zM79 361h4v4h-4zM134 361h3v4h-3zM174 361h4v4h-4zM191 361h4v4h-4zM198 361h4v4h-4zM225 361h4v4h-4zM242 361h4v4h-4zM293 361h4v4h-4zM338 361h3v4h-3zM501 361h3v4h-3zM508 361h3v4h-3zM542 361h3v4h-3zM576 361h3v4h-3zM89 365h4v3h-4zM110 365h3v3h-3zM147 365h4v3h-4zM263 365h3v3h-3zM290 365h3v3h-3zM314 365h3v3h-3zM358 365h7v3h-7zM453 365h4v3h-4zM72 368h7v4h-7zM89 368h7v4h-7zM106 368h4v4h-4zM157 368h4v4h-4zM219 368h3v4h-3zM242 368h4v4h-4zM253 368h6v4h-6zM266 368h4v4h-4zM344 368h7v4h-7zM409 368h3v4h-3zM443 368h3v4h-3zM453 368h4v4h-4zM494 368h3v4h-3zM100 372h3v3h-3zM120 372h3v3h-3zM164 372h4v3h-4zM191 372h4v3h-4zM276 372h4v3h-4zM297 372h3v3h-3zM304 372h6v3h-6zM321 372h3v3h-3zM334 372h4v3h-4zM361 372h7v3h-7zM392 372h3v3h-3zM412 372h4v3h-4zM450 372h3v3h-3zM525 372h3v3h-3zM548 372h11v3h-11zM171 375h3v3h-3zM181 375h4v3h-4zM195 375h3v3h-3zM222 375h7v3h-7zM236 375h3v3h-3zM276 375h4v3h-4zM402 375h4v3h-4zM480 375h4v3h-4zM76 378h3v4h-3zM151 378h3v4h-3zM161 378h3v4h-3zM208 378h4v4h-4zM225 378h4v4h-4zM256 378h3v4h-3zM497 378h4v4h-4zM531 378h4v4h-4zM599 378h4v4h-4zM606 378h4v4h-4zM100 382h3v3h-3zM140 382h4v3h-4zM147 382h4v3h-4zM300 382h4v3h-4zM409 382h3v3h-3zM443 382h3v3h-3zM467 382h3v3h-3zM477 382h3v3h-3zM497 382h4v3h-4zM69 385h3v4h-3zM100 385h3v4h-3zM123 385h4v4h-4zM130 385h4v4h-4zM212 385h3v4h-3zM324 385h3v4h-3zM341 385h3v4h-3zM365 385h3v4h-3zM382 385h3v4h-3zM399 385h3v4h-3zM419 385h4v4h-4zM426 385h3v4h-3zM83 389h3v3h-3zM134 389h3v3h-3zM154 389h3v3h-3zM263 389h3v3h-3zM287 389h3v3h-3zM358 389h3v3h-3zM368 389h4v3h-4zM504 389h4v3h-4zM555 389h4v3h-4zM572 389h4v3h-4zM586 389h3v3h-3zM593 389h3v3h-3zM69 392h3v3h-3zM113 392h4v3h-4zM144 392h3v3h-3zM202 392h3v3h-3zM212 392h3v3h-3zM219 392h3v3h-3zM242 392h4v3h-4zM266 392h4v3h-4zM280 392h3v3h-3zM361 392h4v3h-4zM378 392h4v3h-4zM440 392h3v3h-3zM474 392h3v3h-3zM511 392h3v3h-3zM127 395h3v4h-3zM181 395h4v4h-4zM219 395h3v4h-3zM239 395h3v4h-3zM287 395h3v4h-3zM341 395h3v4h-3zM402 395h7v4h-7zM446 395h4v4h-4zM494 395h3v4h-3zM504 395h4v4h-4zM521 395h4v4h-4zM569 395h3v4h-3zM76 399h3v3h-3zM89 399h4v3h-4zM229 399h3v3h-3zM242 399h7v3h-7zM300 399h7v3h-7zM310 399h4v3h-4zM321 399h3v3h-3zM327 399h4v3h-4zM341 399h3v3h-3zM423 399h3v3h-3zM440 399h3v3h-3zM559 399h3v3h-3zM151 402h3v4h-3zM171 402h3v4h-3zM195 402h7v4h-7zM208 402h4v4h-4zM219 402h3v4h-3zM249 402h4v4h-4zM310 402h4v4h-4zM338 402h3v4h-3zM361 402h4v4h-4zM412 402h4v4h-4zM440 402h3v4h-3zM477 402h3v4h-3zM491 402h3v4h-3zM528 402h3v4h-3zM542 402h3v4h-3zM565 402h4v4h-4zM171 406h3v3h-3zM178 406h3v3h-3zM185 406h3v3h-3zM259 406h7v3h-7zM297 406h3v3h-3zM331 406h3v3h-3zM361 406h4v3h-4zM392 406h3v3h-3zM423 406h3v3h-3zM453 406h4v3h-4zM576 406h3v3h-3zM606 406h4v3h-4zM69 409h3v3h-3zM123 409h4v3h-4zM144 409h3v3h-3zM174 409h4v3h-4zM195 409h3v3h-3zM266 409h4v3h-4zM334 409h4v3h-4zM399 409h3v3h-3zM416 409h3v3h-3zM521 409h4v3h-4zM528 409h3v3h-3zM538 409h4v3h-4zM559 409h3v3h-3zM579 409h3v3h-3zM79 412h4v4h-4zM89 412h4v4h-4zM106 412h4v4h-4zM134 412h3v4h-3zM202 412h3v4h-3zM222 412h7v4h-7zM287 412h3v4h-3zM460 412h3v4h-3zM559 412h3v4h-3zM589 412h4v4h-4zM219 416h3v3h-3zM229 416h3v3h-3zM348 416h3v3h-3zM426 416h7v3h-7zM446 416h4v3h-4zM589 416h4v3h-4zM96 419h4v4h-4zM106 419h4v4h-4zM113 419h4v4h-4zM127 419h3v4h-3zM140 419h4v4h-4zM161 419h3v4h-3zM195 419h3v4h-3zM229 419h3v4h-3zM239 419h3v4h-3zM249 419h7v4h-7zM297 419h3v4h-3zM321 419h3v4h-3zM341 419h3v4h-3zM419 419h4v4h-4zM501 419h3v4h-3zM596 419h3v4h-3zM69 423h3v3h-3zM123 423h4v3h-4zM191 423h4v3h-4zM276 423h4v3h-4zM324 423h3v3h-3zM348 423h3v3h-3zM436 423h4v3h-4zM491 423h3v3h-3zM508 423h3v3h-3zM154 426h3v3h-3zM358 426h3v3h-3zM378 426h4v3h-4zM406 426h3v3h-3zM93 429h3v4h-3zM103 429h3v4h-3zM113 429h4v4h-4zM130 429h4v4h-4zM157 429h4v4h-4zM171 429h3v4h-3zM188 429h3v4h-3zM195 429h3v4h-3zM212 429h7v4h-7zM239 429h3v4h-3zM344 429h4v4h-4zM457 429h3v4h-3zM463 429h4v4h-4zM76 433h3v3h-3zM103 433h3v3h-3zM120 433h3v3h-3zM157 433h4v3h-4zM168 433h3v3h-3zM181 433h4v3h-4zM191 433h4v3h-4zM246 433h3v3h-3zM341 433h3v3h-3zM382 433h3v3h-3zM389 433h3v3h-3zM402 433h4v3h-4zM419 433h4v3h-4zM429 433h4v3h-4zM436 433h4v3h-4zM463 433h4v3h-4zM501 433h3v3h-3zM599 433h4v3h-4zM106 436h4v4h-4zM117 436h3v4h-3zM219 436h3v4h-3zM242 436h4v4h-4zM304 436h3v4h-3zM327 436h4v4h-4zM348 436h3v4h-3zM355 436h3v4h-3zM372 436h3v4h-3zM378 436h4v4h-4zM409 436h3v4h-3zM429 436h4v4h-4zM460 436h3v4h-3zM538 436h4v4h-4zM596 436h3v4h-3zM79 440h4v3h-4zM253 440h3v3h-3zM276 440h4v3h-4zM314 440h3v3h-3zM412 440h4v3h-4zM497 440h4v3h-4zM521 440h4v3h-4zM565 440h4v3h-4zM606 440h4v3h-4zM96 443h4v3h-4zM151 443h3v3h-3zM181 443h4v3h-4zM205 443h3v3h-3zM293 443h4v3h-4zM317 443h4v3h-4zM341 443h7v3h-7zM395 443h7v3h-7zM412 443h4v3h-4zM484 443h3v3h-3zM610 443h1v3h-1zM79 446h4v4h-4zM96 446h4v4h-4zM140 446h4v4h-4zM171 446h3v4h-3zM236 446h3v4h-3zM283 446h4v4h-4zM433 446h3v4h-3zM487 446h4v4h-4zM565 446h4v4h-4zM582 446h4v4h-4zM589 446h4v4h-4zM69 450h3v3h-3zM127 450h3v3h-3zM134 450h3v3h-3zM144 450h3v3h-3zM168 450h3v3h-3zM174 450h4v3h-4zM215 450h4v3h-4zM222 450h3v3h-3zM249 450h4v3h-4zM256 450h3v3h-3zM307 450h3v3h-3zM317 450h4v3h-4zM334 450h4v3h-4zM372 450h3v3h-3zM409 450h3v3h-3zM426 450h3v3h-3zM433 450h3v3h-3zM545 450h3v3h-3zM555 450h4v3h-4zM144 453h3v4h-3zM181 453h4v4h-4zM219 453h3v4h-3zM287 453h3v4h-3zM317 453h4v4h-4zM399 453h3v4h-3zM504 453h4v4h-4zM593 453h3v4h-3zM83 457h3v3h-3zM93 457h3v3h-3zM134 457h3v3h-3zM171 457h3v3h-3zM181 457h4v3h-4zM195 457h3v3h-3zM232 457h4v3h-4zM273 457h3v3h-3zM344 457h4v3h-4zM358 457h3v3h-3zM409 457h3v3h-3zM467 457h7v3h-7zM477 457h3v3h-3zM497 457h4v3h-4zM586 457h3v3h-3zM610 457h1v3h-1zM69 460h3v3h-3zM89 460h4v3h-4zM103 460h3v3h-3zM157 460h4v3h-4zM222 460h3v3h-3zM229 460h3v3h-3zM236 460h3v3h-3zM249 460h4v3h-4zM263 460h3v3h-3zM300 460h4v3h-4zM317 460h4v3h-4zM327 460h4v3h-4zM372 460h10v3h-10zM392 460h3v3h-3zM406 460h3v3h-3zM412 460h4v3h-4zM423 460h3v3h-3zM497 460h4v3h-4zM572 460h4v3h-4zM579 460h3v3h-3zM589 460h4v3h-4zM606 460h4v3h-4zM113 463h7v4h-7zM215 463h4v4h-4zM253 463h3v4h-3zM290 463h3v4h-3zM331 463h3v4h-3zM368 463h4v4h-4zM385 463h4v4h-4zM467 463h3v4h-3zM569 463h3v4h-3zM76 467h3v3h-3zM86 467h3v3h-3zM93 467h3v3h-3zM103 467h3v3h-3zM239 467h3v3h-3zM351 467h4v3h-4zM382 467h3v3h-3zM389 467h3v3h-3zM399 467h3v3h-3zM433 467h3v3h-3zM453 467h4v3h-4zM525 467h3v3h-3zM596 467h3v3h-3zM603 467h3v3h-3zM151 470h3v4h-3zM161 470h3v4h-3zM239 470h3v4h-3zM276 470h4v4h-4zM341 470h3v4h-3zM596 470h3v4h-3zM610 470h1v4h-1zM76 474h3v3h-3zM93 474h3v3h-3zM140 474h4v3h-4zM273 474h3v3h-3zM283 474h4v3h-4zM293 474h4v3h-4zM321 474h3v3h-3zM331 474h7v3h-7zM358 474h3v3h-3zM365 474h3v3h-3zM378 474h4v3h-4zM423 474h3v3h-3zM477 474h3v3h-3zM514 474h4v3h-4zM545 474h3v3h-3zM79 477h4v3h-4zM86 477h3v3h-3zM117 477h3v3h-3zM130 477h4v3h-4zM151 477h6v3h-6zM212 477h7v3h-7zM232 477h7v3h-7zM242 477h4v3h-4zM341 477h3v3h-3zM440 477h6v3h-6zM450 477h7v3h-7zM467 477h3v3h-3zM487 477h4v3h-4zM555 477h4v3h-4zM565 477h4v3h-4zM89 480h4v4h-4zM106 480h4v4h-4zM219 480h3v4h-3zM266 480h4v4h-4zM293 480h4v4h-4zM314 480h3v4h-3zM419 480h7v4h-7zM477 480h3v4h-3zM572 480h4v4h-4zM79 484h4v3h-4zM86 484h3v3h-3zM93 484h3v3h-3zM103 484h3v3h-3zM144 484h3v3h-3zM208 484h4v3h-4zM225 484h4v3h-4zM253 484h3v3h-3zM317 484h4v3h-4zM368 484h4v3h-4zM440 484h3v3h-3zM562 484h3v3h-3zM603 484h3v3h-3zM106 487h7v4h-7zM202 487h3v4h-3zM232 487h4v4h-4zM249 487h4v4h-4zM304 487h3v4h-3zM324 487h3v4h-3zM344 487h4v4h-4zM361 487h4v4h-4zM470 487h4v4h-4zM593 487h3v4h-3zM89 491h4v3h-4zM283 491h4v3h-4zM307 491h3v3h-3zM348 491h3v3h-3zM487 491h4v3h-4zM514 491h4v3h-4zM528 491h3v3h-3zM69 494h3v3h-3zM137 494h3v3h-3zM151 494h3v3h-3zM239 494h3v3h-3zM297 494h3v3h-3zM317 494h4v3h-4zM399 494h3v3h-3zM406 494h3v3h-3zM518 494h3v3h-3zM96 497h4v4h-4zM147 497h4v4h-4zM215 497h4v4h-4zM287 497h3v4h-3zM307 497h3v4h-3zM338 497h3v4h-3zM412 497h7v4h-7zM86 501h3v3h-3zM110 501h3v3h-3zM140 501h4v3h-4zM181 501h4v3h-4zM246 501h3v3h-3zM283 501h7v3h-7zM334 501h4v3h-4zM385 501h4v3h-4zM426 501h3v3h-3zM433 501h3v3h-3zM569 501h3v3h-3zM86 504h3v4h-3zM106 504h4v4h-4zM174 504h4v4h-4zM202 504h3v4h-3zM239 504h3v4h-3zM283 504h4v4h-4zM293 504h4v4h-4zM300 504h4v4h-4zM402 504h4v4h-4zM453 504h4v4h-4zM480 504h4v4h-4zM491 504h3v4h-3zM497 504h4v4h-4zM528 504h3v4h-3zM572 504h7v4h-7zM93 508h3v3h-3zM151 508h3v3h-3zM168 508h3v3h-3zM225 508h4v3h-4zM249 508h4v3h-4zM321 508h3v3h-3zM402 508h4v3h-4zM423 508h3v3h-3zM429 508h4v3h-4zM460 508h3v3h-3zM477 508h3v3h-3zM497 508h4v3h-4zM538 508h4v3h-4zM589 508h4v3h-4zM93 511h3v3h-3zM134 511h3v3h-3zM144 511h3v3h-3zM157 511h4v3h-4zM304 511h6v3h-6zM344 511h4v3h-4zM429 511h4v3h-4zM436 511h4v3h-4zM535 511h3v3h-3zM555 511h4v3h-4zM562 511h3v3h-3zM603 511h3v3h-3zM69 514h7v4h-7zM110 514h3v4h-3zM123 514h4v4h-4zM178 514h3v4h-3zM205 514h3v4h-3zM232 514h4v4h-4zM287 514h3v4h-3zM304 514h3v4h-3zM365 514h3v4h-3zM433 514h3v4h-3zM463 514h4v4h-4zM470 514h4v4h-4zM559 514h3v4h-3zM579 514h3v4h-3zM603 514h3v4h-3zM89 518h4v3h-4zM96 518h4v3h-4zM137 518h3v3h-3zM151 518h3v3h-3zM358 518h3v3h-3zM453 518h4v3h-4zM120 521h3v4h-3zM161 521h3v4h-3zM195 521h3v4h-3zM232 521h4v4h-4zM280 521h3v4h-3zM290 521h3v4h-3zM314 521h3v4h-3zM389 521h3v4h-3zM402 521h4v4h-4zM559 521h3v4h-3zM572 521h4v4h-4zM579 521h3v4h-3zM123 525h4v3h-4zM137 525h3v3h-3zM154 525h3v3h-3zM232 525h4v3h-4zM253 525h3v3h-3zM259 525h4v3h-4zM307 525h3v3h-3zM314 525h3v3h-3zM395 525h4v3h-4zM412 525h4v3h-4zM433 525h3v3h-3zM470 525h4v3h-4zM79 528h4v3h-4zM89 528h4v3h-4zM103 528h3v3h-3zM110 528h3v3h-3zM154 528h7v3h-7zM242 528h4v3h-4zM293 528h4v3h-4zM307 528h3v3h-3zM355 528h3v3h-3zM372 528h3v3h-3zM395 528h4v3h-4zM412 528h4v3h-4zM423 528h3v3h-3zM555 528h4v3h-4zM596 528h3v3h-3zM96 531h4v4h-4zM103 531h7v4h-7zM113 531h4v4h-4zM151 531h3v4h-3zM174 531h4v4h-4zM191 531h4v4h-4zM273 531h3v4h-3zM324 531h3v4h-3zM361 531h4v4h-4zM603 531h3v4h-3zM72 535h4v3h-4zM327 535h4v3h-4zM361 535h4v3h-4zM416 535h3v3h-3zM69 538h3v4h-3zM86 538h3v4h-3zM185 538h3v4h-3zM229 538h3v4h-3zM259 538h4v4h-4zM310 538h4v4h-4zM365 538h3v4h-3zM402 538h4v4h-4zM453 538h7v4h-7zM511 538h3v4h-3zM576 538h3v4h-3zM83 542h3v3h-3zM100 542h3v3h-3zM117 542h3v3h-3zM134 542h6v3h-6zM198 542h4v3h-4zM236 542h3v3h-3zM242 542h4v3h-4zM270 542h3v3h-3zM280 542h3v3h-3zM307 542h3v3h-3zM351 542h4v3h-4zM450 542h7v3h-7zM514 542h7v3h-7zM569 542h3v3h-3zM576 542h3v3h-3zM599 542h4v3h-4zM147 545h4v3h-4zM188 545h3v3h-3zM219 545h3v3h-3zM341 545h7v3h-7zM368 545h4v3h-4zM412 545h4v3h-4zM501 545h7v3h-7zM552 545h3v3h-3zM72 548h4v4h-4zM110 548h3v4h-3zM154 548h10v4h-10zM188 548h3v4h-3zM205 548h3v4h-3zM317 548h4v4h-4zM334 548h4v4h-4zM365 548h3v4h-3zM419 548h4v4h-4zM555 548h4v4h-4zM572 548h4v4h-4zM596 548h7v4h-7zM69 552h3v3h-3zM127 552h3v3h-3zM140 552h4v3h-4zM168 552h6v3h-6zM208 552h4v3h-4zM253 552h3v3h-3zM266 552h4v3h-4zM317 552h4v3h-4zM324 552h3v3h-3zM341 552h3v3h-3zM508 552h3v3h-3zM514 552h4v3h-4zM521 552h4v3h-4zM538 552h4v3h-4zM555 552h4v3h-4zM572 552h4v3h-4zM185 555h3v4h-3zM239 555h3v4h-3zM304 555h3v4h-3zM321 555h3v4h-3zM341 555h3v4h-3zM348 555h3v4h-3zM355 555h3v4h-3zM480 555h4v4h-4zM86 559h3v3h-3zM113 559h4v3h-4zM144 559h3v3h-3zM174 559h4v3h-4zM212 559h3v3h-3zM232 559h4v3h-4zM263 559h3v3h-3zM280 559h3v3h-3zM287 559h3v3h-3zM293 559h4v3h-4zM508 559h3v3h-3zM548 559h7v3h-7zM606 559h4v3h-4zM100 562h3v3h-3zM120 562h3v3h-3zM239 562h3v3h-3zM263 562h3v3h-3zM361 562h4v3h-4zM372 562h3v3h-3zM378 562h4v3h-4zM484 562h7v3h-7zM596 562h3v3h-3zM76 565h3v4h-3zM127 565h10v4h-10zM202 565h3v4h-3zM273 565h3v4h-3zM290 565h3v4h-3zM409 565h3v4h-3zM474 565h3v4h-3zM528 565h3v4h-3zM596 565h3v4h-3zM127 569h3v3h-3zM164 569h4v3h-4zM188 569h3v3h-3zM205 569h3v3h-3zM236 569h3v3h-3zM253 569h3v3h-3zM280 569h3v3h-3zM310 569h11v3h-11zM395 569h4v3h-4zM463 569h4v3h-4zM511 569h3v3h-3zM83 572h3v4h-3zM188 572h3v4h-3zM239 572h3v4h-3zM263 572h3v4h-3zM395 572h4v4h-4zM416 572h3v4h-3zM497 572h4v4h-4zM521 572h7v4h-7zM531 572h4v4h-4zM106 576h4v3h-4zM113 576h4v3h-4zM140 576h4v3h-4zM174 576h4v3h-4zM219 576h3v3h-3zM276 576h7v3h-7zM297 576h3v3h-3zM338 576h3v3h-3zM457 576h3v3h-3zM463 576h4v3h-4zM511 576h3v3h-3zM120 579h3v3h-3zM127 579h3v3h-3zM154 579h3v3h-3zM168 579h3v3h-3zM222 579h3v3h-3zM263 579h3v3h-3zM283 579h4v3h-4zM351 579h4v3h-4zM440 579h3v3h-3zM463 579h4v3h-4zM548 579h4v3h-4zM100 582h3v4h-3zM113 582h4v4h-4zM154 582h3v4h-3zM324 582h3v4h-3zM344 582h4v4h-4zM467 582h3v4h-3zM474 582h6v4h-6zM484 582h3v4h-3zM504 582h4v4h-4zM123 586h7v3h-7zM168 586h3v3h-3zM307 586h3v3h-3zM358 586h3v3h-3zM378 586h4v3h-4zM433 586h3v3h-3zM463 586h4v3h-4zM552 586h3v3h-3zM559 586h3v3h-3zM83 589h3v4h-3zM96 589h4v4h-4zM110 589h3v4h-3zM117 589h6v4h-6zM144 589h3v4h-3zM154 589h3v4h-3zM161 589h3v4h-3zM181 589h4v4h-4zM202 589h3v4h-3zM297 589h3v4h-3zM304 589h3v4h-3zM375 589h3v4h-3zM416 589h3v4h-3zM446 589h4v4h-4zM467 589h3v4h-3zM555 589h4v4h-4zM606 589h4v4h-4zM157 593h4v3h-4zM215 593h4v3h-4zM249 593h4v3h-4zM259 593h7v3h-7zM280 593h3v3h-3zM287 593h3v3h-3zM317 593h4v3h-4zM382 593h3v3h-3zM429 593h4v3h-4zM467 593h3v3h-3zM528 593h7v3h-7zM606 593h4v3h-4zM222 596h3v3h-3zM338 596h3v3h-3zM365 596h3v3h-3zM409 596h3v3h-3zM480 596h4v3h-4zM589 596h4v3h-4zM76 599h3v4h-3zM86 599h3v4h-3zM93 599h3v4h-3zM273 599h3v4h-3zM389 599h3v4h-3zM399 599h3v4h-3zM406 599h3v4h-3zM416 599h3v4h-3zM443 599h3v4h-3zM450 599h3v4h-3zM491 599h3v4h-3zM555 599h4v4h-4zM127 603h3v3h-3zM161 603h3v3h-3zM174 603h4v3h-4zM198 603h4v3h-4zM273 603h3v3h-3zM355 603h3v3h-3zM382 603h3v3h-3zM453 603h4v3h-4zM589 603h7v3h-7zM76 606h3v4h-3zM195 606h3v4h-3zM236 606h3v4h-3zM307 606h3v4h-3zM385 606h4v4h-4zM436 606h4v4h-4zM460 606h3v4h-3zM491 606h6v4h-6zM562 606h3v4h-3zM83 610h3v1h-3zM174 610h4v1h-4zM212 610h3v1h-3zM270 610h3v1h-3zM280 610h3v1h-3zM338 610h3v1h-3zM385 610h4v1h-4zM395 610h4v1h-4zM433 610h3v1h-3zM463 610h4v1h-4zM504 610h4v1h-4zM559 610h3v1h-3zM572 610h4v1h-4z"/><path fill="#c5c5c5" d="M406 69h3v3h-3zM429 69h4v3h-4zM157 72h4v4h-4zM178 72h3v4h-3zM535 72h3v4h-3zM140 79h4v4h-4zM188 79h3v4h-3zM212 79h3v4h-3zM287 79h3v4h-3zM307 79h3v4h-3zM548 79h4v4h-4zM555 79h4v4h-4zM249 83h4v3h-4zM324 83h3v3h-3zM151 86h3v3h-3zM256 86h3v3h-3zM514 86h4v3h-4zM208 89h4v4h-4zM236 89h3v4h-3zM290 89h3v4h-3zM355 89h3v4h-3zM429 89h4v4h-4zM572 89h4v4h-4zM110 93h3v3h-3zM225 93h4v3h-4zM416 93h3v3h-3zM433 93h3v3h-3zM531 93h4v3h-4zM123 96h4v4h-4zM290 96h7v4h-7zM559 96h3v4h-3zM365 100h3v3h-3zM477 100h3v3h-3zM514 100h4v3h-4zM89 103h4v3h-4zM463 103h4v3h-4zM72 106h4v4h-4zM300 106h4v4h-4zM494 106h3v4h-3zM154 110h3v3h-3zM497 110h4v3h-4zM157 117h4v3h-4zM164 117h4v3h-4zM205 117h3v3h-3zM508 117h3v3h-3zM117 120h3v3h-3zM144 120h3v3h-3zM212 120h3v3h-3zM338 120h3v3h-3zM361 123h4v4h-4zM389 123h3v4h-3zM593 123h3v4h-3zM212 127h3v3h-3zM246 127h3v3h-3zM185 130h3v4h-3zM253 130h3v4h-3zM290 130h3v4h-3zM399 130h3v4h-3zM494 130h3v4h-3zM76 134h3v3h-3zM185 134h3v3h-3zM185 137h3v3h-3zM327 137h4v3h-4zM89 140h4v4h-4zM161 140h3v4h-3zM249 140h4v4h-4zM453 140h4v4h-4zM385 144h4v3h-4zM494 144h3v3h-3zM569 144h3v3h-3zM72 147h4v4h-4zM86 147h3v4h-3zM270 147h3v4h-3zM300 147h4v4h-4zM378 147h4v4h-4zM79 151h4v3h-4zM110 151h3v3h-3zM144 151h3v3h-3zM525 151h6v3h-6zM134 154h3v3h-3zM263 154h3v3h-3zM525 154h3v3h-3zM79 157h4v4h-4zM429 157h4v4h-4zM127 161h7v3h-7zM249 161h4v3h-4zM310 161h4v3h-4zM392 161h3v3h-3zM412 161h4v3h-4zM300 164h7v4h-7zM113 168h4v3h-4zM375 168h3v3h-3zM409 168h3v3h-3zM314 171h3v3h-3zM446 171h4v3h-4zM103 174h3v4h-3zM137 174h3v4h-3zM385 174h4v4h-4zM382 178h3v3h-3zM100 181h3v4h-3zM232 181h4v4h-4zM470 181h4v4h-4zM134 185h6v3h-6zM174 185h4v3h-4zM181 185h4v3h-4zM338 185h3v3h-3zM113 188h4v3h-4zM198 188h4v3h-4zM416 188h3v3h-3zM103 191h3v4h-3zM120 191h3v4h-3zM222 191h3v4h-3zM137 195h3v3h-3zM198 195h4v3h-4zM280 195h3v3h-3zM361 195h4v3h-4zM470 195h4v3h-4zM304 198h3v4h-3zM406 198h3v4h-3zM555 198h4v4h-4zM562 198h3v4h-3zM276 202h4v3h-4zM300 202h4v3h-4zM314 202h3v3h-3zM365 202h3v3h-3zM525 202h3v3h-3zM208 205h4v3h-4zM276 205h4v3h-4zM603 205h3v3h-3zM134 208h3v4h-3zM154 208h3v4h-3zM327 208h4v4h-4zM348 208h3v4h-3zM429 208h4v4h-4zM113 212h4v3h-4zM253 212h3v3h-3zM307 212h3v3h-3zM559 212h3v3h-3zM412 215h4v4h-4zM222 219h3v3h-3zM249 219h4v3h-4zM491 219h3v3h-3zM181 222h4v3h-4zM457 222h3v3h-3zM293 225h4v4h-4zM572 225h4v4h-4zM174 229h4v3h-4zM205 229h3v3h-3zM266 229h4v3h-4zM276 229h4v3h-4zM283 229h4v3h-4zM355 229h3v3h-3zM423 229h3v3h-3zM457 232h3v4h-3zM535 232h3v4h-3zM89 236h4v3h-4zM334 236h4v3h-4zM161 239h3v3h-3zM263 239h3v3h-3zM290 239h3v3h-3zM361 239h4v3h-4zM103 242h3v4h-3zM263 242h3v4h-3zM287 242h3v4h-3zM406 242h3v4h-3zM525 249h3v4h-3zM382 256h3v3h-3zM79 259h4v4h-4zM144 259h3v4h-3zM151 259h3v4h-3zM304 259h3v4h-3zM426 259h3v4h-3zM470 259h4v4h-4zM501 259h3v4h-3zM548 259h4v4h-4zM242 263h4v3h-4zM395 263h4v3h-4zM433 263h3v3h-3zM215 266h4v4h-4zM324 266h3v4h-3zM344 266h4v4h-4zM212 270h3v3h-3zM314 270h3v3h-3zM480 270h4v3h-4zM171 273h3v3h-3zM236 273h3v3h-3zM378 273h4v3h-4zM440 273h3v3h-3zM487 273h4v3h-4zM351 276h4v4h-4zM511 280h3v3h-3zM334 283h4v4h-4zM385 283h4v4h-4zM423 287h3v3h-3zM535 287h3v3h-3zM154 290h3v3h-3zM304 290h3v3h-3zM120 293h3v4h-3zM368 293h4v4h-4zM528 293h3v4h-3zM208 297h7v3h-7zM69 300h3v4h-3zM181 300h4v4h-4zM416 300h3v4h-3zM127 304h3v3h-3zM589 307h4v3h-4zM120 310h3v4h-3zM514 310h4v4h-4zM314 314h3v3h-3zM552 314h3v3h-3zM287 317h3v4h-3zM457 317h3v4h-3zM273 321h3v3h-3zM344 321h4v3h-4zM307 324h3v3h-3zM341 324h3v3h-3zM548 324h4v3h-4zM185 327h3v4h-3zM402 327h4v4h-4zM504 327h4v4h-4zM545 327h3v4h-3zM147 331h4v3h-4zM375 331h3v3h-3zM511 331h3v3h-3zM528 331h3v3h-3zM229 338h3v3h-3zM423 338h3v3h-3zM253 341h3v3h-3zM266 344h7v4h-7zM389 344h3v4h-3zM375 348h3v3h-3zM392 348h3v3h-3zM565 348h4v3h-4zM599 351h4v4h-4zM89 355h4v3h-4zM168 355h3v3h-3zM542 355h3v3h-3zM467 358h3v3h-3zM208 361h4v4h-4zM433 361h3v4h-3zM457 365h3v3h-3zM542 365h3v3h-3zM484 368h3v4h-3zM236 372h3v3h-3zM154 375h3v3h-3zM185 375h3v3h-3zM130 378h4v4h-4zM137 378h3v4h-3zM280 378h3v4h-3zM399 378h3v4h-3zM409 378h3v4h-3zM593 378h3v4h-3zM96 382h4v3h-4zM358 382h3v3h-3zM433 382h3v3h-3zM181 385h4v4h-4zM287 385h3v4h-3zM293 385h4v4h-4zM429 385h4v4h-4zM100 389h3v3h-3zM113 389h4v3h-4zM378 389h4v3h-4zM412 389h4v3h-4zM123 392h4v3h-4zM246 395h3v4h-3zM474 399h3v3h-3zM528 399h3v3h-3zM559 402h3v4h-3zM208 409h4v3h-4zM144 412h3v4h-3zM511 412h3v4h-3zM140 416h4v3h-4zM168 416h3v3h-3zM531 416h4v3h-4zM83 419h3v4h-3zM178 419h3v4h-3zM348 419h3v4h-3zM239 423h3v3h-3zM433 423h3v3h-3zM372 426h3v3h-3zM412 426h4v3h-4zM334 429h4v4h-4zM375 429h3v4h-3zM127 433h3v3h-3zM300 433h4v3h-4zM110 436h3v4h-3zM106 440h4v3h-4zM154 440h3v3h-3zM562 440h3v3h-3zM93 446h3v4h-3zM168 457h3v3h-3zM280 460h3v3h-3zM610 460h1v3h-1zM525 463h3v4h-3zM69 470h3v4h-3zM450 470h3v4h-3zM491 470h3v4h-3zM416 474h3v3h-3zM511 474h3v3h-3zM69 477h3v3h-3zM140 477h4v3h-4zM256 477h3v3h-3zM140 487h4v4h-4zM321 487h3v4h-3zM429 487h4v4h-4zM555 487h4v4h-4zM174 491h4v3h-4zM198 491h4v3h-4zM419 491h4v3h-4zM521 491h4v3h-4zM79 494h4v3h-4zM117 494h3v3h-3zM579 494h3v3h-3zM443 497h3v4h-3zM290 501h3v3h-3zM586 501h3v3h-3zM314 504h3v4h-3zM385 504h4v4h-4zM589 504h4v4h-4zM144 508h3v3h-3zM484 508h3v3h-3zM593 508h3v3h-3zM212 511h3v3h-3zM477 511h3v3h-3zM174 514h4v4h-4zM222 514h3v4h-3zM423 514h3v4h-3zM525 514h3v4h-3zM181 518h4v3h-4zM130 521h4v4h-4zM157 521h4v4h-4zM249 521h4v4h-4zM443 521h3v4h-3zM130 525h4v3h-4zM168 525h3v3h-3zM361 525h4v3h-4zM548 525h4v3h-4zM603 525h3v3h-3zM334 528h4v3h-4zM511 528h3v3h-3zM198 531h4v4h-4zM253 531h3v4h-3zM317 531h4v4h-4zM341 531h3v4h-3zM191 535h4v3h-4zM208 535h4v3h-4zM477 535h3v3h-3zM531 535h4v3h-4zM123 542h4v3h-4zM338 542h3v3h-3zM372 542h3v3h-3zM555 542h4v3h-4zM205 545h3v3h-3zM239 545h3v3h-3zM246 545h3v3h-3zM222 548h3v4h-3zM242 548h4v4h-4zM446 548h4v4h-4zM290 552h3v3h-3zM290 555h7v4h-7zM344 555h4v4h-4zM69 562h3v3h-3zM249 562h4v3h-4zM341 562h3v3h-3zM174 565h4v4h-4zM263 569h3v3h-3zM96 572h4v4h-4zM198 572h4v4h-4zM297 572h3v4h-3zM548 572h4v4h-4zM501 576h3v3h-3zM460 579h3v3h-3zM79 582h4v4h-4zM181 582h4v4h-4zM314 582h3v4h-3zM273 586h3v3h-3zM310 586h4v3h-4zM365 589h3v4h-3zM89 593h4v3h-4zM140 593h4v3h-4zM134 599h3v4h-3zM256 606h3v4h-3zM378 606h4v4h-4zM127 610h3v1h-3zM208 610h4v1h-4zM229 610h3v1h-3zM511 610h3v1h-3z"/><path fill="#b2b2b2" d="M134 69h3v3h-3zM579 69h3v3h-3zM72 79h4v4h-4zM93 100h3v3h-3zM416 106h3v4h-3zM83 130h3v4h-3zM236 130h3v4h-3zM137 134h3v3h-3zM96 144h4v3h-4zM341 157h3v4h-3zM555 174h4v4h-4zM171 181h3v4h-3zM219 181h3v4h-3zM361 181h4v4h-4zM222 195h3v3h-3zM130 205h4v3h-4zM389 212h3v3h-3zM484 212h3v3h-3zM392 229h3v3h-3zM474 232h3v4h-3zM215 283h4v4h-4zM368 297h4v3h-4zM599 300h4v4h-4zM69 307h3v3h-3zM321 307h3v3h-3zM219 314h3v3h-3zM93 331h3v3h-3zM137 365h3v3h-3zM144 372h3v3h-3zM219 375h3v3h-3zM599 382h4v3h-4zM222 395h3v4h-3zM348 399h3v3h-3zM514 409h4v3h-4zM96 412h4v4h-4zM191 412h4v4h-4zM385 416h4v3h-4zM569 419h3v4h-3zM239 446h3v4h-3zM208 460h4v3h-4zM219 467h3v3h-3zM300 484h4v3h-4zM256 487h3v4h-3zM174 494h4v3h-4zM242 501h4v3h-4zM300 514h4v4h-4zM392 521h3v4h-3zM395 531h4v4h-4zM89 582h4v4h-4zM249 603h4v3h-4zM283 606h4v4h-4z"/><path fill="#9e9e9e" d="M110 293h3v4h-3zM185 310h3v4h-3zM168 351h3v4h-3zM300 423h4v3h-4zM606 463h4v4h-4zM110 508h3v3h-3zM76 576h3v3h-3z"/></g>
<g shape-rendering="crispEdges"><rect x="329" y="333" width="4" height="4" fill="#6e6e6e"/><rect x="329" y="337" width="4" height="4" fill="#828282"/><rect x="326" y="341" width="3" height="3" fill="#969696"/><rect x="333" y="334" width="3" height="4" fill="#969696"/><rect x="336" y="338" width="3" height="3" fill="#646464"/><rect x="336" y="341" width="3" height="3" fill="#0c0c0c"/><rect x="339" y="332" width="3" height="5" fill="#6e6e6e"/><rect x="339" y="327" width="3" height="3" fill="#787878"/><rect x="325" y="323" width="3" height="4" fill="#969696"/><rect x="347" y="344" width="3" height="3" fill="#787878"/><rect x="320" y="337" width="4" height="4" fill="#bebebe"/><rect x="343" y="351" width="3" height="4" fill="#969696"/><rect x="320" y="355" width="3" height="3" fill="#969696"/><rect x="333" y="338" width="3" height="3" fill="#aaaaaa"/><rect x="330" y="344" width="6" height="4" fill="#c8c8c8"/><rect x="326" y="337" width="3" height="4" fill="#afafaf"/><rect x="342" y="336" width="4" height="4" fill="#b9b9b9"/><rect x="599" y="459" width="4" height="3" fill="#787878"/><rect x="586" y="462" width="4" height="3" fill="#aaaaaa"/><rect x="599" y="465" width="4" height="3" fill="#5a5a5a"/><rect x="603" y="465" width="4" height="3" fill="#8c8c8c"/><rect x="598" y="469" width="4" height="4" fill="#5a5a5a"/><rect x="602" y="469" width="4" height="4" fill="#141414"/><rect x="598" y="473" width="4" height="3" fill="#bebebe"/><rect x="602" y="473" width="7" height="3" fill="#8c8c8c"/><rect x="596" y="465" width="3" height="3" fill="#b4b4b4"/><rect x="255" y="203" width="4" height="4" fill="#afafaf"/><rect x="262" y="210" width="4" height="4" fill="#aaaaaa"/><rect x="266" y="214" width="3" height="3" fill="#b4b4b4"/><rect x="256" y="217" width="3" height="3" fill="#b4b4b4"/><rect x="259" y="218" width="7" height="9" fill="#cdcdcd"/><rect x="249" y="223" width="4" height="3" fill="#afafaf"/><rect x="245" y="221" width="4" height="3" fill="#bebebe"/><rect x="249" y="217" width="3" height="3" fill="#c8c8c8"/><rect x="369" y="286" width="4" height="4" fill="#afafaf"/><rect x="373" y="293" width="3" height="6" fill="#b4b4b4"/><rect x="356" y="283" width="3" height="4" fill="#b4b4b4"/><rect x="372" y="279" width="4" height="4" fill="#c8c8c8"/><rect x="329" y="537" width="4" height="10" fill="#aaaaaa"/></g>
<text x="95.77" y="95.00" font-size="16.40" textLength="20.64" lengthAdjust="spacingAndGlyphs" fill="#0000ff" style="font-family:'Liberation Serif',serif">RA</text>
<text x="125.37" y="95.00" font-size="16.40" textLength="12.85" lengthAdjust="spacingAndGlyphs" fill="#0000ff" style="font-family:'Liberation Serif',serif">=</text>
<text x="147.48" y="95.00" font-size="16.40" textLength="98.12" lengthAdjust="spacingAndGlyphs" fill="#0000ff" style="font-family:'Liberation Serif',serif">122.383125</text>
<text x="276.61" y="95.00" font-size="16.40" textLength="33.72" lengthAdjust="spacingAndGlyphs" fill="#0000ff" style="font-family:'Liberation Serif',serif">DEC</text>
<text x="318.60" y="95.00" font-size="16.40" textLength="12.48" lengthAdjust="spacingAndGlyphs" fill="#0000ff" style="font-family:'Liberation Serif',serif">=</text>
<text x="340.75" y="95.00" font-size="16.40" textLength="101.41" lengthAdjust="spacingAndGlyphs" fill="#0000ff" style="font-family:'Liberation Serif',serif">−47.336592</text>
<text x="458.03" y="95.00" font-size="16.40" textLength="42.24" lengthAdjust="spacingAndGlyphs" fill="#0000ff" style="font-family:'Liberation Serif',serif">ROLL</text>
<text x="509.27" y="95.00" font-size="16.40" textLength="11.63" lengthAdjust="spacingAndGlyphs" fill="#0000ff" style="font-family:'Liberation Serif',serif">=</text>
<text x="529.80" y="95.00" font-size="16.40" textLength="67.99" lengthAdjust="spacingAndGlyphs" fill="#0000ff" style="font-family:'Liberation Serif',serif">87.7948</text>
<text x="95.01" y="121.80" font-size="16.40" textLength="43.81" lengthAdjust="spacingAndGlyphs" fill="#0000ff" style="font-family:'Liberation Serif',serif">YOFF</text>
<text x="146.41" y="121.80" font-size="16.40" textLength="13.45" lengthAdjust="spacingAndGlyphs" fill="#0000ff" style="font-family:'Liberation Serif',serif">=</text>
<text x="185.30" y="121.80" font-size="16.40" textLength="52.15" lengthAdjust="spacingAndGlyphs" fill="#0000ff" style="font-family:'Liberation Serif',serif">0.000′</text>
<text x="275.75" y="121.80" font-size="16.40" textLength="43.39" lengthAdjust="spacingAndGlyphs" fill="#0000ff" style="font-family:'Liberation Serif',serif">ZOFF</text>
<text x="327.61" y="121.80" font-size="16.40" textLength="13.45" lengthAdjust="spacingAndGlyphs" fill="#0000ff" style="font-family:'Liberation Serif',serif">=</text>
<text x="358.22" y="121.80" font-size="16.40" textLength="60.79" lengthAdjust="spacingAndGlyphs" fill="#0000ff" style="font-family:'Liberation Serif',serif">0.0000′</text>
<text x="457.70" y="121.80" font-size="16.40" textLength="39.78" lengthAdjust="spacingAndGlyphs" fill="#0000ff" style="font-family:'Liberation Serif',serif">ZSIM</text>
<text x="505.42" y="121.80" font-size="16.40" textLength="13.33" lengthAdjust="spacingAndGlyphs" fill="#0000ff" style="font-family:'Liberation Serif',serif">=</text>
<text x="528.35" y="121.80" font-size="16.40" textLength="91.26" lengthAdjust="spacingAndGlyphs" fill="#0000ff" style="font-family:'Liberation Serif',serif">−6.139957</text>
<text x="630.32" y="121.80" font-size="16.40" textLength="52.01" lengthAdjust="spacingAndGlyphs" fill="#0000ff" style="font-family:'Liberation Serif',serif">56−09</text>
<text x="95.54" y="148.40" font-size="16.40" textLength="37.89" lengthAdjust="spacingAndGlyphs" fill="#0000ff" style="font-family:'Liberation Serif',serif">ACIS</text>
<text x="139.62" y="148.40" font-size="16.40" textLength="24.45" lengthAdjust="spacingAndGlyphs" fill="#0000ff" style="font-family:'Liberation Serif',serif">PB</text>
<text x="172.69" y="148.40" font-size="16.40" textLength="12.60" lengthAdjust="spacingAndGlyphs" fill="#0000ff" style="font-family:'Liberation Serif',serif">=</text>
<text x="195.28" y="148.40" font-size="16.40" textLength="105.11" lengthAdjust="spacingAndGlyphs" fill="#0000ff" style="font-family:'Liberation Serif',serif">WT0088E024</text>
<text x="174.67" y="601.00" font-size="10.80" textLength="31.42" lengthAdjust="spacingAndGlyphs" fill="#1a8c00" style="font-family:'Liberation Serif',serif" stroke="#1a8c00" stroke-width="0.25">Green</text>
<text x="211.52" y="601.00" font-size="10.80" textLength="40.56" lengthAdjust="spacingAndGlyphs" fill="#1a8c00" style="font-family:'Liberation Serif',serif" stroke="#1a8c00" stroke-width="0.25">denotes</text>
<text x="257.78" y="601.00" font-size="10.80" textLength="47.49" lengthAdjust="spacingAndGlyphs" fill="#1a8c00" style="font-family:'Liberation Serif',serif" stroke="#1a8c00" stroke-width="0.25">presence</text>
<text x="310.93" y="601.00" font-size="10.80" textLength="19.13" lengthAdjust="spacingAndGlyphs" fill="#1a8c00" style="font-family:'Liberation Serif',serif" stroke="#1a8c00" stroke-width="0.25">and</text>
<text x="335.19" y="601.00" font-size="10.80" textLength="45.37" lengthAdjust="spacingAndGlyphs" fill="#1a8c00" style="font-family:'Liberation Serif',serif" stroke="#1a8c00" stroke-width="0.25">ordering</text>
<text x="386.74" y="601.00" font-size="10.80" textLength="9.96" lengthAdjust="spacingAndGlyphs" fill="#1a8c00" style="font-family:'Liberation Serif',serif" stroke="#1a8c00" stroke-width="0.25">of</text>
<text x="401.49" y="601.00" font-size="10.80" textLength="43.67" lengthAdjust="spacingAndGlyphs" fill="#1a8c00" style="font-family:'Liberation Serif',serif" stroke="#1a8c00" stroke-width="0.25">optional</text>
<text x="449.90" y="601.00" font-size="10.80" textLength="23.54" lengthAdjust="spacingAndGlyphs" fill="#1a8c00" style="font-family:'Liberation Serif',serif" stroke="#1a8c00" stroke-width="0.25">ACIS</text>
<text x="478.49" y="601.00" font-size="10.80" textLength="28.19" lengthAdjust="spacingAndGlyphs" fill="#1a8c00" style="font-family:'Liberation Serif',serif" stroke="#1a8c00" stroke-width="0.25">chips</text>
<g fill="none" stroke="#0000ff" stroke-width="1" shape-rendering="crispEdges">
<polygon points="223.4,304.5 261.9,303.0 263.4,341.5 224.9,343.0"/>
<polygon points="261.9,303.0 300.4,301.5 301.9,340.1 263.4,341.5"/>
<polygon points="224.9,343.0 263.4,341.5 264.9,380.1 226.4,381.5"/>
<polygon points="263.4,341.5 301.9,340.1 303.4,378.6 264.9,380.1"/>
<polygon points="308.3,217.3 346.9,215.8 348.4,254.4 309.8,255.9"/>
<polygon points="309.8,255.9 348.4,254.4 349.9,292.9 311.3,294.4"/>
<polygon points="311.3,294.4 349.9,292.9 351.4,331.5 312.8,333.0"/>
<polygon points="312.8,333.0 351.4,331.5 352.9,370.1 314.4,371.6"/>
<polygon points="314.4,371.6 352.9,370.1 354.4,408.6 315.9,410.2"/>
<polygon points="315.9,410.2 354.4,408.6 356.0,447.2 317.4,448.7"/>
</g>
<text x="248.0" y="326.6" font-size="12.0" text-anchor="middle" fill="#0000ff" style="font-family:'Liberation Serif',serif">0</text>
<text x="283.2" y="325.8" font-size="12.0" text-anchor="middle" fill="#0000ff" style="font-family:'Liberation Serif',serif">2</text>
<text x="249.3" y="362.8" font-size="12.0" text-anchor="middle" fill="#0000ff" style="font-family:'Liberation Serif',serif">1</text>
<text x="284.7" y="360.8" font-size="12.0" text-anchor="middle" fill="#0000ff" style="font-family:'Liberation Serif',serif">3</text>
<text x="329.0" y="239.0" font-size="18.0" text-anchor="middle" fill="#ff0080" style="font-family:'Liberation Serif',serif">0</text>
<text x="330.8" y="276.6" font-size="18.0" text-anchor="middle" fill="#ff0080" style="font-family:'Liberation Serif',serif">1</text>
<text x="332.0" y="315.3" font-size="18.0" text-anchor="middle" fill="#ff0080" style="font-family:'Liberation Serif',serif">2</text>
<text x="333.5" y="355.7" font-size="18.0" text-anchor="middle" fill="#ff0080" style="font-family:'Liberation Serif',serif">3</text>
<text x="335.3" y="393.0" font-size="18.0" text-anchor="middle" fill="#ff0080" style="font-family:'Liberation Serif',serif">4</text>
<text x="336.5" y="430.8" font-size="18.0" text-anchor="middle" fill="#ff0080" style="font-family:'Liberation Serif',serif">5</text>
<text x="329.5" y="246.0" font-size="10.0" text-anchor="middle" fill="#1a8c00" style="font-family:'Liberation Serif',serif">1</text>
<text x="336.3" y="437.6" font-size="10.0" text-anchor="middle" fill="#1a8c00" style="font-family:'Liberation Serif',serif">2</text>
<ellipse cx="342.5" cy="340.7" rx="1.7" ry="6.2" transform="rotate(20 342.5 340.7)" fill="none" stroke="#0000ff" stroke-width="1.2" stroke-dasharray="1.8 1.2"/>
<g fill="#ff0000" shape-rendering="crispEdges"><rect x="334" y="332" width="1" height="1"/><rect x="335" y="333" width="1" height="1"/><rect x="336" y="334" width="1" height="1"/><rect x="337" y="335" width="1" height="1"/><rect x="338" y="336" width="1" height="1"/><rect x="339" y="337" width="1" height="1"/><rect x="340" y="338" width="1" height="1"/><rect x="341" y="339" width="1" height="1"/><rect x="342" y="340" width="1" height="1"/><rect x="343" y="341" width="1" height="1"/><rect x="344" y="342" width="1" height="1"/><rect x="345" y="343" width="1" height="1"/><rect x="346" y="344" width="1" height="1"/><rect x="347" y="345" width="1" height="1"/><rect x="347" y="332" width="1" height="1"/><rect x="346" y="333" width="1" height="1"/><rect x="345" y="334" width="1" height="1"/><rect x="344" y="335" width="1" height="1"/><rect x="343" y="336" width="1" height="1"/><rect x="342" y="337" width="1" height="1"/><rect x="341" y="338" width="1" height="1"/><rect x="340" y="339" width="1" height="1"/><rect x="339" y="340" width="1" height="1"/><rect x="338" y="341" width="1" height="1"/><rect x="337" y="342" width="1" height="1"/><rect x="336" y="343" width="1" height="1"/><rect x="335" y="344" width="1" height="1"/><rect x="334" y="345" width="1" height="1"/><rect x="340" y="338" width="2" height="2"/></g>
<g stroke="#1088ff" stroke-width="1" shape-rendering="crispEdges" fill="none">
<path d="M68.5 68.5H611.5V611.5H68.5Z"/>
<path d="M83.5 68V73M120.5 68V73M157.5 68V73M194.5 68V73M268.5 68V73M305.5 68V73M342.5 68V73M378.5 68V73M452.5 68V73M489.5 68V73M526.5 68V73M563.5 68V73M231.5 68V79M415.5 68V79M600.5 68V79M93.5 612V599M185.5 612V599M277.5 612V599M369.5 612V599M461.5 612V599M554.5 612V599M139.5 612V607M231.5 612V607M323.5 612V607M415.5 612V607M507.5 612V607M600.5 612V607M68 69.5H80M68 160.5H80M68 250.5H80M68 341.5H80M68 432.5H80M68 523.5H80M68 114.5H73M68 205.5H73M68 296.5H73M68 387.5H73M68 477.5H73M68 568.5H73M68 609.5H73"/>
</g>
<defs><linearGradient id="cb" x1="0" y1="0" x2="0" y2="1"><stop offset="0" stop-color="#000"/><stop offset="1" stop-color="#fff"/></linearGradient></defs>
<rect x="616" y="69" width="20" height="542" fill="url(#cb)"/>
<g stroke="#1088ff" stroke-width="1" shape-rendering="crispEdges" fill="none">
<path d="M615.5 68.5H636.5V611.5H615.5Z"/>
<path d="M616 566.5H619 M634 566.5H636M616 520.5H621 M631 520.5H636M616 475.5H619 M634 475.5H636M616 430.5H621 M631 430.5H636M616 385.5H619 M634 385.5H636M616 339.5H621 M631 339.5H636M616 294.5H619 M634 294.5H636M616 249.5H621 M631 249.5H636M616 204.5H619 M634 204.5H636M616 158.5H621 M631 158.5H636M616 113.5H619 M634 113.5H636"/>
</g>
<g>
<text x="89.50" y="35.00" font-size="18.00" textLength="49.41" lengthAdjust="spacingAndGlyphs" fill="#1088ff" style="font-family:'Liberation Serif',serif">Name</text>
<text x="147.49" y="35.00" font-size="18.00" textLength="24.04" lengthAdjust="spacingAndGlyphs" fill="#1088ff" style="font-family:'Liberation Serif',serif">WR</text>
<text x="179.60" y="35.00" font-size="18.00" textLength="27.07" lengthAdjust="spacingAndGlyphs" fill="#1088ff" style="font-family:'Liberation Serif',serif">11,</text>
<text x="213.46" y="35.00" font-size="18.00" textLength="32.23" lengthAdjust="spacingAndGlyphs" fill="#1088ff" style="font-family:'Liberation Serif',serif">Seq</text>
<text x="253.43" y="35.00" font-size="18.00" textLength="10.35" lengthAdjust="spacingAndGlyphs" fill="#1088ff" style="font-family:'Liberation Serif',serif">#</text>
<text x="272.88" y="35.00" font-size="18.00" textLength="67.83" lengthAdjust="spacingAndGlyphs" fill="#1088ff" style="font-family:'Liberation Serif',serif">201817,</text>
<text x="348.89" y="35.00" font-size="18.00" textLength="47.35" lengthAdjust="spacingAndGlyphs" fill="#1088ff" style="font-family:'Liberation Serif',serif">Obsid</text>
<text x="404.69" y="35.00" font-size="18.00" textLength="58.25" lengthAdjust="spacingAndGlyphs" fill="#1088ff" style="font-family:'Liberation Serif',serif">30518,</text>
<text x="470.72" y="35.00" font-size="18.00" textLength="20.57" lengthAdjust="spacingAndGlyphs" fill="#1088ff" style="font-family:'Liberation Serif',serif">ST</text>
<text x="499.24" y="35.00" font-size="18.00" textLength="90.72" lengthAdjust="spacingAndGlyphs" fill="#1088ff" style="font-family:'Liberation Serif',serif">Scheduled</text>
<text x="218.48" y="62.00" font-size="16.50" textLength="26.00" lengthAdjust="spacingAndGlyphs" fill="#1088ff" style="font-family:'Liberation Serif',serif">123</text>
<text x="403.18" y="62.00" font-size="16.50" textLength="25.98" lengthAdjust="spacingAndGlyphs" fill="#1088ff" style="font-family:'Liberation Serif',serif">122</text>
<text x="587.29" y="62.00" font-size="16.50" textLength="25.85" lengthAdjust="spacingAndGlyphs" fill="#1088ff" style="font-family:'Liberation Serif',serif">121</text>
<text x="63.30" y="634.00" font-size="16.30" textLength="59.98" lengthAdjust="spacingAndGlyphs" fill="#1088ff" style="font-family:'Liberation Serif',serif">08h15m</text>
<text x="155.30" y="634.00" font-size="16.30" textLength="59.98" lengthAdjust="spacingAndGlyphs" fill="#1088ff" style="font-family:'Liberation Serif',serif">08h13m</text>
<text x="247.30" y="634.00" font-size="16.30" textLength="59.98" lengthAdjust="spacingAndGlyphs" fill="#1088ff" style="font-family:'Liberation Serif',serif">08h11m</text>
<text x="339.30" y="634.00" font-size="16.30" textLength="59.98" lengthAdjust="spacingAndGlyphs" fill="#1088ff" style="font-family:'Liberation Serif',serif">08h09m</text>
<text x="431.30" y="634.00" font-size="16.30" textLength="59.98" lengthAdjust="spacingAndGlyphs" fill="#1088ff" style="font-family:'Liberation Serif',serif">08h07m</text>
<text x="523.30" y="634.00" font-size="16.30" textLength="59.98" lengthAdjust="spacingAndGlyphs" fill="#1088ff" style="font-family:'Liberation Serif',serif">08h05m</text>
<text x="-97.95" y="0.00" font-size="16.00" textLength="57.89" lengthAdjust="spacingAndGlyphs" fill="#1088ff" style="font-family:'Liberation Serif',serif" transform="translate(62.4 0) rotate(-90)">−46 20′</text>
<text x="-188.20" y="0.00" font-size="16.00" textLength="55.10" lengthAdjust="spacingAndGlyphs" fill="#1088ff" style="font-family:'Liberation Serif',serif" transform="translate(62.4 0) rotate(-90)">−46 40′</text>
<text x="-279.76" y="0.00" font-size="16.00" textLength="58.31" lengthAdjust="spacingAndGlyphs" fill="#1088ff" style="font-family:'Liberation Serif',serif" transform="translate(62.4 0) rotate(-90)">−45 00′</text>
<text x="-369.73" y="0.00" font-size="16.00" textLength="56.75" lengthAdjust="spacingAndGlyphs" fill="#1088ff" style="font-family:'Liberation Serif',serif" transform="translate(62.4 0) rotate(-90)">−47 20′</text>
<text x="-460.30" y="0.00" font-size="16.00" textLength="54.69" lengthAdjust="spacingAndGlyphs" fill="#1088ff" style="font-family:'Liberation Serif',serif" transform="translate(62.4 0) rotate(-90)">−47 40′</text>
<text x="-552.26" y="0.00" font-size="16.00" textLength="58.62" lengthAdjust="spacingAndGlyphs" fill="#1088ff" style="font-family:'Liberation Serif',serif" transform="translate(62.4 0) rotate(-90)">−46 00′</text>
<text x="-391.00" y="0.00" font-size="19.20" textLength="102.31" lengthAdjust="spacingAndGlyphs" fill="#1088ff" style="font-family:'Liberation Serif',serif" transform="translate(32.2 0) rotate(-90)">Dec (J2000)</text>
<text x="292.62" y="666.20" font-size="18.30" textLength="95.07" lengthAdjust="spacingAndGlyphs" fill="#1088ff" style="font-family:'Liberation Serif',serif">RA (J2000)</text>
<text x="-614.07" y="0.00" font-size="10.50" textLength="6.13" lengthAdjust="spacingAndGlyphs" fill="#1088ff" style="font-family:'Liberation Serif',serif" transform="translate(648.4 0) rotate(-90)">0</text>
<text x="-523.67" y="0.00" font-size="10.50" textLength="6.49" lengthAdjust="spacingAndGlyphs" fill="#1088ff" style="font-family:'Liberation Serif',serif" transform="translate(648.4 0) rotate(-90)">2</text>
<text x="-432.82" y="0.00" font-size="10.50" textLength="5.59" lengthAdjust="spacingAndGlyphs" fill="#1088ff" style="font-family:'Liberation Serif',serif" transform="translate(648.4 0) rotate(-90)">4</text>
<text x="-342.62" y="0.00" font-size="10.50" textLength="6.09" lengthAdjust="spacingAndGlyphs" fill="#1088ff" style="font-family:'Liberation Serif',serif" transform="translate(648.4 0) rotate(-90)">6</text>
<text x="-252.07" y="0.00" font-size="10.50" textLength="6.13" lengthAdjust="spacingAndGlyphs" fill="#1088ff" style="font-family:'Liberation Serif',serif" transform="translate(648.4 0) rotate(-90)">8</text>
<text x="-164.63" y="0.00" font-size="10.50" textLength="11.67" lengthAdjust="spacingAndGlyphs" fill="#1088ff" style="font-family:'Liberation Serif',serif" transform="translate(648.4 0) rotate(-90)">10</text>
<text x="-74.15" y="0.00" font-size="10.50" textLength="11.90" lengthAdjust="spacingAndGlyphs" fill="#1088ff" style="font-family:'Liberation Serif',serif" transform="translate(648.4 0) rotate(-90)">12</text>
<text x="-131.54" y="0.00" font-size="9.60" textLength="62.56" lengthAdjust="spacingAndGlyphs" fill="#1088ff" style="font-family:'Liberation Serif',serif" transform="translate(658.3 0) rotate(-90)">RASS counts</text>
</g>
<text x="548.40" y="672.90" font-size="10.90" textLength="129.02" lengthAdjust="spacingAndGlyphs" fill="#ffffff" style="font-family:'Liberation Sans',sans-serif">ejos 16–Oct–2025 22:38</text>
</svg></body></html>
